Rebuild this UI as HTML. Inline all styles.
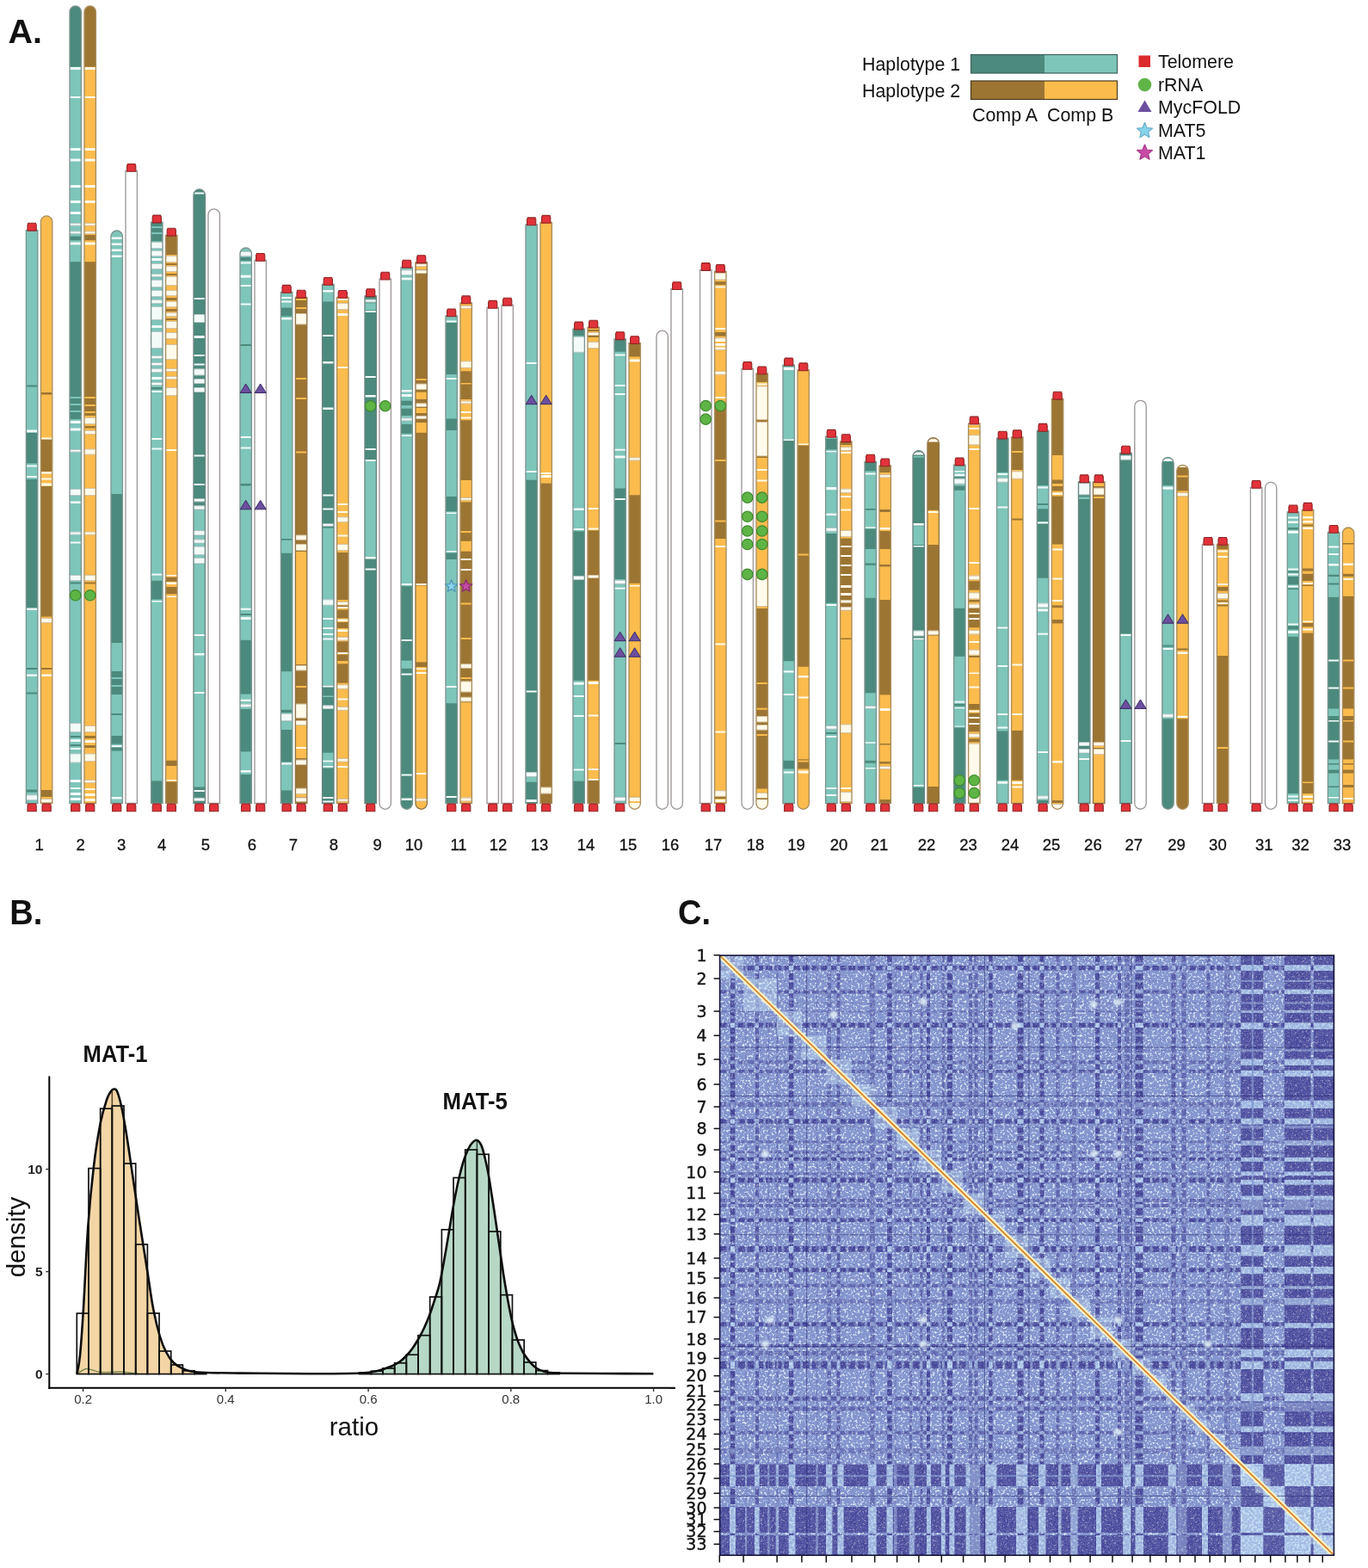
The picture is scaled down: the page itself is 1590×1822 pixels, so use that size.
<!DOCTYPE html>
<html><head><meta charset="utf-8"><title>Figure</title>
<style>html,body{margin:0;padding:0;background:#fff;} svg{display:block;}</style>
</head><body>
<svg width="1590" height="1822" viewBox="0 0 1590 1822" font-family="'Liberation Sans', Arial, sans-serif" fill="#111">
<defs><clipPath id="c1"><path d="M30.4,267.3 L43.8,267.3 L43.8,933.5 L30.4,933.5 Z"/></clipPath><clipPath id="c2"><path d="M47.4,257.6 A6.7,6.7 0 0 1 60.8,257.6 L60.8,933.5 L47.4,933.5 Z"/></clipPath><clipPath id="c3"><path d="M81,13.7 A6.7,6.7 0 0 1 94.4,13.7 L94.4,933.5 L81,933.5 Z"/></clipPath><clipPath id="c4"><path d="M98,13.7 A6.7,6.7 0 0 1 111.4,13.7 L111.4,933.5 L98,933.5 Z"/></clipPath><clipPath id="c5"><path d="M129,274.7 A6.7,6.7 0 0 1 142.4,274.7 L142.4,933.5 L129,933.5 Z"/></clipPath><clipPath id="c6"><path d="M146,198.5 L159.4,198.5 L159.4,933.5 L146,933.5 Z"/></clipPath><clipPath id="c7"><path d="M175.6,258.1 L189,258.1 L189,933.5 L175.6,933.5 Z"/></clipPath><clipPath id="c8"><path d="M192.6,273.3 L206,273.3 L206,933.5 L192.6,933.5 Z"/></clipPath><clipPath id="c9"><path d="M225,226.7 A6.7,6.7 0 0 1 238.4,226.7 L238.4,933.5 L225,933.5 Z"/></clipPath><clipPath id="c10"><path d="M242,249.5 A6.7,6.7 0 0 1 255.4,249.5 L255.4,933.5 L242,933.5 Z"/></clipPath><clipPath id="c11"><path d="M279,294.7 A6.7,6.7 0 0 1 292.4,294.7 L292.4,933.5 L279,933.5 Z"/></clipPath><clipPath id="c12"><path d="M296,302.5 L309.4,302.5 L309.4,933.5 L296,933.5 Z"/></clipPath><clipPath id="c13"><path d="M326.4,339.4 L339.8,339.4 L339.8,933.5 L326.4,933.5 Z"/></clipPath><clipPath id="c14"><path d="M343.4,345.3 L356.8,345.3 L356.8,933.5 L343.4,933.5 Z"/></clipPath><clipPath id="c15"><path d="M374.6,330.5 L388,330.5 L388,933.5 L374.6,933.5 Z"/></clipPath><clipPath id="c16"><path d="M391.6,345.5 L405,345.5 L405,933.5 L391.6,933.5 Z"/></clipPath><clipPath id="c17"><path d="M424,343.8 L437.4,343.8 L437.4,933.5 L424,933.5 Z"/></clipPath><clipPath id="c18"><path d="M441,324.2 L454.4,324.2 L454.4,933.6 A6.7,6.7 0 0 1 441,933.6 Z"/></clipPath><clipPath id="c19"><path d="M466,310.3 L479.4,310.3 L479.4,933.6 A6.7,6.7 0 0 1 466,933.6 Z"/></clipPath><clipPath id="c20"><path d="M483,304.8 L496.4,304.8 L496.4,933.6 A6.7,6.7 0 0 1 483,933.6 Z"/></clipPath><clipPath id="c21"><path d="M518,367 L531.4,367 L531.4,933.5 L518,933.5 Z"/></clipPath><clipPath id="c22"><path d="M535,351.9 L548.4,351.9 L548.4,933.5 L535,933.5 Z"/></clipPath><clipPath id="c23"><path d="M566,357.4 L579.4,357.4 L579.4,933.5 L566,933.5 Z"/></clipPath><clipPath id="c24"><path d="M583,354.3 L596.4,354.3 L596.4,933.5 L583,933.5 Z"/></clipPath><clipPath id="c25"><path d="M611,260.9 L624.4,260.9 L624.4,933.5 L611,933.5 Z"/></clipPath><clipPath id="c26"><path d="M628,258.4 L641.4,258.4 L641.4,933.5 L628,933.5 Z"/></clipPath><clipPath id="c27"><path d="M666,382.1 L679.4,382.1 L679.4,933.5 L666,933.5 Z"/></clipPath><clipPath id="c28"><path d="M683,380.2 L696.4,380.2 L696.4,933.5 L683,933.5 Z"/></clipPath><clipPath id="c29"><path d="M714,393.8 L727.4,393.8 L727.4,933.5 L714,933.5 Z"/></clipPath><clipPath id="c30"><path d="M731,398.7 L744.4,398.7 L744.4,933.6 A6.7,6.7 0 0 1 731,933.6 Z"/></clipPath><clipPath id="c31"><path d="M763,390.9 A6.7,6.7 0 0 1 776.4,390.9 L776.4,933.6 A6.7,6.7 0 0 1 763,933.6 Z"/></clipPath><clipPath id="c32"><path d="M780,335.7 L793.4,335.7 L793.4,933.6 A6.7,6.7 0 0 1 780,933.6 Z"/></clipPath><clipPath id="c33"><path d="M813.6,313.6 L827,313.6 L827,933.5 L813.6,933.5 Z"/></clipPath><clipPath id="c34"><path d="M830.6,315.5 L844,315.5 L844,933.5 L830.6,933.5 Z"/></clipPath><clipPath id="c35"><path d="M862,428.5 L875.4,428.5 L875.4,933.6 A6.7,6.7 0 0 1 862,933.6 Z"/></clipPath><clipPath id="c36"><path d="M879,434 L892.4,434 L892.4,933.6 A6.7,6.7 0 0 1 879,933.6 Z"/></clipPath><clipPath id="c37"><path d="M910,424.1 L923.4,424.1 L923.4,933.5 L910,933.5 Z"/></clipPath><clipPath id="c38"><path d="M927,429.9 L940.4,429.9 L940.4,933.6 A6.7,6.7 0 0 1 927,933.6 Z"/></clipPath><clipPath id="c39"><path d="M959.6,507.4 L973,507.4 L973,933.5 L959.6,933.5 Z"/></clipPath><clipPath id="c40"><path d="M976.6,512.8 L990,512.8 L990,933.5 L976.6,933.5 Z"/></clipPath><clipPath id="c41"><path d="M1005,536.3 L1018.4,536.3 L1018.4,933.5 L1005,933.5 Z"/></clipPath><clipPath id="c42"><path d="M1022,541 L1035.4,541 L1035.4,933.5 L1022,933.5 Z"/></clipPath><clipPath id="c43"><path d="M1061,530.4 A6.7,6.7 0 0 1 1074.4,530.4 L1074.4,933.5 L1061,933.5 Z"/></clipPath><clipPath id="c44"><path d="M1078,515.3 A6.7,6.7 0 0 1 1091.4,515.3 L1091.4,933.5 L1078,933.5 Z"/></clipPath><clipPath id="c45"><path d="M1108.6,540.1 L1122,540.1 L1122,933.5 L1108.6,933.5 Z"/></clipPath><clipPath id="c46"><path d="M1125.6,492.1 L1139,492.1 L1139,933.5 L1125.6,933.5 Z"/></clipPath><clipPath id="c47"><path d="M1158.6,509.2 L1172,509.2 L1172,933.5 L1158.6,933.5 Z"/></clipPath><clipPath id="c48"><path d="M1175.6,507.9 L1189,507.9 L1189,933.5 L1175.6,933.5 Z"/></clipPath><clipPath id="c49"><path d="M1205.4,500.4 L1218.8,500.4 L1218.8,933.5 L1205.4,933.5 Z"/></clipPath><clipPath id="c50"><path d="M1222.4,463.3 L1235.8,463.3 L1235.8,933.6 A6.7,6.7 0 0 1 1222.4,933.6 Z"/></clipPath><clipPath id="c51"><path d="M1253.5,559.9 L1266.9,559.9 L1266.9,933.5 L1253.5,933.5 Z"/></clipPath><clipPath id="c52"><path d="M1270.5,559.9 L1283.9,559.9 L1283.9,933.5 L1270.5,933.5 Z"/></clipPath><clipPath id="c53"><path d="M1301.8,526.3 L1315.2,526.3 L1315.2,933.5 L1301.8,933.5 Z"/></clipPath><clipPath id="c54"><path d="M1318.8,472 A6.7,6.7 0 0 1 1332.2,472 L1332.2,933.6 A6.7,6.7 0 0 1 1318.8,933.6 Z"/></clipPath><clipPath id="c55"><path d="M1350.8,538.2 A6.7,6.7 0 0 1 1364.2,538.2 L1364.2,933.6 A6.7,6.7 0 0 1 1350.8,933.6 Z"/></clipPath><clipPath id="c56"><path d="M1367.8,547 A6.7,6.7 0 0 1 1381.2,547 L1381.2,933.6 A6.7,6.7 0 0 1 1367.8,933.6 Z"/></clipPath><clipPath id="c57"><path d="M1397.4,632.5 L1410.8,632.5 L1410.8,933.5 L1397.4,933.5 Z"/></clipPath><clipPath id="c58"><path d="M1414.4,632.5 L1427.8,632.5 L1427.8,933.5 L1414.4,933.5 Z"/></clipPath><clipPath id="c59"><path d="M1453.4,566.5 L1466.8,566.5 L1466.8,933.5 L1453.4,933.5 Z"/></clipPath><clipPath id="c60"><path d="M1470.4,567.1 A6.7,6.7 0 0 1 1483.8,567.1 L1483.8,933.6 A6.7,6.7 0 0 1 1470.4,933.6 Z"/></clipPath><clipPath id="c61"><path d="M1496.3,595 L1509.7,595 L1509.7,933.5 L1496.3,933.5 Z"/></clipPath><clipPath id="c62"><path d="M1513.3,592.4 L1526.7,592.4 L1526.7,933.5 L1513.3,933.5 Z"/></clipPath><clipPath id="c63"><path d="M1543.4,618.5 L1556.8,618.5 L1556.8,933.5 L1543.4,933.5 Z"/></clipPath><clipPath id="c64"><path d="M1560.4,619.7 A6.7,6.7 0 0 1 1573.8,619.7 L1573.8,933.5 L1560.4,933.5 Z"/></clipPath><clipPath id="hm"><rect x="836.6" y="1110.2" width="713.8" height="697.0"/></clipPath><mask id="vm" maskUnits="userSpaceOnUse" x="836.6" y="1110.2" width="713.8" height="697.0"><rect x="848.8" y="1110.2" width="5.5" height="697.0" fill="#fff" fill-opacity="1.00"/><rect x="878.0" y="1110.2" width="4.0" height="697.0" fill="#fff" fill-opacity="0.80"/><rect x="916.8" y="1110.2" width="5.5" height="697.0" fill="#fff" fill-opacity="1.00"/><rect x="972.5" y="1110.2" width="4.0" height="697.0" fill="#fff" fill-opacity="0.80"/><rect x="1031.2" y="1110.2" width="5.5" height="697.0" fill="#fff" fill-opacity="1.00"/><rect x="1057.0" y="1110.2" width="3.0" height="697.0" fill="#fff" fill-opacity="0.60"/><rect x="1069.5" y="1110.2" width="3.0" height="697.0" fill="#fff" fill-opacity="0.70"/><rect x="1077.0" y="1110.2" width="4.0" height="697.0" fill="#fff" fill-opacity="1.00"/><rect x="1101.0" y="1110.2" width="6.0" height="697.0" fill="#fff" fill-opacity="1.00"/><rect x="1126.0" y="1110.2" width="4.0" height="697.0" fill="#fff" fill-opacity="0.70"/><rect x="1132.5" y="1110.2" width="4.0" height="697.0" fill="#fff" fill-opacity="0.70"/><rect x="1149.2" y="1110.2" width="4.5" height="697.0" fill="#fff" fill-opacity="1.00"/><rect x="1182.5" y="1110.2" width="7.0" height="697.0" fill="#fff" fill-opacity="1.00"/><rect x="1208.5" y="1110.2" width="5.0" height="697.0" fill="#fff" fill-opacity="1.00"/><rect x="1227.5" y="1110.2" width="4.0" height="697.0" fill="#fff" fill-opacity="0.70"/><rect x="1273.1" y="1110.2" width="5.0" height="697.0" fill="#fff" fill-opacity="1.00"/><rect x="1299.0" y="1110.2" width="4.0" height="697.0" fill="#fff" fill-opacity="0.90"/><rect x="1319.5" y="1110.2" width="9.0" height="697.0" fill="#fff" fill-opacity="1.00"/><rect x="1361.5" y="1110.2" width="5.0" height="697.0" fill="#fff" fill-opacity="0.80"/><rect x="1373.5" y="1110.2" width="5.0" height="697.0" fill="#fff" fill-opacity="0.70"/><rect x="1402.5" y="1110.2" width="4.0" height="697.0" fill="#fff" fill-opacity="0.70"/><rect x="866.4" y="1110.2" width="1.2" height="697.0" fill="#fff" fill-opacity="0.36"/><rect x="892.5" y="1110.2" width="1.5" height="697.0" fill="#fff" fill-opacity="0.30"/><rect x="902.4" y="1110.2" width="2.0" height="697.0" fill="#fff" fill-opacity="0.48"/><rect x="948.8" y="1110.2" width="1.4" height="697.0" fill="#fff" fill-opacity="0.36"/><rect x="961.5" y="1110.2" width="4.4" height="697.0" fill="#fff" fill-opacity="0.60"/><rect x="1011.1" y="1110.2" width="5.6" height="697.0" fill="#fff" fill-opacity="0.60"/><rect x="1039.7" y="1110.2" width="2.1" height="697.0" fill="#fff" fill-opacity="0.30"/><rect x="1094.9" y="1110.2" width="2.9" height="697.0" fill="#fff" fill-opacity="0.60"/><rect x="1245.9" y="1110.2" width="5.0" height="697.0" fill="#fff" fill-opacity="0.48"/><rect x="1307.1" y="1110.2" width="5.7" height="697.0" fill="#fff" fill-opacity="0.60"/><rect x="1423.0" y="1110.2" width="6.4" height="697.0" fill="#fff" fill-opacity="0.42"/></mask><pattern id="pv" patternUnits="userSpaceOnUse" x="836.6" y="0" width="10.7" height="20"><rect width="10.7" height="20" fill="#fff"/><rect x="7.6" width="3.1" height="20" fill="#333"/></pattern><pattern id="ph" patternUnits="userSpaceOnUse" x="0" y="1110.2" width="20" height="10.5"><rect width="20" height="10.5" fill="#fff"/><rect y="7.5" width="20" height="3" fill="#333"/></pattern><mask id="mdv" maskUnits="userSpaceOnUse" x="836.6" y="1110.2" width="713.8" height="697.0"><rect x="836.6" y="1110.2" width="713.8" height="697.0" fill="url(#pv)"/></mask><mask id="mdh" maskUnits="userSpaceOnUse" x="836.6" y="1110.2" width="713.8" height="697.0"><rect x="836.6" y="1110.2" width="713.8" height="697.0" fill="url(#ph)"/></mask><filter id="bl" x="-50%" y="-50%" width="200%" height="200%"><feGaussianBlur stdDeviation="1.5"/></filter><filter id="nz" x="0" y="0" width="100%" height="100%" filterUnits="objectBoundingBox"><feTurbulence type="fractalNoise" baseFrequency="0.38" numOctaves="2" seed="7" result="t"/><feColorMatrix in="t" type="matrix" values="0 0 0 0 0.85  0 0 0 0 0.91  0 0 0 0 0.97  5.5 0 0 0 -2.9" result="w"/><feColorMatrix in="t" type="matrix" values="0 0 0 0 0.27  0 0 0 0 0.31  0 0 0 0 0.64  -5.5 0 0 0 3.15" result="d"/><feMerge><feMergeNode in="w"/><feMergeNode in="d"/></feMerge></filter></defs>
<rect width="1590" height="1822" fill="#ffffff"/>

<text x="9.5" y="49.8" font-size="39.5" font-weight="bold">A.</text>
<g font-size="18.5" stroke="#111" stroke-width="0.3"><text x="45.6" y="988" text-anchor="middle">1</text><text x="93.6" y="988" text-anchor="middle">2</text><text x="141.2" y="988" text-anchor="middle">3</text><text x="188.2" y="988" text-anchor="middle">4</text><text x="239" y="988" text-anchor="middle">5</text><text x="293" y="988" text-anchor="middle">6</text><text x="341" y="988" text-anchor="middle">7</text><text x="388" y="988" text-anchor="middle">8</text><text x="438.6" y="988" text-anchor="middle">9</text><text x="481" y="988" text-anchor="middle">10</text><text x="533" y="988" text-anchor="middle">11</text><text x="579" y="988" text-anchor="middle">12</text><text x="627" y="988" text-anchor="middle">13</text><text x="681" y="988" text-anchor="middle">14</text><text x="730" y="988" text-anchor="middle">15</text><text x="779" y="988" text-anchor="middle">16</text><text x="829" y="988" text-anchor="middle">17</text><text x="878" y="988" text-anchor="middle">18</text><text x="925.6" y="988" text-anchor="middle">19</text><text x="975" y="988" text-anchor="middle">20</text><text x="1022" y="988" text-anchor="middle">21</text><text x="1077" y="988" text-anchor="middle">22</text><text x="1125.6" y="988" text-anchor="middle">23</text><text x="1174" y="988" text-anchor="middle">24</text><text x="1222" y="988" text-anchor="middle">25</text><text x="1270.4" y="988" text-anchor="middle">26</text><text x="1317.7" y="988" text-anchor="middle">27</text><text x="1367.5" y="988" text-anchor="middle">29</text><text x="1415.4" y="988" text-anchor="middle">30</text><text x="1469.3" y="988" text-anchor="middle">31</text><text x="1511.5" y="988" text-anchor="middle">32</text><text x="1560" y="988" text-anchor="middle">33</text></g>


<g font-size="21.4">
<text x="1002" y="82">Haplotype 1</text>
<text x="1002" y="112.5">Haplotype 2</text>
<rect x="1128.5" y="63.5" width="85.5" height="21.5" fill="#4b8a7c"/>
<rect x="1214" y="63.5" width="84.5" height="21.5" fill="#7ec5ba"/>
<rect x="1128.5" y="63.5" width="170" height="21.5" fill="none" stroke="#3f5f5a" stroke-width="1.2"/>
<rect x="1128.5" y="94" width="85.5" height="21.5" fill="#9c7533"/>
<rect x="1214" y="94" width="84.5" height="21.5" fill="#fbbc4d"/>
<rect x="1128.5" y="94" width="170" height="21.5" fill="none" stroke="#4a3a20" stroke-width="1.2"/>
<text x="1130" y="141">Comp A</text>
<text x="1217" y="141">Comp B</text>
<rect x="1323.5" y="64.5" width="13.5" height="13.5" fill="#dd2a2c"/>
<text x="1346" y="79">Telomere</text>
<circle cx="1330.5" cy="98.5" r="7.8" fill="#5fb446"/>
<text x="1346" y="106">rRNA</text>
<path d="M1330.5,116.5 L1338.5,130 L1322.5,130 Z" fill="#6c4f9f"/>
<text x="1346" y="131.5">MycFOLD</text>
<polygon points="1330.5,142.5 1333.03,148.52 1339.54,149.06 1334.59,153.33 1336.08,159.69 1330.5,156.3 1324.92,159.69 1326.41,153.33 1321.46,149.06 1327.97,148.52" fill="#86d3ea" stroke="#6aaecb" stroke-width="1.2" stroke-linejoin="round"/>
<text x="1346" y="159">MAT5</text>
<polygon points="1330.5,168 1333.03,174.02 1339.54,174.56 1334.59,178.83 1336.08,185.19 1330.5,181.8 1324.92,185.19 1326.41,178.83 1321.46,174.56 1327.97,174.02" fill="#c84ba6" stroke="#a83a88" stroke-width="1.2" stroke-linejoin="round"/>
<text x="1346" y="184.5">MAT1</text>
</g>

<path d="M30.4,267.3 L43.8,267.3 L43.8,933.5 L30.4,933.5 Z" fill="#7ec5ba"/><g clip-path="url(#c1)"><rect x="30.4" y="447.5" width="13.4" height="2" fill="#4b8a7c"/><rect x="30.4" y="499.5" width="13.4" height="3" fill="#f3fbf9"/><rect x="30.4" y="502.8" width="13.4" height="35.6" fill="#4b8a7c"/><rect x="30.4" y="540.5" width="13.4" height="2" fill="#f3fbf9"/><rect x="30.4" y="553" width="13.4" height="2" fill="#f3fbf9"/><rect x="30.4" y="557" width="13.4" height="149.6" fill="#4b8a7c"/><rect x="30.4" y="706.6" width="13.4" height="2.4" fill="#f3fbf9"/><rect x="30.4" y="776" width="13.4" height="2" fill="#4b8a7c"/><rect x="30.4" y="783.5" width="13.4" height="2.5" fill="#f3fbf9"/><rect x="30.4" y="804.5" width="13.4" height="2" fill="#4b8a7c"/><rect x="30.4" y="917.5" width="13.4" height="3" fill="#4b8a7c"/><rect x="30.4" y="923.5" width="13.4" height="6.5" fill="#f3fbf9"/><path d="M30.4,923.9h13.4M30.4,929.6h13.4" stroke="#7f9a95" stroke-width="0.8" stroke-opacity="0.7"/></g><path d="M30.4,267.3 L43.8,267.3 L43.8,933.5 L30.4,933.5 Z" fill="none" stroke="#7c948f" stroke-width="1.35"/><path d="M32.8,259.3 L41.4,259.3 L42.2,261.3 L42.2,268.1 L32,268.1 L32,261.3 Z" fill="#e2323a" stroke="#8e2424" stroke-width="1.1"/><path d="M32.8,934 L41.4,934 L42.2,936 L42.2,942.8 L32,942.8 L32,936 Z" fill="#e2323a" stroke="#8e2424" stroke-width="1.1"/><path d="M47.4,257.6 A6.7,6.7 0 0 1 60.8,257.6 L60.8,933.5 L47.4,933.5 Z" fill="#fbbc4d"/><g clip-path="url(#c2)"><rect x="47.4" y="456" width="13.4" height="2.5" fill="#9c7533"/><rect x="47.4" y="508.5" width="13.4" height="2.2" fill="#fffaea"/><rect x="47.4" y="510.7" width="13.4" height="37.5" fill="#9c7533"/><rect x="47.4" y="548.2" width="13.4" height="2.3" fill="#fffaea"/><rect x="47.4" y="555.5" width="13.4" height="2" fill="#fffaea"/><rect x="47.4" y="561.5" width="13.4" height="3" fill="#fffaea"/><rect x="47.4" y="565" width="13.4" height="151.5" fill="#9c7533"/><rect x="47.4" y="718" width="13.4" height="6" fill="#fffaea"/><path d="M47.4,718.4h13.4M47.4,723.6h13.4" stroke="#b09060" stroke-width="0.8" stroke-opacity="0.7"/><rect x="47.4" y="776" width="13.4" height="2" fill="#9c7533"/><rect x="47.4" y="783.5" width="13.4" height="2.5" fill="#fffaea"/><rect x="47.4" y="918" width="13.4" height="8" fill="#9c7533"/><rect x="47.4" y="928" width="13.4" height="5" fill="#fffaea"/><path d="M47.4,928.4h13.4M47.4,932.6h13.4" stroke="#b09060" stroke-width="0.8" stroke-opacity="0.7"/></g><path d="M47.4,257.6 A6.7,6.7 0 0 1 60.8,257.6 L60.8,933.5 L47.4,933.5 Z" fill="none" stroke="#a98d5c" stroke-width="1.35"/><path d="M49.8,934 L58.4,934 L59.2,936 L59.2,942.8 L49,942.8 L49,936 Z" fill="#e2323a" stroke="#8e2424" stroke-width="1.1"/><path d="M81,13.7 A6.7,6.7 0 0 1 94.4,13.7 L94.4,933.5 L81,933.5 Z" fill="#7ec5ba"/><g clip-path="url(#c3)"><rect x="81" y="7" width="13.4" height="70.7" fill="#4b8a7c"/><rect x="81" y="78" width="13.4" height="3" fill="#f3fbf9"/><rect x="81" y="112" width="13.4" height="2" fill="#f3fbf9"/><rect x="81" y="172" width="13.4" height="3" fill="#f3fbf9"/><rect x="81" y="184.5" width="13.4" height="3" fill="#f3fbf9"/><rect x="81" y="215" width="13.4" height="3" fill="#f3fbf9"/><rect x="81" y="233" width="13.4" height="3" fill="#f3fbf9"/><rect x="81" y="246" width="13.4" height="3" fill="#f3fbf9"/><rect x="81" y="259" width="13.4" height="3.5" fill="#f3fbf9"/><path d="M81,259.4h13.4M81,262.1h13.4" stroke="#7f9a95" stroke-width="0.8" stroke-opacity="0.7"/><rect x="81" y="268.5" width="13.4" height="3.5" fill="#f3fbf9"/><path d="M81,268.9h13.4M81,271.6h13.4" stroke="#7f9a95" stroke-width="0.8" stroke-opacity="0.7"/><rect x="81" y="274.6" width="13.4" height="4.6" fill="#4b8a7c"/><rect x="81" y="281.5" width="13.4" height="3" fill="#f3fbf9"/><rect x="81" y="304.2" width="13.4" height="182.8" fill="#4b8a7c"/><rect x="81" y="461" width="13.4" height="2" fill="#7ec5ba"/><rect x="81" y="469" width="13.4" height="2" fill="#7ec5ba"/><rect x="81" y="477" width="13.4" height="2" fill="#7ec5ba"/><rect x="81" y="489" width="13.4" height="3" fill="#f3fbf9"/><rect x="81" y="497.5" width="13.4" height="3" fill="#f3fbf9"/><rect x="81" y="522" width="13.4" height="3.5" fill="#f3fbf9"/><path d="M81,522.4h13.4M81,525.1h13.4" stroke="#7f9a95" stroke-width="0.8" stroke-opacity="0.7"/><rect x="81" y="568" width="13.4" height="8" fill="#f3fbf9"/><path d="M81,568.4h13.4M81,575.6h13.4" stroke="#7f9a95" stroke-width="0.8" stroke-opacity="0.7"/><rect x="81" y="582.5" width="13.4" height="2.5" fill="#f3fbf9"/><rect x="81" y="617.7" width="13.4" height="3.9" fill="#f3fbf9"/><path d="M81,618.1h13.4M81,621.2h13.4" stroke="#7f9a95" stroke-width="0.8" stroke-opacity="0.7"/><rect x="81" y="629.5" width="13.4" height="2" fill="#f3fbf9"/><rect x="81" y="668" width="13.4" height="7" fill="#f3fbf9"/><path d="M81,668.4h13.4M81,674.6h13.4" stroke="#7f9a95" stroke-width="0.8" stroke-opacity="0.7"/><rect x="81" y="676.5" width="13.4" height="2" fill="#4b8a7c"/><rect x="81" y="840" width="13.4" height="11" fill="#f3fbf9"/><path d="M81,840.4h13.4M81,850.6h13.4" stroke="#7f9a95" stroke-width="0.8" stroke-opacity="0.7"/><rect x="81" y="855" width="13.4" height="2" fill="#4b8a7c"/><rect x="81" y="859" width="13.4" height="3" fill="#f3fbf9"/><rect x="81" y="865" width="13.4" height="2" fill="#4b8a7c"/><rect x="81" y="869" width="13.4" height="2" fill="#f3fbf9"/><rect x="81" y="875.5" width="13.4" height="10.9" fill="#f3fbf9"/><path d="M81,875.9h13.4M81,886h13.4" stroke="#7f9a95" stroke-width="0.8" stroke-opacity="0.7"/><rect x="81" y="906" width="13.4" height="3" fill="#f3fbf9"/><rect x="81" y="915" width="13.4" height="2" fill="#f3fbf9"/><rect x="81" y="921" width="13.4" height="3" fill="#f3fbf9"/><rect x="81" y="927" width="13.4" height="3" fill="#f3fbf9"/></g><path d="M81,13.7 A6.7,6.7 0 0 1 94.4,13.7 L94.4,933.5 L81,933.5 Z" fill="none" stroke="#7c948f" stroke-width="1.35"/><path d="M83.4,934 L92,934 L92.8,936 L92.8,942.8 L82.6,942.8 L82.6,936 Z" fill="#e2323a" stroke="#8e2424" stroke-width="1.1"/><circle cx="87.7" cy="691.8" r="6.2" fill="#5fb446" stroke="#3d8a2e" stroke-width="1.2"/><path d="M98,13.7 A6.7,6.7 0 0 1 111.4,13.7 L111.4,933.5 L98,933.5 Z" fill="#fbbc4d"/><g clip-path="url(#c4)"><rect x="98" y="7" width="13.4" height="70.7" fill="#9c7533"/><rect x="98" y="78" width="13.4" height="3" fill="#fffaea"/><rect x="98" y="112" width="13.4" height="2" fill="#fffaea"/><rect x="98" y="172" width="13.4" height="3" fill="#fffaea"/><rect x="98" y="184.5" width="13.4" height="3" fill="#fffaea"/><rect x="98" y="215" width="13.4" height="3" fill="#fffaea"/><rect x="98" y="233" width="13.4" height="3" fill="#fffaea"/><rect x="98" y="259" width="13.4" height="3.5" fill="#fffaea"/><path d="M98,259.4h13.4M98,262.1h13.4" stroke="#b09060" stroke-width="0.8" stroke-opacity="0.7"/><rect x="98" y="268.5" width="13.4" height="3.5" fill="#fffaea"/><path d="M98,268.9h13.4M98,271.6h13.4" stroke="#b09060" stroke-width="0.8" stroke-opacity="0.7"/><rect x="98" y="273" width="13.4" height="6.2" fill="#9c7533"/><rect x="98" y="281.5" width="13.4" height="3" fill="#fffaea"/><rect x="98" y="304.2" width="13.4" height="178.8" fill="#9c7533"/><rect x="98" y="461" width="13.4" height="2" fill="#fbbc4d"/><rect x="98" y="470" width="13.4" height="2" fill="#fbbc4d"/><rect x="98" y="478" width="13.4" height="2" fill="#fbbc4d"/><rect x="98" y="485" width="13.4" height="8" fill="#fffaea"/><path d="M98,485.4h13.4M98,492.6h13.4" stroke="#b09060" stroke-width="0.8" stroke-opacity="0.7"/><rect x="98" y="495" width="13.4" height="2.5" fill="#9c7533"/><rect x="98" y="500" width="13.4" height="5" fill="#fffaea"/><path d="M98,500.4h13.4M98,504.6h13.4" stroke="#b09060" stroke-width="0.8" stroke-opacity="0.7"/><rect x="98" y="521.6" width="13.4" height="6.9" fill="#fffaea"/><path d="M98,522h13.4M98,528.1h13.4" stroke="#b09060" stroke-width="0.8" stroke-opacity="0.7"/><rect x="98" y="567" width="13.4" height="9" fill="#fffaea"/><path d="M98,567.4h13.4M98,575.6h13.4" stroke="#b09060" stroke-width="0.8" stroke-opacity="0.7"/><rect x="98" y="617.7" width="13.4" height="3.9" fill="#fffaea"/><path d="M98,618.1h13.4M98,621.2h13.4" stroke="#b09060" stroke-width="0.8" stroke-opacity="0.7"/><rect x="98" y="668" width="13.4" height="7" fill="#fffaea"/><path d="M98,668.4h13.4M98,674.6h13.4" stroke="#b09060" stroke-width="0.8" stroke-opacity="0.7"/><rect x="98" y="676.5" width="13.4" height="2" fill="#9c7533"/><rect x="98" y="843" width="13.4" height="8" fill="#fffaea"/><path d="M98,843.4h13.4M98,850.6h13.4" stroke="#b09060" stroke-width="0.8" stroke-opacity="0.7"/><rect x="98" y="855" width="13.4" height="3" fill="#9c7533"/><rect x="98" y="860" width="13.4" height="3" fill="#fffaea"/><rect x="98" y="866" width="13.4" height="3" fill="#9c7533"/><rect x="98" y="875.5" width="13.4" height="9.5" fill="#fffaea"/><path d="M98,875.9h13.4M98,884.6h13.4" stroke="#b09060" stroke-width="0.8" stroke-opacity="0.7"/><rect x="98" y="906" width="13.4" height="4" fill="#fffaea"/><path d="M98,906.4h13.4M98,909.6h13.4" stroke="#b09060" stroke-width="0.8" stroke-opacity="0.7"/><rect x="98" y="916" width="13.4" height="2" fill="#fffaea"/><rect x="98" y="922" width="13.4" height="3" fill="#fffaea"/><rect x="98" y="928" width="13.4" height="3" fill="#fffaea"/></g><path d="M98,13.7 A6.7,6.7 0 0 1 111.4,13.7 L111.4,933.5 L98,933.5 Z" fill="none" stroke="#a98d5c" stroke-width="1.35"/><path d="M100.4,934 L109,934 L109.8,936 L109.8,942.8 L99.6,942.8 L99.6,936 Z" fill="#e2323a" stroke="#8e2424" stroke-width="1.1"/><circle cx="104.7" cy="691.8" r="6.2" fill="#5fb446" stroke="#3d8a2e" stroke-width="1.2"/><path d="M129,274.7 A6.7,6.7 0 0 1 142.4,274.7 L142.4,933.5 L129,933.5 Z" fill="#7ec5ba"/><g clip-path="url(#c5)"><rect x="129" y="275.5" width="13.4" height="2.5" fill="#f3fbf9"/><rect x="129" y="282.5" width="13.4" height="2.5" fill="#f3fbf9"/><rect x="129" y="289.5" width="13.4" height="2.5" fill="#f3fbf9"/><rect x="129" y="296.5" width="13.4" height="2.5" fill="#f3fbf9"/><rect x="129" y="574" width="13.4" height="173" fill="#4b8a7c"/><rect x="129" y="780" width="13.4" height="27" fill="#4b8a7c"/><rect x="129" y="787" width="13.4" height="2" fill="#7ec5ba"/><rect x="129" y="796" width="13.4" height="2" fill="#7ec5ba"/><rect x="129" y="829" width="13.4" height="2" fill="#4b8a7c"/><rect x="129" y="855" width="13.4" height="9.6" fill="#4b8a7c"/><rect x="129" y="866" width="13.4" height="2" fill="#f3fbf9"/><rect x="129" y="868.6" width="13.4" height="3.9" fill="#4b8a7c"/><rect x="129" y="926" width="13.4" height="2.5" fill="#f3fbf9"/></g><path d="M129,274.7 A6.7,6.7 0 0 1 142.4,274.7 L142.4,933.5 L129,933.5 Z" fill="none" stroke="#7c948f" stroke-width="1.35"/><path d="M131.4,934 L140,934 L140.8,936 L140.8,942.8 L130.6,942.8 L130.6,936 Z" fill="#e2323a" stroke="#8e2424" stroke-width="1.1"/><path d="M146,198.5 L159.4,198.5 L159.4,933.5 L146,933.5 Z" fill="#ffffff"/><path d="M146,198.5 L159.4,198.5 L159.4,933.5 L146,933.5 Z" fill="none" stroke="#9d9797" stroke-width="1.35"/><path d="M148.4,190.5 L157,190.5 L157.8,192.5 L157.8,199.3 L147.6,199.3 L147.6,192.5 Z" fill="#e2323a" stroke="#8e2424" stroke-width="1.1"/><path d="M148.4,934 L157,934 L157.8,936 L157.8,942.8 L147.6,942.8 L147.6,936 Z" fill="#e2323a" stroke="#8e2424" stroke-width="1.1"/><path d="M175.6,258.1 L189,258.1 L189,933.5 L175.6,933.5 Z" fill="#7ec5ba"/><g clip-path="url(#c7)"><rect x="175.6" y="257.5" width="13.4" height="22.7" fill="#4b8a7c"/><rect x="175.6" y="263" width="13.4" height="2" fill="#7ec5ba"/><rect x="175.6" y="270" width="13.4" height="2" fill="#7ec5ba"/><rect x="175.6" y="281" width="13.4" height="8" fill="#f3fbf9"/><path d="M175.6,281.4h13.4M175.6,288.6h13.4" stroke="#7f9a95" stroke-width="0.8" stroke-opacity="0.7"/><rect x="175.6" y="291" width="13.4" height="7" fill="#f3fbf9"/><path d="M175.6,291.4h13.4M175.6,297.6h13.4" stroke="#7f9a95" stroke-width="0.8" stroke-opacity="0.7"/><rect x="175.6" y="300" width="13.4" height="3" fill="#f3fbf9"/><rect x="175.6" y="306" width="13.4" height="7" fill="#f3fbf9"/><path d="M175.6,306.4h13.4M175.6,312.6h13.4" stroke="#7f9a95" stroke-width="0.8" stroke-opacity="0.7"/><rect x="175.6" y="318" width="13.4" height="4" fill="#f3fbf9"/><path d="M175.6,318.4h13.4M175.6,321.6h13.4" stroke="#7f9a95" stroke-width="0.8" stroke-opacity="0.7"/><rect x="175.6" y="325" width="13.4" height="9" fill="#f3fbf9"/><path d="M175.6,325.4h13.4M175.6,333.6h13.4" stroke="#7f9a95" stroke-width="0.8" stroke-opacity="0.7"/><rect x="175.6" y="337" width="13.4" height="8" fill="#f3fbf9"/><path d="M175.6,337.4h13.4M175.6,344.6h13.4" stroke="#7f9a95" stroke-width="0.8" stroke-opacity="0.7"/><rect x="175.6" y="348" width="13.4" height="5" fill="#f3fbf9"/><path d="M175.6,348.4h13.4M175.6,352.6h13.4" stroke="#7f9a95" stroke-width="0.8" stroke-opacity="0.7"/><rect x="175.6" y="356" width="13.4" height="16" fill="#f3fbf9"/><path d="M175.6,356.4h13.4M175.6,371.6h13.4" stroke="#7f9a95" stroke-width="0.8" stroke-opacity="0.7"/><rect x="175.6" y="378" width="13.4" height="3" fill="#f3fbf9"/><rect x="175.6" y="385" width="13.4" height="20" fill="#f3fbf9"/><path d="M175.6,385.4h13.4M175.6,404.6h13.4" stroke="#7f9a95" stroke-width="0.8" stroke-opacity="0.7"/><rect x="175.6" y="413" width="13.4" height="4" fill="#f3fbf9"/><path d="M175.6,413.4h13.4M175.6,416.6h13.4" stroke="#7f9a95" stroke-width="0.8" stroke-opacity="0.7"/><rect x="175.6" y="421" width="13.4" height="4" fill="#f3fbf9"/><path d="M175.6,421.4h13.4M175.6,424.6h13.4" stroke="#7f9a95" stroke-width="0.8" stroke-opacity="0.7"/><rect x="175.6" y="428" width="13.4" height="5" fill="#f3fbf9"/><path d="M175.6,428.4h13.4M175.6,432.6h13.4" stroke="#7f9a95" stroke-width="0.8" stroke-opacity="0.7"/><rect x="175.6" y="438" width="13.4" height="3" fill="#f3fbf9"/><rect x="175.6" y="444" width="13.4" height="4" fill="#f3fbf9"/><path d="M175.6,444.4h13.4M175.6,447.6h13.4" stroke="#7f9a95" stroke-width="0.8" stroke-opacity="0.7"/><rect x="175.6" y="450" width="13.4" height="2.5" fill="#4b8a7c"/><rect x="175.6" y="454" width="13.4" height="2" fill="#f3fbf9"/><rect x="175.6" y="509" width="13.4" height="2" fill="#f3fbf9"/><rect x="175.6" y="520.5" width="13.4" height="2" fill="#f3fbf9"/><rect x="175.6" y="666.6" width="13.4" height="2" fill="#f3fbf9"/><rect x="175.6" y="674.8" width="13.4" height="21.6" fill="#4b8a7c"/><rect x="175.6" y="698" width="13.4" height="1.5" fill="#f3fbf9"/><rect x="175.6" y="907.4" width="13.4" height="25.6" fill="#4b8a7c"/></g><path d="M175.6,258.1 L189,258.1 L189,933.5 L175.6,933.5 Z" fill="none" stroke="#7c948f" stroke-width="1.35"/><path d="M178,250.1 L186.6,250.1 L187.4,252.1 L187.4,258.9 L177.2,258.9 L177.2,252.1 Z" fill="#e2323a" stroke="#8e2424" stroke-width="1.1"/><path d="M178,934 L186.6,934 L187.4,936 L187.4,942.8 L177.2,942.8 L177.2,936 Z" fill="#e2323a" stroke="#8e2424" stroke-width="1.1"/><path d="M192.6,273.3 L206,273.3 L206,933.5 L192.6,933.5 Z" fill="#fbbc4d"/><g clip-path="url(#c8)"><rect x="192.6" y="274.3" width="13.4" height="21.7" fill="#9c7533"/><rect x="192.6" y="297" width="13.4" height="8" fill="#fffaea"/><path d="M192.6,297.4h13.4M192.6,304.6h13.4" stroke="#b09060" stroke-width="0.8" stroke-opacity="0.7"/><rect x="192.6" y="306" width="13.4" height="2" fill="#9c7533"/><rect x="192.6" y="309" width="13.4" height="7" fill="#fffaea"/><path d="M192.6,309.4h13.4M192.6,315.6h13.4" stroke="#b09060" stroke-width="0.8" stroke-opacity="0.7"/><rect x="192.6" y="318" width="13.4" height="2" fill="#9c7533"/><rect x="192.6" y="321" width="13.4" height="11" fill="#fffaea"/><path d="M192.6,321.4h13.4M192.6,331.6h13.4" stroke="#b09060" stroke-width="0.8" stroke-opacity="0.7"/><rect x="192.6" y="333" width="13.4" height="3" fill="#fbbc4d"/><rect x="192.6" y="337" width="13.4" height="7" fill="#fffaea"/><path d="M192.6,337.4h13.4M192.6,343.6h13.4" stroke="#b09060" stroke-width="0.8" stroke-opacity="0.7"/><rect x="192.6" y="346" width="13.4" height="3" fill="#9c7533"/><rect x="192.6" y="350" width="13.4" height="7" fill="#fffaea"/><path d="M192.6,350.4h13.4M192.6,356.6h13.4" stroke="#b09060" stroke-width="0.8" stroke-opacity="0.7"/><rect x="192.6" y="359" width="13.4" height="3" fill="#9c7533"/><rect x="192.6" y="363" width="13.4" height="5" fill="#fffaea"/><path d="M192.6,363.4h13.4M192.6,367.6h13.4" stroke="#b09060" stroke-width="0.8" stroke-opacity="0.7"/><rect x="192.6" y="370" width="13.4" height="2" fill="#9c7533"/><rect x="192.6" y="373" width="13.4" height="9" fill="#fffaea"/><path d="M192.6,373.4h13.4M192.6,381.6h13.4" stroke="#b09060" stroke-width="0.8" stroke-opacity="0.7"/><rect x="192.6" y="383" width="13.4" height="2" fill="#fbbc4d"/><rect x="192.6" y="386" width="13.4" height="8" fill="#fffaea"/><path d="M192.6,386.4h13.4M192.6,393.6h13.4" stroke="#b09060" stroke-width="0.8" stroke-opacity="0.7"/><rect x="192.6" y="395" width="13.4" height="3" fill="#fbbc4d"/><rect x="192.6" y="400" width="13.4" height="18" fill="#fffaea"/><path d="M192.6,400.4h13.4M192.6,417.6h13.4" stroke="#b09060" stroke-width="0.8" stroke-opacity="0.7"/><rect x="192.6" y="428" width="13.4" height="4" fill="#fffaea"/><path d="M192.6,428.4h13.4M192.6,431.6h13.4" stroke="#b09060" stroke-width="0.8" stroke-opacity="0.7"/><rect x="192.6" y="437" width="13.4" height="4" fill="#fffaea"/><path d="M192.6,437.4h13.4M192.6,440.6h13.4" stroke="#b09060" stroke-width="0.8" stroke-opacity="0.7"/><rect x="192.6" y="450" width="13.4" height="10" fill="#fffaea"/><path d="M192.6,450.4h13.4M192.6,459.6h13.4" stroke="#b09060" stroke-width="0.8" stroke-opacity="0.7"/><rect x="192.6" y="522" width="13.4" height="2" fill="#fffaea"/><rect x="192.6" y="668" width="13.4" height="1.5" fill="#fffaea"/><rect x="192.6" y="670.7" width="13.4" height="5.1" fill="#9c7533"/><rect x="192.6" y="676.5" width="13.4" height="2.5" fill="#fffaea"/><rect x="192.6" y="682" width="13.4" height="8.2" fill="#9c7533"/><rect x="192.6" y="692.5" width="13.4" height="1.5" fill="#fffaea"/><rect x="192.6" y="883.7" width="13.4" height="6.3" fill="#9c7533"/><rect x="192.6" y="906" width="13.4" height="1.5" fill="#fffaea"/><rect x="192.6" y="908.4" width="13.4" height="24.6" fill="#9c7533"/></g><path d="M192.6,273.3 L206,273.3 L206,933.5 L192.6,933.5 Z" fill="none" stroke="#a98d5c" stroke-width="1.35"/><path d="M195,265.3 L203.6,265.3 L204.4,267.3 L204.4,274.1 L194.2,274.1 L194.2,267.3 Z" fill="#e2323a" stroke="#8e2424" stroke-width="1.1"/><path d="M195,934 L203.6,934 L204.4,936 L204.4,942.8 L194.2,942.8 L194.2,936 Z" fill="#e2323a" stroke="#8e2424" stroke-width="1.1"/><path d="M225,226.7 A6.7,6.7 0 0 1 238.4,226.7 L238.4,933.5 L225,933.5 Z" fill="#4b8a7c"/><g clip-path="url(#c9)"><rect x="225" y="223.5" width="13.4" height="2" fill="#f3fbf9"/><rect x="225" y="346" width="13.4" height="2" fill="#f3fbf9"/><rect x="225" y="365" width="13.4" height="10" fill="#f3fbf9"/><path d="M225,365.4h13.4M225,374.6h13.4" stroke="#7f9a95" stroke-width="0.8" stroke-opacity="0.7"/><rect x="225" y="390" width="13.4" height="3" fill="#f3fbf9"/><rect x="225" y="412" width="13.4" height="2" fill="#f3fbf9"/><rect x="225" y="422.5" width="13.4" height="2" fill="#f3fbf9"/><rect x="225" y="428.4" width="13.4" height="7.9" fill="#f3fbf9"/><path d="M225,428.8h13.4M225,435.9h13.4" stroke="#7f9a95" stroke-width="0.8" stroke-opacity="0.7"/><rect x="225" y="440" width="13.4" height="6" fill="#f3fbf9"/><path d="M225,440.4h13.4M225,445.6h13.4" stroke="#7f9a95" stroke-width="0.8" stroke-opacity="0.7"/><rect x="225" y="450" width="13.4" height="6" fill="#f3fbf9"/><path d="M225,450.4h13.4M225,455.6h13.4" stroke="#7f9a95" stroke-width="0.8" stroke-opacity="0.7"/><rect x="225" y="528.5" width="13.4" height="2" fill="#f3fbf9"/><rect x="225" y="562" width="13.4" height="2" fill="#f3fbf9"/><rect x="225" y="579.1" width="13.4" height="4.1" fill="#f3fbf9"/><path d="M225,579.5h13.4M225,582.8h13.4" stroke="#7f9a95" stroke-width="0.8" stroke-opacity="0.7"/><rect x="225" y="587.3" width="13.4" height="5.2" fill="#f3fbf9"/><path d="M225,587.7h13.4M225,592.1h13.4" stroke="#7f9a95" stroke-width="0.8" stroke-opacity="0.7"/><rect x="225" y="593" width="13.4" height="23" fill="#7ec5ba"/><rect x="225" y="616.2" width="13.4" height="6.1" fill="#f3fbf9"/><path d="M225,616.6h13.4M225,621.9h13.4" stroke="#7f9a95" stroke-width="0.8" stroke-opacity="0.7"/><rect x="225" y="622.3" width="13.4" height="4.2" fill="#7ec5ba"/><rect x="225" y="626.5" width="13.4" height="5.1" fill="#f3fbf9"/><path d="M225,626.9h13.4M225,631.2h13.4" stroke="#7f9a95" stroke-width="0.8" stroke-opacity="0.7"/><rect x="225" y="631.6" width="13.4" height="3.1" fill="#7ec5ba"/><rect x="225" y="634.7" width="13.4" height="10.3" fill="#f3fbf9"/><path d="M225,635.1h13.4M225,644.6h13.4" stroke="#7f9a95" stroke-width="0.8" stroke-opacity="0.7"/><rect x="225" y="645" width="13.4" height="3" fill="#7ec5ba"/><rect x="225" y="648" width="13.4" height="7.3" fill="#f3fbf9"/><path d="M225,648.4h13.4M225,654.9h13.4" stroke="#7f9a95" stroke-width="0.8" stroke-opacity="0.7"/><rect x="225" y="655.3" width="13.4" height="259.2" fill="#7ec5ba"/><rect x="225" y="737" width="13.4" height="2" fill="#f3fbf9"/><rect x="225" y="759" width="13.4" height="2.5" fill="#f3fbf9"/><rect x="225" y="804" width="13.4" height="2" fill="#f3fbf9"/><rect x="225" y="918" width="13.4" height="2" fill="#f3fbf9"/><rect x="225" y="926.9" width="13.4" height="4.1" fill="#f3fbf9"/><path d="M225,927.3h13.4M225,930.6h13.4" stroke="#7f9a95" stroke-width="0.8" stroke-opacity="0.7"/></g><path d="M225,226.7 A6.7,6.7 0 0 1 238.4,226.7 L238.4,933.5 L225,933.5 Z" fill="none" stroke="#6a8580" stroke-width="1.35"/><path d="M227.4,934 L236,934 L236.8,936 L236.8,942.8 L226.6,942.8 L226.6,936 Z" fill="#e2323a" stroke="#8e2424" stroke-width="1.1"/><path d="M242,249.5 A6.7,6.7 0 0 1 255.4,249.5 L255.4,933.5 L242,933.5 Z" fill="#ffffff"/><path d="M242,249.5 A6.7,6.7 0 0 1 255.4,249.5 L255.4,933.5 L242,933.5 Z" fill="none" stroke="#9d9797" stroke-width="1.35"/><path d="M244.4,934 L253,934 L253.8,936 L253.8,942.8 L243.6,942.8 L243.6,936 Z" fill="#e2323a" stroke="#8e2424" stroke-width="1.1"/><path d="M279,294.7 A6.7,6.7 0 0 1 292.4,294.7 L292.4,933.5 L279,933.5 Z" fill="#7ec5ba"/><g clip-path="url(#c11)"><rect x="279" y="292" width="13.4" height="6" fill="#f3fbf9"/><path d="M279,292.4h13.4M279,297.6h13.4" stroke="#7f9a95" stroke-width="0.8" stroke-opacity="0.7"/><rect x="279" y="299" width="13.4" height="4" fill="#4b8a7c"/><rect x="279" y="304.5" width="13.4" height="2" fill="#f3fbf9"/><rect x="279" y="319.7" width="13.4" height="3" fill="#f3fbf9"/><rect x="279" y="331" width="13.4" height="2" fill="#f3fbf9"/><rect x="279" y="352.5" width="13.4" height="2" fill="#f3fbf9"/><rect x="279" y="400" width="13.4" height="2" fill="#4b8a7c"/><rect x="279" y="507" width="13.4" height="2" fill="#f3fbf9"/><rect x="279" y="519.5" width="13.4" height="2" fill="#f3fbf9"/><rect x="279" y="562" width="13.4" height="2.5" fill="#4b8a7c"/><rect x="279" y="706.7" width="13.4" height="2.1" fill="#f3fbf9"/><rect x="279" y="713" width="13.4" height="2" fill="#4b8a7c"/><rect x="279" y="717" width="13.4" height="3" fill="#f3fbf9"/><rect x="279" y="743.8" width="13.4" height="62.7" fill="#4b8a7c"/><rect x="279" y="812.7" width="13.4" height="2.3" fill="#f3fbf9"/><rect x="279" y="817.8" width="13.4" height="4.2" fill="#f3fbf9"/><path d="M279,818.2h13.4M279,821.6h13.4" stroke="#7f9a95" stroke-width="0.8" stroke-opacity="0.7"/><rect x="279" y="824" width="13.4" height="49.4" fill="#4b8a7c"/><rect x="279" y="895" width="13.4" height="2.5" fill="#f3fbf9"/><rect x="279" y="900" width="13.4" height="33" fill="#4b8a7c"/></g><path d="M279,294.7 A6.7,6.7 0 0 1 292.4,294.7 L292.4,933.5 L279,933.5 Z" fill="none" stroke="#7c948f" stroke-width="1.35"/><path d="M281.4,934 L290,934 L290.8,936 L290.8,942.8 L280.6,942.8 L280.6,936 Z" fill="#e2323a" stroke="#8e2424" stroke-width="1.1"/><path d="M285.7,446 L292.2,456.5 L279.2,456.5 Z" fill="#6c4f9f" stroke="#3b2b63" stroke-width="1"/><path d="M285.7,581.3 L292.2,591.8 L279.2,591.8 Z" fill="#6c4f9f" stroke="#3b2b63" stroke-width="1"/><path d="M296,302.5 L309.4,302.5 L309.4,933.5 L296,933.5 Z" fill="#ffffff"/><path d="M296,302.5 L309.4,302.5 L309.4,933.5 L296,933.5 Z" fill="none" stroke="#9d9797" stroke-width="1.35"/><path d="M298.4,294.5 L307,294.5 L307.8,296.5 L307.8,303.3 L297.6,303.3 L297.6,296.5 Z" fill="#e2323a" stroke="#8e2424" stroke-width="1.1"/><path d="M298.4,934 L307,934 L307.8,936 L307.8,942.8 L297.6,942.8 L297.6,936 Z" fill="#e2323a" stroke="#8e2424" stroke-width="1.1"/><path d="M302.7,446 L309.2,456.5 L296.2,456.5 Z" fill="#6c4f9f" stroke="#3b2b63" stroke-width="1"/><path d="M302.7,581.3 L309.2,591.8 L296.2,591.8 Z" fill="#6c4f9f" stroke="#3b2b63" stroke-width="1"/><path d="M326.4,339.4 L339.8,339.4 L339.8,933.5 L326.4,933.5 Z" fill="#7ec5ba"/><g clip-path="url(#c13)"><rect x="326.4" y="345" width="13.4" height="2" fill="#f3fbf9"/><rect x="326.4" y="349.5" width="13.4" height="2" fill="#f3fbf9"/><rect x="326.4" y="357.6" width="13.4" height="9.8" fill="#4b8a7c"/><rect x="326.4" y="369" width="13.4" height="2.5" fill="#f3fbf9"/><rect x="326.4" y="626" width="13.4" height="1.7" fill="#4b8a7c"/><rect x="326.4" y="642.8" width="13.4" height="137.4" fill="#4b8a7c"/><rect x="326.4" y="824.8" width="13.4" height="3.2" fill="#4b8a7c"/><rect x="326.4" y="829" width="13.4" height="9" fill="#f3fbf9"/><path d="M326.4,829.4h13.4M326.4,837.6h13.4" stroke="#7f9a95" stroke-width="0.8" stroke-opacity="0.7"/><rect x="326.4" y="848" width="13.4" height="37.4" fill="#4b8a7c"/><rect x="326.4" y="886.3" width="13.4" height="2.2" fill="#f3fbf9"/><rect x="326.4" y="918.4" width="13.4" height="14.6" fill="#4b8a7c"/></g><path d="M326.4,339.4 L339.8,339.4 L339.8,933.5 L326.4,933.5 Z" fill="none" stroke="#7c948f" stroke-width="1.35"/><path d="M328.8,331.4 L337.4,331.4 L338.2,333.4 L338.2,340.2 L328,340.2 L328,333.4 Z" fill="#e2323a" stroke="#8e2424" stroke-width="1.1"/><path d="M328.8,934 L337.4,934 L338.2,936 L338.2,942.8 L328,942.8 L328,936 Z" fill="#e2323a" stroke="#8e2424" stroke-width="1.1"/><path d="M343.4,345.3 L356.8,345.3 L356.8,933.5 L343.4,933.5 Z" fill="#9c7533"/><g clip-path="url(#c14)"><rect x="343.4" y="347" width="13.4" height="2" fill="#fbbc4d"/><rect x="343.4" y="357" width="13.4" height="2" fill="#fbbc4d"/><rect x="343.4" y="364" width="13.4" height="13.2" fill="#fffaea"/><path d="M343.4,364.4h13.4M343.4,376.8h13.4" stroke="#b09060" stroke-width="0.8" stroke-opacity="0.7"/><rect x="343.4" y="439" width="13.4" height="2" fill="#fbbc4d"/><rect x="343.4" y="462" width="13.4" height="2" fill="#fbbc4d"/><rect x="343.4" y="524.5" width="13.4" height="2" fill="#fbbc4d"/><rect x="343.4" y="621.6" width="13.4" height="6.1" fill="#fffaea"/><path d="M343.4,622h13.4M343.4,627.3h13.4" stroke="#b09060" stroke-width="0.8" stroke-opacity="0.7"/><rect x="343.4" y="632" width="13.4" height="8" fill="#fffaea"/><path d="M343.4,632.4h13.4M343.4,639.6h13.4" stroke="#b09060" stroke-width="0.8" stroke-opacity="0.7"/><rect x="343.4" y="641" width="13.4" height="131" fill="#fbbc4d"/><rect x="343.4" y="773" width="13.4" height="6.3" fill="#fffaea"/><path d="M343.4,773.4h13.4M343.4,778.9h13.4" stroke="#b09060" stroke-width="0.8" stroke-opacity="0.7"/><rect x="343.4" y="797" width="13.4" height="2" fill="#fbbc4d"/><rect x="343.4" y="817.7" width="13.4" height="16.9" fill="#fffaea"/><path d="M343.4,818.1h13.4M343.4,834.2h13.4" stroke="#b09060" stroke-width="0.8" stroke-opacity="0.7"/><rect x="343.4" y="837" width="13.4" height="6" fill="#fffaea"/><path d="M343.4,837.4h13.4M343.4,842.6h13.4" stroke="#b09060" stroke-width="0.8" stroke-opacity="0.7"/><rect x="343.4" y="843" width="13.4" height="38" fill="#fbbc4d"/><rect x="343.4" y="868" width="13.4" height="2" fill="#fffaea"/><rect x="343.4" y="882.7" width="13.4" height="6.3" fill="#fffaea"/><path d="M343.4,883.1h13.4M343.4,888.6h13.4" stroke="#b09060" stroke-width="0.8" stroke-opacity="0.7"/><rect x="343.4" y="915.8" width="13.4" height="7.2" fill="#fffaea"/><path d="M343.4,916.2h13.4M343.4,922.6h13.4" stroke="#b09060" stroke-width="0.8" stroke-opacity="0.7"/><rect x="343.4" y="923" width="13.4" height="3" fill="#fbbc4d"/><rect x="343.4" y="926.5" width="13.4" height="5.3" fill="#fffaea"/><path d="M343.4,926.9h13.4M343.4,931.4h13.4" stroke="#b09060" stroke-width="0.8" stroke-opacity="0.7"/></g><path d="M343.4,345.3 L356.8,345.3 L356.8,933.5 L343.4,933.5 Z" fill="none" stroke="#8f7448" stroke-width="1.35"/><path d="M345.8,337.3 L354.4,337.3 L355.2,339.3 L355.2,346.1 L345,346.1 L345,339.3 Z" fill="#e2323a" stroke="#8e2424" stroke-width="1.1"/><path d="M345.8,934 L354.4,934 L355.2,936 L355.2,942.8 L345,942.8 L345,936 Z" fill="#e2323a" stroke="#8e2424" stroke-width="1.1"/><path d="M374.6,330.5 L388,330.5 L388,933.5 L374.6,933.5 Z" fill="#4b8a7c"/><g clip-path="url(#c15)"><rect x="374.6" y="330" width="13.4" height="20.5" fill="#7ec5ba"/><rect x="374.6" y="337" width="13.4" height="2.5" fill="#f3fbf9"/><rect x="374.6" y="389" width="13.4" height="2" fill="#f3fbf9"/><rect x="374.6" y="420" width="13.4" height="2.5" fill="#f3fbf9"/><rect x="374.6" y="473.5" width="13.4" height="2.5" fill="#f3fbf9"/><rect x="374.6" y="574.5" width="13.4" height="2" fill="#f3fbf9"/><rect x="374.6" y="590.5" width="13.4" height="2" fill="#f3fbf9"/><rect x="374.6" y="608.2" width="13.4" height="3.6" fill="#f3fbf9"/><path d="M374.6,608.6h13.4M374.6,611.4h13.4" stroke="#7f9a95" stroke-width="0.8" stroke-opacity="0.7"/><rect x="374.6" y="613.6" width="13.4" height="182.4" fill="#7ec5ba"/><rect x="374.6" y="696.4" width="13.4" height="7.1" fill="#f3fbf9"/><path d="M374.6,696.8h13.4M374.6,703.1h13.4" stroke="#7f9a95" stroke-width="0.8" stroke-opacity="0.7"/><rect x="374.6" y="718" width="13.4" height="2" fill="#f3fbf9"/><rect x="374.6" y="729" width="13.4" height="2" fill="#f3fbf9"/><rect x="374.6" y="736" width="13.4" height="2" fill="#f3fbf9"/><rect x="374.6" y="741.5" width="13.4" height="2" fill="#f3fbf9"/><rect x="374.6" y="796.5" width="13.4" height="2" fill="#f3fbf9"/><rect x="374.6" y="808.5" width="13.4" height="1.5" fill="#7ec5ba"/><rect x="374.6" y="819.4" width="13.4" height="4.6" fill="#f3fbf9"/><path d="M374.6,819.8h13.4M374.6,823.6h13.4" stroke="#7f9a95" stroke-width="0.8" stroke-opacity="0.7"/><rect x="374.6" y="874.7" width="13.4" height="17.9" fill="#7ec5ba"/><rect x="374.6" y="883.6" width="13.4" height="1.8" fill="#f3fbf9"/><rect x="374.6" y="890" width="13.4" height="1.6" fill="#f3fbf9"/><rect x="374.6" y="926" width="13.4" height="2" fill="#f3fbf9"/><rect x="374.6" y="930.5" width="13.4" height="2" fill="#f3fbf9"/></g><path d="M374.6,330.5 L388,330.5 L388,933.5 L374.6,933.5 Z" fill="none" stroke="#6a8580" stroke-width="1.35"/><path d="M377,322.5 L385.6,322.5 L386.4,324.5 L386.4,331.3 L376.2,331.3 L376.2,324.5 Z" fill="#e2323a" stroke="#8e2424" stroke-width="1.1"/><path d="M377,934 L385.6,934 L386.4,936 L386.4,942.8 L376.2,942.8 L376.2,936 Z" fill="#e2323a" stroke="#8e2424" stroke-width="1.1"/><path d="M391.6,345.5 L405,345.5 L405,933.5 L391.6,933.5 Z" fill="#fbbc4d"/><g clip-path="url(#c16)"><rect x="391.6" y="346.5" width="13.4" height="2.5" fill="#fffaea"/><rect x="391.6" y="352" width="13.4" height="8" fill="#fffaea"/><path d="M391.6,352.4h13.4M391.6,359.6h13.4" stroke="#b09060" stroke-width="0.8" stroke-opacity="0.7"/><rect x="391.6" y="364" width="13.4" height="3" fill="#fffaea"/><rect x="391.6" y="426" width="13.4" height="2" fill="#fffaea"/><rect x="391.6" y="585" width="13.4" height="2" fill="#fffaea"/><rect x="391.6" y="594" width="13.4" height="2" fill="#fffaea"/><rect x="391.6" y="600.5" width="13.4" height="6.5" fill="#fffaea"/><path d="M391.6,600.9h13.4M391.6,606.6h13.4" stroke="#b09060" stroke-width="0.8" stroke-opacity="0.7"/><rect x="391.6" y="621.5" width="13.4" height="2" fill="#fffaea"/><rect x="391.6" y="632" width="13.4" height="8" fill="#fffaea"/><path d="M391.6,632.4h13.4M391.6,639.6h13.4" stroke="#b09060" stroke-width="0.8" stroke-opacity="0.7"/><rect x="391.6" y="642" width="13.4" height="55" fill="#9c7533"/><rect x="391.6" y="699" width="13.4" height="4.5" fill="#fffaea"/><path d="M391.6,699.4h13.4M391.6,703.1h13.4" stroke="#b09060" stroke-width="0.8" stroke-opacity="0.7"/><rect x="391.6" y="703.5" width="13.4" height="1.5" fill="#9c7533"/><rect x="391.6" y="705" width="13.4" height="2" fill="#fffaea"/><rect x="391.6" y="708.5" width="13.4" height="10" fill="#9c7533"/><rect x="391.6" y="719.5" width="13.4" height="2.5" fill="#fffaea"/><rect x="391.6" y="723" width="13.4" height="7" fill="#9c7533"/><rect x="391.6" y="731.5" width="13.4" height="2.5" fill="#fffaea"/><rect x="391.6" y="740" width="13.4" height="4.5" fill="#fffaea"/><path d="M391.6,740.4h13.4M391.6,744.1h13.4" stroke="#b09060" stroke-width="0.8" stroke-opacity="0.7"/><rect x="391.6" y="745.4" width="13.4" height="12.5" fill="#9c7533"/><rect x="391.6" y="758" width="13.4" height="2" fill="#fffaea"/><rect x="391.6" y="760.5" width="13.4" height="7.5" fill="#9c7533"/><rect x="391.6" y="771.3" width="13.4" height="22.3" fill="#9c7533"/><rect x="391.6" y="795.4" width="13.4" height="5.3" fill="#fffaea"/><path d="M391.6,795.8h13.4M391.6,800.3h13.4" stroke="#b09060" stroke-width="0.8" stroke-opacity="0.7"/><rect x="391.6" y="811.5" width="13.4" height="2" fill="#fffaea"/><rect x="391.6" y="821" width="13.4" height="4.7" fill="#fffaea"/><path d="M391.6,821.4h13.4M391.6,825.3h13.4" stroke="#b09060" stroke-width="0.8" stroke-opacity="0.7"/><rect x="391.6" y="881" width="13.4" height="4.4" fill="#fffaea"/><path d="M391.6,881.4h13.4M391.6,885h13.4" stroke="#b09060" stroke-width="0.8" stroke-opacity="0.7"/><rect x="391.6" y="890" width="13.4" height="2" fill="#fffaea"/><rect x="391.6" y="928" width="13.4" height="3.5" fill="#fffaea"/><path d="M391.6,928.4h13.4M391.6,931.1h13.4" stroke="#b09060" stroke-width="0.8" stroke-opacity="0.7"/></g><path d="M391.6,345.5 L405,345.5 L405,933.5 L391.6,933.5 Z" fill="none" stroke="#a98d5c" stroke-width="1.35"/><path d="M394,337.5 L402.6,337.5 L403.4,339.5 L403.4,346.3 L393.2,346.3 L393.2,339.5 Z" fill="#e2323a" stroke="#8e2424" stroke-width="1.1"/><path d="M394,934 L402.6,934 L403.4,936 L403.4,942.8 L393.2,942.8 L393.2,936 Z" fill="#e2323a" stroke="#8e2424" stroke-width="1.1"/><path d="M424,343.8 L437.4,343.8 L437.4,933.5 L424,933.5 Z" fill="#4b8a7c"/><g clip-path="url(#c17)"><rect x="424" y="347.8" width="13.4" height="3.6" fill="#f3fbf9"/><path d="M424,348.2h13.4M424,351h13.4" stroke="#7f9a95" stroke-width="0.8" stroke-opacity="0.7"/><rect x="424" y="352.3" width="13.4" height="8" fill="#7ec5ba"/><rect x="424" y="361" width="13.4" height="2" fill="#f3fbf9"/><rect x="424" y="437" width="13.4" height="2" fill="#f3fbf9"/><rect x="424" y="459" width="13.4" height="2.5" fill="#f3fbf9"/><rect x="424" y="521" width="13.4" height="2" fill="#f3fbf9"/><rect x="424" y="534" width="13.4" height="2" fill="#f3fbf9"/><rect x="424" y="536" width="13.4" height="112.2" fill="#7ec5ba"/><rect x="424" y="647" width="13.4" height="2.5" fill="#f3fbf9"/><rect x="424" y="660.5" width="13.4" height="2" fill="#f3fbf9"/></g><path d="M424,343.8 L437.4,343.8 L437.4,933.5 L424,933.5 Z" fill="none" stroke="#6a8580" stroke-width="1.35"/><path d="M426.4,335.8 L435,335.8 L435.8,337.8 L435.8,344.6 L425.6,344.6 L425.6,337.8 Z" fill="#e2323a" stroke="#8e2424" stroke-width="1.1"/><path d="M426.4,934 L435,934 L435.8,936 L435.8,942.8 L425.6,942.8 L425.6,936 Z" fill="#e2323a" stroke="#8e2424" stroke-width="1.1"/><circle cx="430.7" cy="471.8" r="6.2" fill="#5fb446" stroke="#3d8a2e" stroke-width="1.2"/><path d="M441,324.2 L454.4,324.2 L454.4,933.6 A6.7,6.7 0 0 1 441,933.6 Z" fill="#ffffff"/><path d="M441,324.2 L454.4,324.2 L454.4,933.6 A6.7,6.7 0 0 1 441,933.6 Z" fill="none" stroke="#9d9797" stroke-width="1.35"/><path d="M443.4,316.2 L452,316.2 L452.8,318.2 L452.8,325 L442.6,325 L442.6,318.2 Z" fill="#e2323a" stroke="#8e2424" stroke-width="1.1"/><circle cx="447.7" cy="471.8" r="6.2" fill="#5fb446" stroke="#3d8a2e" stroke-width="1.2"/><path d="M466,310.3 L479.4,310.3 L479.4,933.6 A6.7,6.7 0 0 1 466,933.6 Z" fill="#7ec5ba"/><g clip-path="url(#c19)"><rect x="466" y="313.5" width="13.4" height="6.5" fill="#f3fbf9"/><path d="M466,313.9h13.4M466,319.6h13.4" stroke="#7f9a95" stroke-width="0.8" stroke-opacity="0.7"/><rect x="466" y="322.6" width="13.4" height="2.7" fill="#f3fbf9"/><rect x="466" y="453" width="13.4" height="2.5" fill="#f3fbf9"/><rect x="466" y="458" width="13.4" height="3" fill="#f3fbf9"/><rect x="466" y="465.7" width="13.4" height="5.3" fill="#4b8a7c"/><rect x="466" y="474.7" width="13.4" height="8.3" fill="#4b8a7c"/><rect x="466" y="485.6" width="13.4" height="3.6" fill="#f3fbf9"/><path d="M466,486h13.4M466,488.8h13.4" stroke="#7f9a95" stroke-width="0.8" stroke-opacity="0.7"/><rect x="466" y="492.9" width="13.4" height="10.8" fill="#4b8a7c"/><rect x="466" y="505.5" width="13.4" height="1.5" fill="#f3fbf9"/><rect x="466" y="678" width="13.4" height="2" fill="#f3fbf9"/><rect x="466" y="681.2" width="13.4" height="263.8" fill="#4b8a7c"/><rect x="466" y="743" width="13.4" height="2" fill="#f3fbf9"/><rect x="466" y="767.6" width="13.4" height="9.2" fill="#7ec5ba"/><rect x="466" y="782.5" width="13.4" height="2" fill="#f3fbf9"/><rect x="466" y="899.5" width="13.4" height="2" fill="#f3fbf9"/><rect x="466" y="927.5" width="13.4" height="2.5" fill="#f3fbf9"/></g><path d="M466,310.3 L479.4,310.3 L479.4,933.6 A6.7,6.7 0 0 1 466,933.6 Z" fill="none" stroke="#7c948f" stroke-width="1.35"/><path d="M468.4,302.3 L477,302.3 L477.8,304.3 L477.8,311.1 L467.6,311.1 L467.6,304.3 Z" fill="#e2323a" stroke="#8e2424" stroke-width="1.1"/><path d="M483,304.8 L496.4,304.8 L496.4,933.6 A6.7,6.7 0 0 1 483,933.6 Z" fill="#9c7533"/><g clip-path="url(#c20)"><rect x="483" y="306.3" width="13.4" height="3.7" fill="#fffaea"/><path d="M483,306.7h13.4M483,309.6h13.4" stroke="#b09060" stroke-width="0.8" stroke-opacity="0.7"/><rect x="483" y="310" width="13.4" height="3" fill="#fbbc4d"/><rect x="483" y="313.5" width="13.4" height="4.5" fill="#fffaea"/><path d="M483,313.9h13.4M483,317.6h13.4" stroke="#b09060" stroke-width="0.8" stroke-opacity="0.7"/><rect x="483" y="440" width="13.4" height="2" fill="#fbbc4d"/><rect x="483" y="445.8" width="13.4" height="7.2" fill="#fffaea"/><path d="M483,446.2h13.4M483,452.6h13.4" stroke="#b09060" stroke-width="0.8" stroke-opacity="0.7"/><rect x="483" y="455.7" width="13.4" height="8.2" fill="#fbbc4d"/><rect x="483" y="468.4" width="13.4" height="4.6" fill="#fffaea"/><path d="M483,468.8h13.4M483,472.6h13.4" stroke="#b09060" stroke-width="0.8" stroke-opacity="0.7"/><rect x="483" y="474" width="13.4" height="6" fill="#fbbc4d"/><rect x="483" y="483" width="13.4" height="4" fill="#fffaea"/><path d="M483,483.4h13.4M483,486.6h13.4" stroke="#b09060" stroke-width="0.8" stroke-opacity="0.7"/><rect x="483" y="491" width="13.4" height="11.8" fill="#fbbc4d"/><rect x="483" y="678" width="13.4" height="2" fill="#fffaea"/><rect x="483" y="680.5" width="13.4" height="264.5" fill="#fbbc4d"/><rect x="483" y="769.4" width="13.4" height="5.6" fill="#9c7533"/><rect x="483" y="776.5" width="13.4" height="1.5" fill="#fffaea"/><rect x="483" y="781" width="13.4" height="2" fill="#fffaea"/><rect x="483" y="898" width="13.4" height="2" fill="#fffaea"/><rect x="483" y="927.6" width="13.4" height="3.6" fill="#fffaea"/><path d="M483,928h13.4M483,930.8h13.4" stroke="#b09060" stroke-width="0.8" stroke-opacity="0.7"/></g><path d="M483,304.8 L496.4,304.8 L496.4,933.6 A6.7,6.7 0 0 1 483,933.6 Z" fill="none" stroke="#8f7448" stroke-width="1.35"/><path d="M485.4,296.8 L494,296.8 L494.8,298.8 L494.8,305.6 L484.6,305.6 L484.6,298.8 Z" fill="#e2323a" stroke="#8e2424" stroke-width="1.1"/><path d="M518,367 L531.4,367 L531.4,933.5 L518,933.5 Z" fill="#7ec5ba"/><g clip-path="url(#c21)"><rect x="518" y="372.5" width="13.4" height="2" fill="#f3fbf9"/><rect x="518" y="375" width="13.4" height="60" fill="#4b8a7c"/><rect x="518" y="439" width="13.4" height="2" fill="#f3fbf9"/><rect x="518" y="486.5" width="13.4" height="13.5" fill="#4b8a7c"/><rect x="518" y="577" width="13.4" height="17.3" fill="#4b8a7c"/><rect x="518" y="595.5" width="13.4" height="1.5" fill="#f3fbf9"/><rect x="518" y="640" width="13.4" height="1.5" fill="#f3fbf9"/><rect x="518" y="642.6" width="13.4" height="7.4" fill="#4b8a7c"/><rect x="518" y="797" width="13.4" height="2" fill="#f3fbf9"/><rect x="518" y="817.2" width="13.4" height="115.8" fill="#4b8a7c"/><rect x="518" y="925" width="13.4" height="2" fill="#f3fbf9"/></g><path d="M518,367 L531.4,367 L531.4,933.5 L518,933.5 Z" fill="none" stroke="#7c948f" stroke-width="1.35"/><path d="M520.4,359 L529,359 L529.8,361 L529.8,367.8 L519.6,367.8 L519.6,361 Z" fill="#e2323a" stroke="#8e2424" stroke-width="1.1"/><path d="M520.4,934 L529,934 L529.8,936 L529.8,942.8 L519.6,942.8 L519.6,936 Z" fill="#e2323a" stroke="#8e2424" stroke-width="1.1"/><polygon points="524.7,673.7 526.64,678.53 531.83,678.88 527.84,682.22 529.11,687.27 524.7,684.5 520.29,687.27 521.56,682.22 517.57,678.88 522.76,678.53" fill="#86d3ea" stroke="#4f93b3" stroke-width="1.2" stroke-linejoin="round"/><path d="M535,351.9 L548.4,351.9 L548.4,933.5 L535,933.5 Z" fill="#fbbc4d"/><g clip-path="url(#c22)"><rect x="535" y="355" width="13.4" height="3.8" fill="#fffaea"/><path d="M535,355.4h13.4M535,358.4h13.4" stroke="#b09060" stroke-width="0.8" stroke-opacity="0.7"/><rect x="535" y="419.5" width="13.4" height="8.2" fill="#fffaea"/><path d="M535,419.9h13.4M535,427.3h13.4" stroke="#b09060" stroke-width="0.8" stroke-opacity="0.7"/><rect x="535" y="431.3" width="13.4" height="32.7" fill="#9c7533"/><rect x="535" y="445" width="13.4" height="1.5" fill="#fbbc4d"/><rect x="535" y="465.7" width="13.4" height="3.6" fill="#fffaea"/><path d="M535,466.1h13.4M535,468.9h13.4" stroke="#b09060" stroke-width="0.8" stroke-opacity="0.7"/><rect x="535" y="478" width="13.4" height="2" fill="#fffaea"/><rect x="535" y="484.5" width="13.4" height="2" fill="#fffaea"/><rect x="535" y="488.3" width="13.4" height="69.7" fill="#9c7533"/><rect x="535" y="578" width="13.4" height="3.6" fill="#fffaea"/><path d="M535,578.4h13.4M535,581.2h13.4" stroke="#b09060" stroke-width="0.8" stroke-opacity="0.7"/><rect x="535" y="583.4" width="13.4" height="232.9" fill="#9c7533"/><rect x="535" y="617" width="13.4" height="2" fill="#fbbc4d"/><rect x="535" y="628.8" width="13.4" height="11.9" fill="#fbbc4d"/><rect x="535" y="649" width="13.4" height="2" fill="#fffaea"/><rect x="535" y="661" width="13.4" height="2" fill="#fffaea"/><rect x="535" y="700.5" width="13.4" height="2" fill="#fbbc4d"/><rect x="535" y="741" width="13.4" height="2" fill="#fbbc4d"/><rect x="535" y="771.3" width="13.4" height="5.5" fill="#fffaea"/><path d="M535,771.7h13.4M535,776.4h13.4" stroke="#b09060" stroke-width="0.8" stroke-opacity="0.7"/><rect x="535" y="787" width="13.4" height="2" fill="#fbbc4d"/><rect x="535" y="791.5" width="13.4" height="12.9" fill="#fffaea"/><path d="M535,791.9h13.4M535,804h13.4" stroke="#b09060" stroke-width="0.8" stroke-opacity="0.7"/><rect x="535" y="809.9" width="13.4" height="5.5" fill="#fffaea"/><path d="M535,810.3h13.4M535,815h13.4" stroke="#b09060" stroke-width="0.8" stroke-opacity="0.7"/><rect x="535" y="926.6" width="13.4" height="4.6" fill="#fffaea"/><path d="M535,927h13.4M535,930.8h13.4" stroke="#b09060" stroke-width="0.8" stroke-opacity="0.7"/></g><path d="M535,351.9 L548.4,351.9 L548.4,933.5 L535,933.5 Z" fill="none" stroke="#a98d5c" stroke-width="1.35"/><path d="M537.4,343.9 L546,343.9 L546.8,345.9 L546.8,352.7 L536.6,352.7 L536.6,345.9 Z" fill="#e2323a" stroke="#8e2424" stroke-width="1.1"/><path d="M537.4,934 L546,934 L546.8,936 L546.8,942.8 L536.6,942.8 L536.6,936 Z" fill="#e2323a" stroke="#8e2424" stroke-width="1.1"/><polygon points="541.7,673.7 543.64,678.53 548.83,678.88 544.84,682.22 546.11,687.27 541.7,684.5 537.29,687.27 538.56,682.22 534.57,678.88 539.76,678.53" fill="#c84ba6" stroke="#8c2c74" stroke-width="1.2" stroke-linejoin="round"/><path d="M566,357.4 L579.4,357.4 L579.4,933.5 L566,933.5 Z" fill="#ffffff"/><path d="M566,357.4 L579.4,357.4 L579.4,933.5 L566,933.5 Z" fill="none" stroke="#9d9797" stroke-width="1.35"/><path d="M568.4,349.4 L577,349.4 L577.8,351.4 L577.8,358.2 L567.6,358.2 L567.6,351.4 Z" fill="#e2323a" stroke="#8e2424" stroke-width="1.1"/><path d="M568.4,934 L577,934 L577.8,936 L577.8,942.8 L567.6,942.8 L567.6,936 Z" fill="#e2323a" stroke="#8e2424" stroke-width="1.1"/><path d="M583,354.3 L596.4,354.3 L596.4,933.5 L583,933.5 Z" fill="#ffffff"/><path d="M583,354.3 L596.4,354.3 L596.4,933.5 L583,933.5 Z" fill="none" stroke="#9d9797" stroke-width="1.35"/><path d="M585.4,346.3 L594,346.3 L594.8,348.3 L594.8,355.1 L584.6,355.1 L584.6,348.3 Z" fill="#e2323a" stroke="#8e2424" stroke-width="1.1"/><path d="M585.4,934 L594,934 L594.8,936 L594.8,942.8 L584.6,942.8 L584.6,936 Z" fill="#e2323a" stroke="#8e2424" stroke-width="1.1"/><path d="M611,260.9 L624.4,260.9 L624.4,933.5 L611,933.5 Z" fill="#7ec5ba"/><g clip-path="url(#c25)"><rect x="611" y="421" width="13.4" height="2" fill="#f3fbf9"/><rect x="611" y="547" width="13.4" height="2" fill="#f3fbf9"/><rect x="611" y="557.7" width="13.4" height="375.3" fill="#4b8a7c"/><rect x="611" y="802.5" width="13.4" height="2" fill="#f3fbf9"/><rect x="611" y="897" width="13.4" height="5.9" fill="#f3fbf9"/><path d="M611,897.4h13.4M611,902.5h13.4" stroke="#7f9a95" stroke-width="0.8" stroke-opacity="0.7"/><rect x="611" y="903" width="13.4" height="5.7" fill="#7ec5ba"/><rect x="611" y="929" width="13.4" height="3" fill="#f3fbf9"/></g><path d="M611,260.9 L624.4,260.9 L624.4,933.5 L611,933.5 Z" fill="none" stroke="#7c948f" stroke-width="1.35"/><path d="M613.4,252.9 L622,252.9 L622.8,254.9 L622.8,261.7 L612.6,261.7 L612.6,254.9 Z" fill="#e2323a" stroke="#8e2424" stroke-width="1.1"/><path d="M613.4,934 L622,934 L622.8,936 L622.8,942.8 L612.6,942.8 L612.6,936 Z" fill="#e2323a" stroke="#8e2424" stroke-width="1.1"/><path d="M617.7,459.2 L624.2,469.7 L611.2,469.7 Z" fill="#6c4f9f" stroke="#3b2b63" stroke-width="1"/><path d="M628,258.4 L641.4,258.4 L641.4,933.5 L628,933.5 Z" fill="#fbbc4d"/><g clip-path="url(#c26)"><rect x="628" y="549" width="13.4" height="2" fill="#fffaea"/><rect x="628" y="552" width="13.4" height="3" fill="#fffaea"/><rect x="628" y="561.6" width="13.4" height="371.4" fill="#9c7533"/><rect x="628" y="914.6" width="13.4" height="7.8" fill="#fffaea"/><path d="M628,915h13.4M628,922h13.4" stroke="#b09060" stroke-width="0.8" stroke-opacity="0.7"/></g><path d="M628,258.4 L641.4,258.4 L641.4,933.5 L628,933.5 Z" fill="none" stroke="#a98d5c" stroke-width="1.35"/><path d="M630.4,250.4 L639,250.4 L639.8,252.4 L639.8,259.2 L629.6,259.2 L629.6,252.4 Z" fill="#e2323a" stroke="#8e2424" stroke-width="1.1"/><path d="M630.4,934 L639,934 L639.8,936 L639.8,942.8 L629.6,942.8 L629.6,936 Z" fill="#e2323a" stroke="#8e2424" stroke-width="1.1"/><path d="M634.7,459.2 L641.2,469.7 L628.2,469.7 Z" fill="#6c4f9f" stroke="#3b2b63" stroke-width="1"/><path d="M666,382.1 L679.4,382.1 L679.4,933.5 L666,933.5 Z" fill="#7ec5ba"/><g clip-path="url(#c27)"><rect x="666" y="383.3" width="13.4" height="6.9" fill="#4b8a7c"/><rect x="666" y="391" width="13.4" height="18.7" fill="#f3fbf9"/><path d="M666,391.4h13.4M666,409.3h13.4" stroke="#7f9a95" stroke-width="0.8" stroke-opacity="0.7"/><rect x="666" y="590.5" width="13.4" height="2.5" fill="#f3fbf9"/><rect x="666" y="614" width="13.4" height="2" fill="#f3fbf9"/><rect x="666" y="617.4" width="13.4" height="173.4" fill="#4b8a7c"/><rect x="666" y="669" width="13.4" height="5" fill="#f3fbf9"/><path d="M666,669.4h13.4M666,673.6h13.4" stroke="#7f9a95" stroke-width="0.8" stroke-opacity="0.7"/><rect x="666" y="792.8" width="13.4" height="2.9" fill="#f3fbf9"/><rect x="666" y="808" width="13.4" height="2" fill="#f3fbf9"/><rect x="666" y="831" width="13.4" height="2" fill="#f3fbf9"/><rect x="666" y="893.5" width="13.4" height="2" fill="#f3fbf9"/><rect x="666" y="907.7" width="13.4" height="26.3" fill="#4b8a7c"/></g><path d="M666,382.1 L679.4,382.1 L679.4,933.5 L666,933.5 Z" fill="none" stroke="#7c948f" stroke-width="1.35"/><path d="M668.4,374.1 L677,374.1 L677.8,376.1 L677.8,382.9 L667.6,382.9 L667.6,376.1 Z" fill="#e2323a" stroke="#8e2424" stroke-width="1.1"/><path d="M668.4,934 L677,934 L677.8,936 L677.8,942.8 L667.6,942.8 L667.6,936 Z" fill="#e2323a" stroke="#8e2424" stroke-width="1.1"/><path d="M683,380.2 L696.4,380.2 L696.4,933.5 L683,933.5 Z" fill="#fbbc4d"/><g clip-path="url(#c28)"><rect x="683" y="383" width="13.4" height="2" fill="#9c7533"/><rect x="683" y="386" width="13.4" height="4" fill="#fffaea"/><path d="M683,386.4h13.4M683,389.6h13.4" stroke="#b09060" stroke-width="0.8" stroke-opacity="0.7"/><rect x="683" y="390" width="13.4" height="2" fill="#9c7533"/><rect x="683" y="397" width="13.4" height="8" fill="#fffaea"/><path d="M683,397.4h13.4M683,404.6h13.4" stroke="#b09060" stroke-width="0.8" stroke-opacity="0.7"/><rect x="683" y="590" width="13.4" height="2" fill="#fffaea"/><rect x="683" y="613.5" width="13.4" height="2" fill="#fffaea"/><rect x="683" y="616.4" width="13.4" height="174.4" fill="#9c7533"/><rect x="683" y="668" width="13.4" height="4" fill="#fffaea"/><path d="M683,668.4h13.4M683,671.6h13.4" stroke="#b09060" stroke-width="0.8" stroke-opacity="0.7"/><rect x="683" y="792" width="13.4" height="3" fill="#fffaea"/><rect x="683" y="830.5" width="13.4" height="2" fill="#fffaea"/><rect x="683" y="893" width="13.4" height="2" fill="#fffaea"/><rect x="683" y="905" width="13.4" height="2" fill="#fffaea"/><rect x="683" y="906.8" width="13.4" height="27.2" fill="#9c7533"/></g><path d="M683,380.2 L696.4,380.2 L696.4,933.5 L683,933.5 Z" fill="none" stroke="#a98d5c" stroke-width="1.35"/><path d="M685.4,372.2 L694,372.2 L694.8,374.2 L694.8,381 L684.6,381 L684.6,374.2 Z" fill="#e2323a" stroke="#8e2424" stroke-width="1.1"/><path d="M685.4,934 L694,934 L694.8,936 L694.8,942.8 L684.6,942.8 L684.6,936 Z" fill="#e2323a" stroke="#8e2424" stroke-width="1.1"/><path d="M714,393.8 L727.4,393.8 L727.4,933.5 L714,933.5 Z" fill="#7ec5ba"/><g clip-path="url(#c29)"><rect x="714" y="395" width="13.4" height="13.7" fill="#4b8a7c"/><rect x="714" y="411.5" width="13.4" height="2" fill="#f3fbf9"/><rect x="714" y="447" width="13.4" height="2" fill="#f3fbf9"/><rect x="714" y="457" width="13.4" height="2" fill="#f3fbf9"/><rect x="714" y="521.7" width="13.4" height="2" fill="#f3fbf9"/><rect x="714" y="529.5" width="13.4" height="2.9" fill="#f3fbf9"/><rect x="714" y="567.5" width="13.4" height="105.5" fill="#4b8a7c"/><rect x="714" y="579" width="13.4" height="2" fill="#f3fbf9"/><rect x="714" y="674" width="13.4" height="4.8" fill="#f3fbf9"/><path d="M714,674.4h13.4M714,678.4h13.4" stroke="#7f9a95" stroke-width="0.8" stroke-opacity="0.7"/><rect x="714" y="682.7" width="13.4" height="1.9" fill="#f3fbf9"/><rect x="714" y="863" width="13.4" height="2" fill="#4b8a7c"/><rect x="714" y="926" width="13.4" height="5" fill="#f3fbf9"/><path d="M714,926.4h13.4M714,930.6h13.4" stroke="#7f9a95" stroke-width="0.8" stroke-opacity="0.7"/></g><path d="M714,393.8 L727.4,393.8 L727.4,933.5 L714,933.5 Z" fill="none" stroke="#7c948f" stroke-width="1.35"/><path d="M716.4,385.8 L725,385.8 L725.8,387.8 L725.8,394.6 L715.6,394.6 L715.6,387.8 Z" fill="#e2323a" stroke="#8e2424" stroke-width="1.1"/><path d="M716.4,934 L725,934 L725.8,936 L725.8,942.8 L715.6,942.8 L715.6,936 Z" fill="#e2323a" stroke="#8e2424" stroke-width="1.1"/><path d="M720.7,734.2 L727.2,744.7 L714.2,744.7 Z" fill="#6c4f9f" stroke="#3b2b63" stroke-width="1"/><path d="M720.7,752.7 L727.2,763.2 L714.2,763.2 Z" fill="#6c4f9f" stroke="#3b2b63" stroke-width="1"/><path d="M731,398.7 L744.4,398.7 L744.4,933.6 A6.7,6.7 0 0 1 731,933.6 Z" fill="#fbbc4d"/><g clip-path="url(#c30)"><rect x="731" y="400" width="13.4" height="14.5" fill="#9c7533"/><rect x="731" y="417.5" width="13.4" height="2.9" fill="#fffaea"/><rect x="731" y="531.4" width="13.4" height="3.9" fill="#fffaea"/><path d="M731,531.8h13.4M731,534.9h13.4" stroke="#b09060" stroke-width="0.8" stroke-opacity="0.7"/><rect x="731" y="575.3" width="13.4" height="102.5" fill="#9c7533"/><rect x="731" y="680" width="13.4" height="1.5" fill="#fffaea"/><rect x="731" y="926" width="13.4" height="19" fill="#fffaea"/><path d="M731,926.4h13.4M731,944.6h13.4" stroke="#b09060" stroke-width="0.8" stroke-opacity="0.7"/><rect x="731" y="931" width="13.4" height="2" fill="#fbbc4d"/></g><path d="M731,398.7 L744.4,398.7 L744.4,933.6 A6.7,6.7 0 0 1 731,933.6 Z" fill="none" stroke="#a98d5c" stroke-width="1.35"/><path d="M733.4,390.7 L742,390.7 L742.8,392.7 L742.8,399.5 L732.6,399.5 L732.6,392.7 Z" fill="#e2323a" stroke="#8e2424" stroke-width="1.1"/><path d="M737.7,734.2 L744.2,744.7 L731.2,744.7 Z" fill="#6c4f9f" stroke="#3b2b63" stroke-width="1"/><path d="M737.7,752.7 L744.2,763.2 L731.2,763.2 Z" fill="#6c4f9f" stroke="#3b2b63" stroke-width="1"/><path d="M763,390.9 A6.7,6.7 0 0 1 776.4,390.9 L776.4,933.6 A6.7,6.7 0 0 1 763,933.6 Z" fill="#ffffff"/><path d="M763,390.9 A6.7,6.7 0 0 1 776.4,390.9 L776.4,933.6 A6.7,6.7 0 0 1 763,933.6 Z" fill="none" stroke="#9d9797" stroke-width="1.35"/><path d="M780,335.7 L793.4,335.7 L793.4,933.6 A6.7,6.7 0 0 1 780,933.6 Z" fill="#ffffff"/><path d="M780,335.7 L793.4,335.7 L793.4,933.6 A6.7,6.7 0 0 1 780,933.6 Z" fill="none" stroke="#9d9797" stroke-width="1.35"/><path d="M782.4,327.7 L791,327.7 L791.8,329.7 L791.8,336.5 L781.6,336.5 L781.6,329.7 Z" fill="#e2323a" stroke="#8e2424" stroke-width="1.1"/><path d="M813.6,313.6 L827,313.6 L827,933.5 L813.6,933.5 Z" fill="#ffffff"/><path d="M813.6,313.6 L827,313.6 L827,933.5 L813.6,933.5 Z" fill="none" stroke="#9d9797" stroke-width="1.35"/><path d="M816,305.6 L824.6,305.6 L825.4,307.6 L825.4,314.4 L815.2,314.4 L815.2,307.6 Z" fill="#e2323a" stroke="#8e2424" stroke-width="1.1"/><path d="M816,934 L824.6,934 L825.4,936 L825.4,942.8 L815.2,942.8 L815.2,936 Z" fill="#e2323a" stroke="#8e2424" stroke-width="1.1"/><circle cx="820.3" cy="471.5" r="6.2" fill="#5fb446" stroke="#3d8a2e" stroke-width="1.2"/><circle cx="820.3" cy="487.1" r="6.2" fill="#5fb446" stroke="#3d8a2e" stroke-width="1.2"/><path d="M830.6,315.5 L844,315.5 L844,933.5 L830.6,933.5 Z" fill="#fbbc4d"/><g clip-path="url(#c34)"><rect x="830.6" y="317" width="13.4" height="8.3" fill="#fffaea"/><path d="M830.6,317.4h13.4M830.6,324.9h13.4" stroke="#b09060" stroke-width="0.8" stroke-opacity="0.7"/><rect x="830.6" y="327.2" width="13.4" height="3.7" fill="#9c7533"/><rect x="830.6" y="332.5" width="13.4" height="2" fill="#fffaea"/><rect x="830.6" y="381" width="13.4" height="2" fill="#fffaea"/><rect x="830.6" y="386" width="13.4" height="4.6" fill="#9c7533"/><rect x="830.6" y="392.4" width="13.4" height="14.6" fill="#fffaea"/><path d="M830.6,392.8h13.4M830.6,406.6h13.4" stroke="#b09060" stroke-width="0.8" stroke-opacity="0.7"/><rect x="830.6" y="397" width="13.4" height="2" fill="#fbbc4d"/><rect x="830.6" y="402" width="13.4" height="1.5" fill="#fbbc4d"/><rect x="830.6" y="431" width="13.4" height="4.6" fill="#fffaea"/><path d="M830.6,431.4h13.4M830.6,435.2h13.4" stroke="#b09060" stroke-width="0.8" stroke-opacity="0.7"/><rect x="830.6" y="461" width="13.4" height="2" fill="#fffaea"/><rect x="830.6" y="469.7" width="13.4" height="156.3" fill="#9c7533"/><rect x="830.6" y="534" width="13.4" height="2" fill="#fbbc4d"/><rect x="830.6" y="604.5" width="13.4" height="2" fill="#fbbc4d"/><rect x="830.6" y="634" width="13.4" height="2" fill="#fffaea"/><rect x="830.6" y="747.5" width="13.4" height="2" fill="#fffaea"/><rect x="830.6" y="849.5" width="13.4" height="2" fill="#fffaea"/><rect x="830.6" y="918.4" width="13.4" height="7.3" fill="#fffaea"/><path d="M830.6,918.8h13.4M830.6,925.3h13.4" stroke="#b09060" stroke-width="0.8" stroke-opacity="0.7"/><rect x="830.6" y="926" width="13.4" height="2" fill="#9c7533"/><rect x="830.6" y="929" width="13.4" height="3" fill="#fffaea"/></g><path d="M830.6,315.5 L844,315.5 L844,933.5 L830.6,933.5 Z" fill="none" stroke="#a98d5c" stroke-width="1.35"/><path d="M833,307.5 L841.6,307.5 L842.4,309.5 L842.4,316.3 L832.2,316.3 L832.2,309.5 Z" fill="#e2323a" stroke="#8e2424" stroke-width="1.1"/><path d="M833,934 L841.6,934 L842.4,936 L842.4,942.8 L832.2,942.8 L832.2,936 Z" fill="#e2323a" stroke="#8e2424" stroke-width="1.1"/><circle cx="837.3" cy="471.5" r="6.2" fill="#5fb446" stroke="#3d8a2e" stroke-width="1.2"/><path d="M862,428.5 L875.4,428.5 L875.4,933.6 A6.7,6.7 0 0 1 862,933.6 Z" fill="#ffffff"/><path d="M862,428.5 L875.4,428.5 L875.4,933.6 A6.7,6.7 0 0 1 862,933.6 Z" fill="none" stroke="#9d9797" stroke-width="1.35"/><path d="M864.4,420.5 L873,420.5 L873.8,422.5 L873.8,429.3 L863.6,429.3 L863.6,422.5 Z" fill="#e2323a" stroke="#8e2424" stroke-width="1.1"/><circle cx="868.7" cy="578.1" r="6.2" fill="#5fb446" stroke="#3d8a2e" stroke-width="1.2"/><circle cx="868.7" cy="600.2" r="6.2" fill="#5fb446" stroke="#3d8a2e" stroke-width="1.2"/><circle cx="868.7" cy="617" r="6.2" fill="#5fb446" stroke="#3d8a2e" stroke-width="1.2"/><circle cx="868.7" cy="632.5" r="6.2" fill="#5fb446" stroke="#3d8a2e" stroke-width="1.2"/><circle cx="868.7" cy="667.4" r="6.2" fill="#5fb446" stroke="#3d8a2e" stroke-width="1.2"/><path d="M879,434 L892.4,434 L892.4,933.6 A6.7,6.7 0 0 1 879,933.6 Z" fill="#fbbc4d"/><g clip-path="url(#c36)"><rect x="879" y="434.7" width="13.4" height="9.3" fill="#9c7533"/><rect x="879" y="445.5" width="13.4" height="2" fill="#fffaea"/><rect x="879" y="448.5" width="13.4" height="39.5" fill="#fffaea"/><path d="M879,448.9h13.4M879,487.6h13.4" stroke="#b09060" stroke-width="0.8" stroke-opacity="0.7"/><rect x="879" y="488.2" width="13.4" height="1.8" fill="#9c7533"/><rect x="879" y="490" width="13.4" height="40.3" fill="#fffaea"/><path d="M879,490.4h13.4M879,529.9h13.4" stroke="#b09060" stroke-width="0.8" stroke-opacity="0.7"/><rect x="879" y="530.3" width="13.4" height="1.7" fill="#9c7533"/><rect x="879" y="545" width="13.4" height="2" fill="#fffaea"/><rect x="879" y="557.5" width="13.4" height="2" fill="#fffaea"/><rect x="879" y="672" width="13.4" height="33" fill="#fffaea"/><path d="M879,672.4h13.4M879,704.6h13.4" stroke="#b09060" stroke-width="0.8" stroke-opacity="0.7"/><rect x="879" y="707" width="13.4" height="209.5" fill="#9c7533"/><rect x="879" y="793" width="13.4" height="2" fill="#fbbc4d"/><rect x="879" y="822.7" width="13.4" height="2" fill="#fbbc4d"/><rect x="879" y="832" width="13.4" height="7.3" fill="#fffaea"/><path d="M879,832.4h13.4M879,838.9h13.4" stroke="#b09060" stroke-width="0.8" stroke-opacity="0.7"/><rect x="879" y="842" width="13.4" height="6.5" fill="#fffaea"/><path d="M879,842.4h13.4M879,848.1h13.4" stroke="#b09060" stroke-width="0.8" stroke-opacity="0.7"/><rect x="879" y="853" width="13.4" height="2" fill="#fbbc4d"/><rect x="879" y="921" width="13.4" height="24" fill="#fffaea"/><path d="M879,921.4h13.4M879,944.6h13.4" stroke="#b09060" stroke-width="0.8" stroke-opacity="0.7"/><rect x="879" y="927.3" width="13.4" height="1.7" fill="#9c7533"/></g><path d="M879,434 L892.4,434 L892.4,933.6 A6.7,6.7 0 0 1 879,933.6 Z" fill="none" stroke="#a98d5c" stroke-width="1.35"/><path d="M881.4,426 L890,426 L890.8,428 L890.8,434.8 L880.6,434.8 L880.6,428 Z" fill="#e2323a" stroke="#8e2424" stroke-width="1.1"/><circle cx="885.7" cy="578.1" r="6.2" fill="#5fb446" stroke="#3d8a2e" stroke-width="1.2"/><circle cx="885.7" cy="600.2" r="6.2" fill="#5fb446" stroke="#3d8a2e" stroke-width="1.2"/><circle cx="885.7" cy="617" r="6.2" fill="#5fb446" stroke="#3d8a2e" stroke-width="1.2"/><circle cx="885.7" cy="632.5" r="6.2" fill="#5fb446" stroke="#3d8a2e" stroke-width="1.2"/><circle cx="885.7" cy="667.4" r="6.2" fill="#5fb446" stroke="#3d8a2e" stroke-width="1.2"/><path d="M910,424.1 L923.4,424.1 L923.4,933.5 L910,933.5 Z" fill="#7ec5ba"/><g clip-path="url(#c37)"><rect x="910" y="426.9" width="13.4" height="3.1" fill="#f3fbf9"/><rect x="910" y="510.5" width="13.4" height="1.5" fill="#f3fbf9"/><rect x="910" y="512" width="13.4" height="256.2" fill="#4b8a7c"/><rect x="910" y="779.3" width="13.4" height="2.2" fill="#f3fbf9"/><rect x="910" y="806" width="13.4" height="2" fill="#f3fbf9"/><rect x="910" y="883.8" width="13.4" height="9.6" fill="#4b8a7c"/><rect x="910" y="896.4" width="13.4" height="2.2" fill="#f3fbf9"/></g><path d="M910,424.1 L923.4,424.1 L923.4,933.5 L910,933.5 Z" fill="none" stroke="#7c948f" stroke-width="1.35"/><path d="M912.4,416.1 L921,416.1 L921.8,418.1 L921.8,424.9 L911.6,424.9 L911.6,418.1 Z" fill="#e2323a" stroke="#8e2424" stroke-width="1.1"/><path d="M912.4,934 L921,934 L921.8,936 L921.8,942.8 L911.6,942.8 L911.6,936 Z" fill="#e2323a" stroke="#8e2424" stroke-width="1.1"/><path d="M927,429.9 L940.4,429.9 L940.4,933.6 A6.7,6.7 0 0 1 927,933.6 Z" fill="#fbbc4d"/><g clip-path="url(#c38)"><rect x="927" y="515.5" width="13.4" height="1.5" fill="#fffaea"/><rect x="927" y="517.6" width="13.4" height="257.2" fill="#9c7533"/><rect x="927" y="643.5" width="13.4" height="2" fill="#fbbc4d"/><rect x="927" y="785" width="13.4" height="2.4" fill="#fffaea"/><rect x="927" y="809.5" width="13.4" height="2" fill="#fffaea"/><rect x="927" y="882.3" width="13.4" height="11.1" fill="#9c7533"/><rect x="927" y="883.5" width="13.4" height="2" fill="#fbbc4d"/><rect x="927" y="895.6" width="13.4" height="3" fill="#fffaea"/></g><path d="M927,429.9 L940.4,429.9 L940.4,933.6 A6.7,6.7 0 0 1 927,933.6 Z" fill="none" stroke="#a98d5c" stroke-width="1.35"/><path d="M929.4,421.9 L938,421.9 L938.8,423.9 L938.8,430.7 L928.6,430.7 L928.6,423.9 Z" fill="#e2323a" stroke="#8e2424" stroke-width="1.1"/><path d="M959.6,507.4 L973,507.4 L973,933.5 L959.6,933.5 Z" fill="#7ec5ba"/><g clip-path="url(#c39)"><rect x="959.6" y="507.5" width="13.4" height="1.5" fill="#f3fbf9"/><rect x="959.6" y="509.8" width="13.4" height="12.5" fill="#4b8a7c"/><rect x="959.6" y="523.9" width="13.4" height="1.5" fill="#f3fbf9"/><rect x="959.6" y="566" width="13.4" height="3.2" fill="#f3fbf9"/><rect x="959.6" y="596.6" width="13.4" height="2.4" fill="#f3fbf9"/><rect x="959.6" y="613" width="13.4" height="4.7" fill="#f3fbf9"/><path d="M959.6,613.4h13.4M959.6,617.3h13.4" stroke="#7f9a95" stroke-width="0.8" stroke-opacity="0.7"/><rect x="959.6" y="620" width="13.4" height="80.7" fill="#4b8a7c"/><rect x="959.6" y="702" width="13.4" height="2" fill="#f3fbf9"/><rect x="959.6" y="843" width="13.4" height="4.5" fill="#f3fbf9"/><path d="M959.6,843.4h13.4M959.6,847.1h13.4" stroke="#7f9a95" stroke-width="0.8" stroke-opacity="0.7"/><rect x="959.6" y="851" width="13.4" height="2" fill="#4b8a7c"/><rect x="959.6" y="855" width="13.4" height="2" fill="#f3fbf9"/><rect x="959.6" y="915" width="13.4" height="2" fill="#f3fbf9"/><rect x="959.6" y="923" width="13.4" height="2" fill="#f3fbf9"/></g><path d="M959.6,507.4 L973,507.4 L973,933.5 L959.6,933.5 Z" fill="none" stroke="#7c948f" stroke-width="1.35"/><path d="M962,499.4 L970.6,499.4 L971.4,501.4 L971.4,508.2 L961.2,508.2 L961.2,501.4 Z" fill="#e2323a" stroke="#8e2424" stroke-width="1.1"/><path d="M962,934 L970.6,934 L971.4,936 L971.4,942.8 L961.2,942.8 L961.2,936 Z" fill="#e2323a" stroke="#8e2424" stroke-width="1.1"/><path d="M976.6,512.8 L990,512.8 L990,933.5 L976.6,933.5 Z" fill="#fbbc4d"/><g clip-path="url(#c40)"><rect x="976.6" y="513" width="13.4" height="4" fill="#9c7533"/><rect x="976.6" y="519.2" width="13.4" height="4.7" fill="#fffaea"/><path d="M976.6,519.6h13.4M976.6,523.5h13.4" stroke="#b09060" stroke-width="0.8" stroke-opacity="0.7"/><rect x="976.6" y="525" width="13.4" height="2" fill="#fffaea"/><rect x="976.6" y="567.7" width="13.4" height="5.3" fill="#fffaea"/><path d="M976.6,568.1h13.4M976.6,572.6h13.4" stroke="#b09060" stroke-width="0.8" stroke-opacity="0.7"/><rect x="976.6" y="576" width="13.4" height="2" fill="#fffaea"/><rect x="976.6" y="591.5" width="13.4" height="2" fill="#fffaea"/><rect x="976.6" y="616" width="13.4" height="8" fill="#fffaea"/><path d="M976.6,616.4h13.4M976.6,623.6h13.4" stroke="#b09060" stroke-width="0.8" stroke-opacity="0.7"/><rect x="976.6" y="625.6" width="13.4" height="84" fill="#9c7533"/><rect x="976.6" y="634" width="13.4" height="2" fill="#fffaea"/><rect x="976.6" y="645" width="13.4" height="2" fill="#fffaea"/><rect x="976.6" y="656" width="13.4" height="2" fill="#fffaea"/><rect x="976.6" y="667" width="13.4" height="2" fill="#fffaea"/><rect x="976.6" y="680" width="13.4" height="3" fill="#fffaea"/><rect x="976.6" y="689" width="13.4" height="3" fill="#fffaea"/><rect x="976.6" y="697" width="13.4" height="3.7" fill="#fffaea"/><path d="M976.6,697.4h13.4M976.6,700.3h13.4" stroke="#b09060" stroke-width="0.8" stroke-opacity="0.7"/><rect x="976.6" y="705" width="13.4" height="4.6" fill="#fffaea"/><path d="M976.6,705.4h13.4M976.6,709.2h13.4" stroke="#b09060" stroke-width="0.8" stroke-opacity="0.7"/><rect x="976.6" y="741.5" width="13.4" height="1.5" fill="#9c7533"/><rect x="976.6" y="841.5" width="13.4" height="10.5" fill="#fffaea"/><path d="M976.6,841.9h13.4M976.6,851.6h13.4" stroke="#b09060" stroke-width="0.8" stroke-opacity="0.7"/><rect x="976.6" y="915" width="13.4" height="2" fill="#fffaea"/><rect x="976.6" y="920" width="13.4" height="12" fill="#fffaea"/><path d="M976.6,920.4h13.4M976.6,931.6h13.4" stroke="#b09060" stroke-width="0.8" stroke-opacity="0.7"/></g><path d="M976.6,512.8 L990,512.8 L990,933.5 L976.6,933.5 Z" fill="none" stroke="#a98d5c" stroke-width="1.35"/><path d="M979,504.8 L987.6,504.8 L988.4,506.8 L988.4,513.6 L978.2,513.6 L978.2,506.8 Z" fill="#e2323a" stroke="#8e2424" stroke-width="1.1"/><path d="M979,934 L987.6,934 L988.4,936 L988.4,942.8 L978.2,942.8 L978.2,936 Z" fill="#e2323a" stroke="#8e2424" stroke-width="1.1"/><path d="M1005,536.3 L1018.4,536.3 L1018.4,933.5 L1005,933.5 Z" fill="#7ec5ba"/><g clip-path="url(#c41)"><rect x="1005" y="536.4" width="13.4" height="10.9" fill="#4b8a7c"/><rect x="1005" y="549.5" width="13.4" height="2" fill="#f3fbf9"/><rect x="1005" y="591" width="13.4" height="1.7" fill="#4b8a7c"/><rect x="1005" y="612.3" width="13.4" height="1.5" fill="#f3fbf9"/><rect x="1005" y="614.6" width="13.4" height="23.4" fill="#4b8a7c"/><rect x="1005" y="654.5" width="13.4" height="2.3" fill="#4b8a7c"/><rect x="1005" y="694.8" width="13.4" height="110.4" fill="#4b8a7c"/><rect x="1005" y="820" width="13.4" height="3.7" fill="#f3fbf9"/><path d="M1005,820.4h13.4M1005,823.3h13.4" stroke="#7f9a95" stroke-width="0.8" stroke-opacity="0.7"/><rect x="1005" y="862.3" width="13.4" height="1.5" fill="#f3fbf9"/><rect x="1005" y="883.8" width="13.4" height="2.9" fill="#4b8a7c"/><rect x="1005" y="892" width="13.4" height="1.4" fill="#f3fbf9"/></g><path d="M1005,536.3 L1018.4,536.3 L1018.4,933.5 L1005,933.5 Z" fill="none" stroke="#7c948f" stroke-width="1.35"/><path d="M1007.4,528.3 L1016,528.3 L1016.8,530.3 L1016.8,537.1 L1006.6,537.1 L1006.6,530.3 Z" fill="#e2323a" stroke="#8e2424" stroke-width="1.1"/><path d="M1007.4,934 L1016,934 L1016.8,936 L1016.8,942.8 L1006.6,942.8 L1006.6,936 Z" fill="#e2323a" stroke="#8e2424" stroke-width="1.1"/><path d="M1022,541 L1035.4,541 L1035.4,933.5 L1022,933.5 Z" fill="#fbbc4d"/><g clip-path="url(#c42)"><rect x="1022" y="540.3" width="13.4" height="8.7" fill="#9c7533"/><rect x="1022" y="551.3" width="13.4" height="3.9" fill="#fffaea"/><path d="M1022,551.7h13.4M1022,554.8h13.4" stroke="#b09060" stroke-width="0.8" stroke-opacity="0.7"/><rect x="1022" y="592" width="13.4" height="3" fill="#9c7533"/><rect x="1022" y="613" width="13.4" height="2.4" fill="#fffaea"/><rect x="1022" y="617" width="13.4" height="21" fill="#9c7533"/><rect x="1022" y="656" width="13.4" height="2.4" fill="#9c7533"/><rect x="1022" y="697" width="13.4" height="110.4" fill="#9c7533"/><rect x="1022" y="823" width="13.4" height="3" fill="#fffaea"/><rect x="1022" y="864" width="13.4" height="1.5" fill="#9c7533"/><rect x="1022" y="885" width="13.4" height="2.5" fill="#9c7533"/><rect x="1022" y="890" width="13.4" height="4" fill="#fffaea"/><path d="M1022,890.4h13.4M1022,893.6h13.4" stroke="#b09060" stroke-width="0.8" stroke-opacity="0.7"/><rect x="1022" y="929" width="13.4" height="4" fill="#9c7533"/></g><path d="M1022,541 L1035.4,541 L1035.4,933.5 L1022,933.5 Z" fill="none" stroke="#a98d5c" stroke-width="1.35"/><path d="M1024.4,533 L1033,533 L1033.8,535 L1033.8,541.8 L1023.6,541.8 L1023.6,535 Z" fill="#e2323a" stroke="#8e2424" stroke-width="1.1"/><path d="M1024.4,934 L1033,934 L1033.8,936 L1033.8,942.8 L1023.6,942.8 L1023.6,936 Z" fill="#e2323a" stroke="#8e2424" stroke-width="1.1"/><path d="M1061,530.4 A6.7,6.7 0 0 1 1074.4,530.4 L1074.4,933.5 L1061,933.5 Z" fill="#4b8a7c"/><g clip-path="url(#c43)"><rect x="1061" y="525" width="13.4" height="4" fill="#f3fbf9"/><path d="M1061,525.4h13.4M1061,528.6h13.4" stroke="#7f9a95" stroke-width="0.8" stroke-opacity="0.7"/><rect x="1061" y="530" width="13.4" height="1.6" fill="#7ec5ba"/><rect x="1061" y="608" width="13.4" height="2.7" fill="#f3fbf9"/><rect x="1061" y="611.3" width="13.4" height="21.7" fill="#7ec5ba"/><rect x="1061" y="634" width="13.4" height="1.5" fill="#f3fbf9"/><rect x="1061" y="732.6" width="13.4" height="6.7" fill="#f3fbf9"/><path d="M1061,733h13.4M1061,738.9h13.4" stroke="#7f9a95" stroke-width="0.8" stroke-opacity="0.7"/><rect x="1061" y="741.5" width="13.4" height="2" fill="#f3fbf9"/><rect x="1061" y="744" width="13.4" height="170.8" fill="#7ec5ba"/><rect x="1061" y="912" width="13.4" height="1.5" fill="#f3fbf9"/></g><path d="M1061,530.4 A6.7,6.7 0 0 1 1074.4,530.4 L1074.4,933.5 L1061,933.5 Z" fill="none" stroke="#6a8580" stroke-width="1.35"/><path d="M1063.4,934 L1072,934 L1072.8,936 L1072.8,942.8 L1062.6,942.8 L1062.6,936 Z" fill="#e2323a" stroke="#8e2424" stroke-width="1.1"/><path d="M1078,515.3 A6.7,6.7 0 0 1 1091.4,515.3 L1091.4,933.5 L1078,933.5 Z" fill="#9c7533"/><g clip-path="url(#c44)"><rect x="1078" y="509.5" width="13.4" height="4.4" fill="#fffaea"/><path d="M1078,509.9h13.4M1078,513.5h13.4" stroke="#b09060" stroke-width="0.8" stroke-opacity="0.7"/><rect x="1078" y="592.9" width="13.4" height="40.1" fill="#fbbc4d"/><rect x="1078" y="594" width="13.4" height="2" fill="#fffaea"/><rect x="1078" y="732.6" width="13.4" height="5.4" fill="#fffaea"/><path d="M1078,733h13.4M1078,737.6h13.4" stroke="#b09060" stroke-width="0.8" stroke-opacity="0.7"/><rect x="1078" y="738.6" width="13.4" height="175.4" fill="#fbbc4d"/></g><path d="M1078,515.3 A6.7,6.7 0 0 1 1091.4,515.3 L1091.4,933.5 L1078,933.5 Z" fill="none" stroke="#8f7448" stroke-width="1.35"/><path d="M1080.4,934 L1089,934 L1089.8,936 L1089.8,942.8 L1079.6,942.8 L1079.6,936 Z" fill="#e2323a" stroke="#8e2424" stroke-width="1.1"/><path d="M1108.6,540.1 L1122,540.1 L1122,933.5 L1108.6,933.5 Z" fill="#7ec5ba"/><g clip-path="url(#c45)"><rect x="1108.6" y="547" width="13.4" height="1.5" fill="#f3fbf9"/><rect x="1108.6" y="550.7" width="13.4" height="2.7" fill="#f3fbf9"/><rect x="1108.6" y="553.8" width="13.4" height="1.7" fill="#4b8a7c"/><rect x="1108.6" y="556" width="13.4" height="6.6" fill="#f3fbf9"/><path d="M1108.6,556.4h13.4M1108.6,562.2h13.4" stroke="#7f9a95" stroke-width="0.8" stroke-opacity="0.7"/><rect x="1108.6" y="564.6" width="13.4" height="5.2" fill="#4b8a7c"/><rect x="1108.6" y="706.8" width="13.4" height="56" fill="#4b8a7c"/><rect x="1108.6" y="814.6" width="13.4" height="2" fill="#f3fbf9"/><rect x="1108.6" y="818" width="13.4" height="2.5" fill="#4b8a7c"/><rect x="1108.6" y="822" width="13.4" height="1.3" fill="#f3fbf9"/><rect x="1108.6" y="843.5" width="13.4" height="1" fill="#f3fbf9"/><rect x="1108.6" y="845.5" width="13.4" height="88.1" fill="#4b8a7c"/></g><path d="M1108.6,540.1 L1122,540.1 L1122,933.5 L1108.6,933.5 Z" fill="none" stroke="#7c948f" stroke-width="1.35"/><path d="M1111,532.1 L1119.6,532.1 L1120.4,534.1 L1120.4,540.9 L1110.2,540.9 L1110.2,534.1 Z" fill="#e2323a" stroke="#8e2424" stroke-width="1.1"/><path d="M1111,934 L1119.6,934 L1120.4,936 L1120.4,942.8 L1110.2,942.8 L1110.2,936 Z" fill="#e2323a" stroke="#8e2424" stroke-width="1.1"/><circle cx="1115.3" cy="906.7" r="6.2" fill="#5fb446" stroke="#3d8a2e" stroke-width="1.2"/><circle cx="1115.3" cy="921.5" r="6.2" fill="#5fb446" stroke="#3d8a2e" stroke-width="1.2"/><path d="M1125.6,492.1 L1139,492.1 L1139,933.5 L1125.6,933.5 Z" fill="#fbbc4d"/><g clip-path="url(#c46)"><rect x="1125.6" y="492" width="13.4" height="2" fill="#fffaea"/><rect x="1125.6" y="497" width="13.4" height="2" fill="#fffaea"/><rect x="1125.6" y="505.3" width="13.4" height="11.9" fill="#fffaea"/><path d="M1125.6,505.7h13.4M1125.6,516.8h13.4" stroke="#b09060" stroke-width="0.8" stroke-opacity="0.7"/><rect x="1125.6" y="521" width="13.4" height="2" fill="#fffaea"/><rect x="1125.6" y="590" width="13.4" height="2" fill="#fffaea"/><rect x="1125.6" y="653" width="13.4" height="2" fill="#fffaea"/><rect x="1125.6" y="668.6" width="13.4" height="5.4" fill="#fffaea"/><path d="M1125.6,669h13.4M1125.6,673.6h13.4" stroke="#b09060" stroke-width="0.8" stroke-opacity="0.7"/><rect x="1125.6" y="675.2" width="13.4" height="10.5" fill="#9c7533"/><rect x="1125.6" y="688.4" width="13.4" height="7.9" fill="#fffaea"/><path d="M1125.6,688.8h13.4M1125.6,695.9h13.4" stroke="#b09060" stroke-width="0.8" stroke-opacity="0.7"/><rect x="1125.6" y="697" width="13.4" height="2.5" fill="#9c7533"/><rect x="1125.6" y="701.6" width="13.4" height="5.2" fill="#fffaea"/><path d="M1125.6,702h13.4M1125.6,706.4h13.4" stroke="#b09060" stroke-width="0.8" stroke-opacity="0.7"/><rect x="1125.6" y="707" width="13.4" height="5" fill="#9c7533"/><rect x="1125.6" y="712" width="13.4" height="1.5" fill="#fffaea"/><rect x="1125.6" y="714" width="13.4" height="15.2" fill="#9c7533"/><rect x="1125.6" y="718" width="13.4" height="2" fill="#fffaea"/><rect x="1125.6" y="732" width="13.4" height="5.3" fill="#fffaea"/><path d="M1125.6,732.4h13.4M1125.6,736.9h13.4" stroke="#b09060" stroke-width="0.8" stroke-opacity="0.7"/><rect x="1125.6" y="745" width="13.4" height="2" fill="#fffaea"/><rect x="1125.6" y="754.8" width="13.4" height="6.7" fill="#fffaea"/><path d="M1125.6,755.2h13.4M1125.6,761.1h13.4" stroke="#b09060" stroke-width="0.8" stroke-opacity="0.7"/><rect x="1125.6" y="762" width="13.4" height="2" fill="#9c7533"/><rect x="1125.6" y="781.5" width="13.4" height="1.5" fill="#fffaea"/><rect x="1125.6" y="797.5" width="13.4" height="2" fill="#fffaea"/><rect x="1125.6" y="818" width="13.4" height="6.7" fill="#9c7533"/><rect x="1125.6" y="825.5" width="13.4" height="2" fill="#fffaea"/><rect x="1125.6" y="828.7" width="13.4" height="21.5" fill="#9c7533"/><rect x="1125.6" y="833" width="13.4" height="2" fill="#fffaea"/><rect x="1125.6" y="840" width="13.4" height="2" fill="#fffaea"/><rect x="1125.6" y="852.2" width="13.4" height="4.8" fill="#fffaea"/><path d="M1125.6,852.6h13.4M1125.6,856.6h13.4" stroke="#b09060" stroke-width="0.8" stroke-opacity="0.7"/><rect x="1125.6" y="858.3" width="13.4" height="4" fill="#9c7533"/><rect x="1125.6" y="863.7" width="13.4" height="69.9" fill="#fffaea"/><path d="M1125.6,864.1h13.4M1125.6,933.2h13.4" stroke="#b09060" stroke-width="0.8" stroke-opacity="0.7"/></g><path d="M1125.6,492.1 L1139,492.1 L1139,933.5 L1125.6,933.5 Z" fill="none" stroke="#a98d5c" stroke-width="1.35"/><path d="M1128,484.1 L1136.6,484.1 L1137.4,486.1 L1137.4,492.9 L1127.2,492.9 L1127.2,486.1 Z" fill="#e2323a" stroke="#8e2424" stroke-width="1.1"/><path d="M1128,934 L1136.6,934 L1137.4,936 L1137.4,942.8 L1127.2,942.8 L1127.2,936 Z" fill="#e2323a" stroke="#8e2424" stroke-width="1.1"/><circle cx="1132.3" cy="906.7" r="6.2" fill="#5fb446" stroke="#3d8a2e" stroke-width="1.2"/><circle cx="1132.3" cy="921.5" r="6.2" fill="#5fb446" stroke="#3d8a2e" stroke-width="1.2"/><path d="M1158.6,509.2 L1172,509.2 L1172,933.5 L1158.6,933.5 Z" fill="#7ec5ba"/><g clip-path="url(#c47)"><rect x="1158.6" y="508.6" width="13.4" height="40.2" fill="#4b8a7c"/><rect x="1158.6" y="550" width="13.4" height="2" fill="#f3fbf9"/><rect x="1158.6" y="555.3" width="13.4" height="5.3" fill="#f3fbf9"/><path d="M1158.6,555.7h13.4M1158.6,560.2h13.4" stroke="#7f9a95" stroke-width="0.8" stroke-opacity="0.7"/><rect x="1158.6" y="588.5" width="13.4" height="2" fill="#f3fbf9"/><rect x="1158.6" y="728.5" width="13.4" height="2" fill="#f3fbf9"/><rect x="1158.6" y="773" width="13.4" height="2" fill="#f3fbf9"/><rect x="1158.6" y="829" width="13.4" height="2" fill="#f3fbf9"/><rect x="1158.6" y="844.5" width="13.4" height="2" fill="#f3fbf9"/><rect x="1158.6" y="849.5" width="13.4" height="57.2" fill="#4b8a7c"/><rect x="1158.6" y="908" width="13.4" height="2.7" fill="#f3fbf9"/></g><path d="M1158.6,509.2 L1172,509.2 L1172,933.5 L1158.6,933.5 Z" fill="none" stroke="#7c948f" stroke-width="1.35"/><path d="M1161,501.2 L1169.6,501.2 L1170.4,503.2 L1170.4,510 L1160.2,510 L1160.2,503.2 Z" fill="#e2323a" stroke="#8e2424" stroke-width="1.1"/><path d="M1161,934 L1169.6,934 L1170.4,936 L1170.4,942.8 L1160.2,942.8 L1160.2,936 Z" fill="#e2323a" stroke="#8e2424" stroke-width="1.1"/><path d="M1175.6,507.9 L1189,507.9 L1189,933.5 L1175.6,933.5 Z" fill="#fbbc4d"/><g clip-path="url(#c48)"><rect x="1175.6" y="506.6" width="13.4" height="39.4" fill="#9c7533"/><rect x="1175.6" y="524" width="13.4" height="2" fill="#fbbc4d"/><rect x="1175.6" y="547.4" width="13.4" height="9.3" fill="#fffaea"/><path d="M1175.6,547.8h13.4M1175.6,556.3h13.4" stroke="#b09060" stroke-width="0.8" stroke-opacity="0.7"/><rect x="1175.6" y="602.5" width="13.4" height="2" fill="#9c7533"/><rect x="1175.6" y="771.5" width="13.4" height="2" fill="#fffaea"/><rect x="1175.6" y="829" width="13.4" height="2" fill="#fffaea"/><rect x="1175.6" y="848.9" width="13.4" height="57.8" fill="#9c7533"/><rect x="1175.6" y="908" width="13.4" height="3" fill="#fffaea"/><rect x="1175.6" y="913.5" width="13.4" height="2" fill="#fffaea"/></g><path d="M1175.6,507.9 L1189,507.9 L1189,933.5 L1175.6,933.5 Z" fill="none" stroke="#a98d5c" stroke-width="1.35"/><path d="M1178,499.9 L1186.6,499.9 L1187.4,501.9 L1187.4,508.7 L1177.2,508.7 L1177.2,501.9 Z" fill="#e2323a" stroke="#8e2424" stroke-width="1.1"/><path d="M1178,934 L1186.6,934 L1187.4,936 L1187.4,942.8 L1177.2,942.8 L1177.2,936 Z" fill="#e2323a" stroke="#8e2424" stroke-width="1.1"/><path d="M1205.4,500.4 L1218.8,500.4 L1218.8,933.5 L1205.4,933.5 Z" fill="#7ec5ba"/><g clip-path="url(#c49)"><rect x="1205.4" y="499.6" width="13.4" height="64.4" fill="#4b8a7c"/><rect x="1205.4" y="565.5" width="13.4" height="2" fill="#f3fbf9"/><rect x="1205.4" y="585" width="13.4" height="2" fill="#4b8a7c"/><rect x="1205.4" y="591.3" width="13.4" height="14.7" fill="#4b8a7c"/><rect x="1205.4" y="606.5" width="13.4" height="2" fill="#f3fbf9"/><rect x="1205.4" y="608.7" width="13.4" height="63" fill="#4b8a7c"/><rect x="1205.4" y="700.6" width="13.4" height="5.6" fill="#f3fbf9"/><path d="M1205.4,701h13.4M1205.4,705.8h13.4" stroke="#7f9a95" stroke-width="0.8" stroke-opacity="0.7"/><rect x="1205.4" y="707.6" width="13.4" height="2.8" fill="#f3fbf9"/><rect x="1205.4" y="735.6" width="13.4" height="2.1" fill="#f3fbf9"/><rect x="1205.4" y="873" width="13.4" height="2" fill="#f3fbf9"/><rect x="1205.4" y="924.5" width="13.4" height="4.2" fill="#f3fbf9"/><path d="M1205.4,924.9h13.4M1205.4,928.3h13.4" stroke="#7f9a95" stroke-width="0.8" stroke-opacity="0.7"/><rect x="1205.4" y="930" width="13.4" height="3" fill="#4b8a7c"/></g><path d="M1205.4,500.4 L1218.8,500.4 L1218.8,933.5 L1205.4,933.5 Z" fill="none" stroke="#7c948f" stroke-width="1.35"/><path d="M1207.8,492.4 L1216.4,492.4 L1217.2,494.4 L1217.2,501.2 L1207,501.2 L1207,494.4 Z" fill="#e2323a" stroke="#8e2424" stroke-width="1.1"/><path d="M1207.8,934 L1216.4,934 L1217.2,936 L1217.2,942.8 L1207,942.8 L1207,936 Z" fill="#e2323a" stroke="#8e2424" stroke-width="1.1"/><path d="M1222.4,463.3 L1235.8,463.3 L1235.8,933.6 A6.7,6.7 0 0 1 1222.4,933.6 Z" fill="#fbbc4d"/><g clip-path="url(#c50)"><rect x="1222.4" y="463" width="13.4" height="66" fill="#9c7533"/><rect x="1222.4" y="557.5" width="13.4" height="4.5" fill="#9c7533"/><rect x="1222.4" y="563" width="13.4" height="1.5" fill="#fbbc4d"/><rect x="1222.4" y="565" width="13.4" height="5.5" fill="#9c7533"/><rect x="1222.4" y="572.4" width="13.4" height="2.6" fill="#fffaea"/><rect x="1222.4" y="576.6" width="13.4" height="55.9" fill="#9c7533"/><rect x="1222.4" y="637.5" width="13.4" height="2" fill="#fffaea"/><rect x="1222.4" y="671.5" width="13.4" height="2" fill="#fffaea"/><rect x="1222.4" y="697" width="13.4" height="2" fill="#fffaea"/><rect x="1222.4" y="703.4" width="13.4" height="2.8" fill="#9c7533"/><rect x="1222.4" y="720" width="13.4" height="4.4" fill="#9c7533"/><rect x="1222.4" y="884" width="13.4" height="2.5" fill="#fffaea"/><rect x="1222.4" y="930" width="13.4" height="3" fill="#9c7533"/><rect x="1222.4" y="934" width="13.4" height="11" fill="#fffaea"/><path d="M1222.4,934.4h13.4M1222.4,944.6h13.4" stroke="#b09060" stroke-width="0.8" stroke-opacity="0.7"/></g><path d="M1222.4,463.3 L1235.8,463.3 L1235.8,933.6 A6.7,6.7 0 0 1 1222.4,933.6 Z" fill="none" stroke="#a98d5c" stroke-width="1.35"/><path d="M1224.8,455.3 L1233.4,455.3 L1234.2,457.3 L1234.2,464.1 L1224,464.1 L1224,457.3 Z" fill="#e2323a" stroke="#8e2424" stroke-width="1.1"/><path d="M1253.5,559.9 L1266.9,559.9 L1266.9,933.5 L1253.5,933.5 Z" fill="#4b8a7c"/><g clip-path="url(#c51)"><rect x="1253.5" y="561.2" width="13.4" height="14" fill="#f3fbf9"/><path d="M1253.5,561.6h13.4M1253.5,574.8h13.4" stroke="#7f9a95" stroke-width="0.8" stroke-opacity="0.7"/><rect x="1253.5" y="577.5" width="13.4" height="2.5" fill="#7ec5ba"/><rect x="1253.5" y="862.2" width="13.4" height="4.8" fill="#f3fbf9"/><path d="M1253.5,862.6h13.4M1253.5,866.6h13.4" stroke="#7f9a95" stroke-width="0.8" stroke-opacity="0.7"/><rect x="1253.5" y="870" width="13.4" height="5.5" fill="#f3fbf9"/><path d="M1253.5,870.4h13.4M1253.5,875.1h13.4" stroke="#7f9a95" stroke-width="0.8" stroke-opacity="0.7"/><rect x="1253.5" y="875.5" width="13.4" height="57.5" fill="#7ec5ba"/><rect x="1253.5" y="881" width="13.4" height="2" fill="#f3fbf9"/></g><path d="M1253.5,559.9 L1266.9,559.9 L1266.9,933.5 L1253.5,933.5 Z" fill="none" stroke="#6a8580" stroke-width="1.35"/><path d="M1255.9,551.9 L1264.5,551.9 L1265.3,553.9 L1265.3,560.7 L1255.1,560.7 L1255.1,553.9 Z" fill="#e2323a" stroke="#8e2424" stroke-width="1.1"/><path d="M1255.9,934 L1264.5,934 L1265.3,936 L1265.3,942.8 L1255.1,942.8 L1255.1,936 Z" fill="#e2323a" stroke="#8e2424" stroke-width="1.1"/><path d="M1270.5,559.9 L1283.9,559.9 L1283.9,933.5 L1270.5,933.5 Z" fill="#9c7533"/><g clip-path="url(#c52)"><rect x="1270.5" y="559" width="13.4" height="6" fill="#fbbc4d"/><rect x="1270.5" y="566.8" width="13.4" height="8.4" fill="#fffaea"/><path d="M1270.5,567.2h13.4M1270.5,574.8h13.4" stroke="#b09060" stroke-width="0.8" stroke-opacity="0.7"/><rect x="1270.5" y="577" width="13.4" height="2" fill="#fbbc4d"/><rect x="1270.5" y="862.2" width="13.4" height="4.8" fill="#fffaea"/><path d="M1270.5,862.6h13.4M1270.5,866.6h13.4" stroke="#b09060" stroke-width="0.8" stroke-opacity="0.7"/><rect x="1270.5" y="867" width="13.4" height="2" fill="#fbbc4d"/><rect x="1270.5" y="870" width="13.4" height="7" fill="#fffaea"/><path d="M1270.5,870.4h13.4M1270.5,876.6h13.4" stroke="#b09060" stroke-width="0.8" stroke-opacity="0.7"/><rect x="1270.5" y="877" width="13.4" height="56" fill="#fbbc4d"/></g><path d="M1270.5,559.9 L1283.9,559.9 L1283.9,933.5 L1270.5,933.5 Z" fill="none" stroke="#8f7448" stroke-width="1.35"/><path d="M1272.9,551.9 L1281.5,551.9 L1282.3,553.9 L1282.3,560.7 L1272.1,560.7 L1272.1,553.9 Z" fill="#e2323a" stroke="#8e2424" stroke-width="1.1"/><path d="M1272.9,934 L1281.5,934 L1282.3,936 L1282.3,942.8 L1272.1,942.8 L1272.1,936 Z" fill="#e2323a" stroke="#8e2424" stroke-width="1.1"/><path d="M1301.8,526.3 L1315.2,526.3 L1315.2,933.5 L1301.8,933.5 Z" fill="#4b8a7c"/><g clip-path="url(#c53)"><rect x="1301.8" y="529" width="13.4" height="5.6" fill="#f3fbf9"/><path d="M1301.8,529.4h13.4M1301.8,534.2h13.4" stroke="#7f9a95" stroke-width="0.8" stroke-opacity="0.7"/><rect x="1301.8" y="736.3" width="13.4" height="196.7" fill="#7ec5ba"/><rect x="1301.8" y="737" width="13.4" height="2" fill="#f3fbf9"/><rect x="1301.8" y="860" width="13.4" height="2" fill="#f3fbf9"/></g><path d="M1301.8,526.3 L1315.2,526.3 L1315.2,933.5 L1301.8,933.5 Z" fill="none" stroke="#6a8580" stroke-width="1.35"/><path d="M1304.2,518.3 L1312.8,518.3 L1313.6,520.3 L1313.6,527.1 L1303.4,527.1 L1303.4,520.3 Z" fill="#e2323a" stroke="#8e2424" stroke-width="1.1"/><path d="M1304.2,934 L1312.8,934 L1313.6,936 L1313.6,942.8 L1303.4,942.8 L1303.4,936 Z" fill="#e2323a" stroke="#8e2424" stroke-width="1.1"/><path d="M1308.5,812.9 L1315,823.4 L1302,823.4 Z" fill="#6c4f9f" stroke="#3b2b63" stroke-width="1"/><path d="M1318.8,472 A6.7,6.7 0 0 1 1332.2,472 L1332.2,933.6 A6.7,6.7 0 0 1 1318.8,933.6 Z" fill="#ffffff"/><path d="M1318.8,472 A6.7,6.7 0 0 1 1332.2,472 L1332.2,933.6 A6.7,6.7 0 0 1 1318.8,933.6 Z" fill="none" stroke="#9d9797" stroke-width="1.35"/><path d="M1325.5,812.9 L1332,823.4 L1319,823.4 Z" fill="#6c4f9f" stroke="#3b2b63" stroke-width="1"/><path d="M1350.8,538.2 A6.7,6.7 0 0 1 1364.2,538.2 L1364.2,933.6 A6.7,6.7 0 0 1 1350.8,933.6 Z" fill="#7ec5ba"/><g clip-path="url(#c55)"><rect x="1350.8" y="533" width="13.4" height="3" fill="#f3fbf9"/><rect x="1350.8" y="536.2" width="13.4" height="27.8" fill="#4b8a7c"/><rect x="1350.8" y="565.7" width="13.4" height="3" fill="#f3fbf9"/><rect x="1350.8" y="749.5" width="13.4" height="2" fill="#4b8a7c"/><rect x="1350.8" y="753" width="13.4" height="2" fill="#f3fbf9"/><rect x="1350.8" y="829.4" width="13.4" height="4.6" fill="#f3fbf9"/><path d="M1350.8,829.8h13.4M1350.8,833.6h13.4" stroke="#7f9a95" stroke-width="0.8" stroke-opacity="0.7"/><rect x="1350.8" y="835.3" width="13.4" height="109.7" fill="#4b8a7c"/></g><path d="M1350.8,538.2 A6.7,6.7 0 0 1 1364.2,538.2 L1364.2,933.6 A6.7,6.7 0 0 1 1350.8,933.6 Z" fill="none" stroke="#7c948f" stroke-width="1.35"/><path d="M1357.5,713.7 L1364,724.2 L1351,724.2 Z" fill="#6c4f9f" stroke="#3b2b63" stroke-width="1"/><path d="M1367.8,547 A6.7,6.7 0 0 1 1381.2,547 L1381.2,933.6 A6.7,6.7 0 0 1 1367.8,933.6 Z" fill="#fbbc4d"/><g clip-path="url(#c56)"><rect x="1367.8" y="541.5" width="13.4" height="1.5" fill="#fffaea"/><rect x="1367.8" y="543" width="13.4" height="27.4" fill="#9c7533"/><rect x="1367.8" y="552.5" width="13.4" height="2" fill="#fbbc4d"/><rect x="1367.8" y="572.2" width="13.4" height="4.8" fill="#fffaea"/><path d="M1367.8,572.6h13.4M1367.8,576.6h13.4" stroke="#b09060" stroke-width="0.8" stroke-opacity="0.7"/><rect x="1367.8" y="753.5" width="13.4" height="2" fill="#9c7533"/><rect x="1367.8" y="757.5" width="13.4" height="2.5" fill="#fffaea"/><rect x="1367.8" y="831.8" width="13.4" height="2.2" fill="#fffaea"/><rect x="1367.8" y="835.3" width="13.4" height="109.7" fill="#9c7533"/></g><path d="M1367.8,547 A6.7,6.7 0 0 1 1381.2,547 L1381.2,933.6 A6.7,6.7 0 0 1 1367.8,933.6 Z" fill="none" stroke="#a98d5c" stroke-width="1.35"/><path d="M1374.5,713.7 L1381,724.2 L1368,724.2 Z" fill="#6c4f9f" stroke="#3b2b63" stroke-width="1"/><path d="M1397.4,632.5 L1410.8,632.5 L1410.8,933.5 L1397.4,933.5 Z" fill="#ffffff"/><path d="M1397.4,632.5 L1410.8,632.5 L1410.8,933.5 L1397.4,933.5 Z" fill="none" stroke="#9d9797" stroke-width="1.35"/><path d="M1399.8,624.5 L1408.4,624.5 L1409.2,626.5 L1409.2,633.3 L1399,633.3 L1399,626.5 Z" fill="#e2323a" stroke="#8e2424" stroke-width="1.1"/><path d="M1399.8,934 L1408.4,934 L1409.2,936 L1409.2,942.8 L1399,942.8 L1399,936 Z" fill="#e2323a" stroke="#8e2424" stroke-width="1.1"/><path d="M1414.4,632.5 L1427.8,632.5 L1427.8,933.5 L1414.4,933.5 Z" fill="#fbbc4d"/><g clip-path="url(#c58)"><rect x="1414.4" y="631.2" width="13.4" height="7.1" fill="#9c7533"/><rect x="1414.4" y="639.5" width="13.4" height="2" fill="#fffaea"/><rect x="1414.4" y="646" width="13.4" height="2" fill="#fffaea"/><rect x="1414.4" y="678" width="13.4" height="2" fill="#fffaea"/><rect x="1414.4" y="682" width="13.4" height="4.7" fill="#9c7533"/><rect x="1414.4" y="689" width="13.4" height="7" fill="#fffaea"/><path d="M1414.4,689.4h13.4M1414.4,695.6h13.4" stroke="#b09060" stroke-width="0.8" stroke-opacity="0.7"/><rect x="1414.4" y="697.5" width="13.4" height="2" fill="#9c7533"/><rect x="1414.4" y="700" width="13.4" height="2" fill="#fffaea"/><rect x="1414.4" y="702.5" width="13.4" height="2" fill="#9c7533"/><rect x="1414.4" y="762" width="13.4" height="173.6" fill="#9c7533"/><rect x="1414.4" y="868" width="13.4" height="2" fill="#fbbc4d"/></g><path d="M1414.4,632.5 L1427.8,632.5 L1427.8,933.5 L1414.4,933.5 Z" fill="none" stroke="#a98d5c" stroke-width="1.35"/><path d="M1416.8,624.5 L1425.4,624.5 L1426.2,626.5 L1426.2,633.3 L1416,633.3 L1416,626.5 Z" fill="#e2323a" stroke="#8e2424" stroke-width="1.1"/><path d="M1416.8,934 L1425.4,934 L1426.2,936 L1426.2,942.8 L1416,942.8 L1416,936 Z" fill="#e2323a" stroke="#8e2424" stroke-width="1.1"/><path d="M1453.4,566.5 L1466.8,566.5 L1466.8,933.5 L1453.4,933.5 Z" fill="#ffffff"/><path d="M1453.4,566.5 L1466.8,566.5 L1466.8,933.5 L1453.4,933.5 Z" fill="none" stroke="#9d9797" stroke-width="1.35"/><path d="M1455.8,558.5 L1464.4,558.5 L1465.2,560.5 L1465.2,567.3 L1455,567.3 L1455,560.5 Z" fill="#e2323a" stroke="#8e2424" stroke-width="1.1"/><path d="M1455.8,934 L1464.4,934 L1465.2,936 L1465.2,942.8 L1455,942.8 L1455,936 Z" fill="#e2323a" stroke="#8e2424" stroke-width="1.1"/><path d="M1470.4,567.1 A6.7,6.7 0 0 1 1483.8,567.1 L1483.8,933.6 A6.7,6.7 0 0 1 1470.4,933.6 Z" fill="#ffffff"/><path d="M1470.4,567.1 A6.7,6.7 0 0 1 1483.8,567.1 L1483.8,933.6 A6.7,6.7 0 0 1 1470.4,933.6 Z" fill="none" stroke="#9d9797" stroke-width="1.35"/><path d="M1496.3,595 L1509.7,595 L1509.7,933.5 L1496.3,933.5 Z" fill="#7ec5ba"/><g clip-path="url(#c61)"><rect x="1496.3" y="600.5" width="13.4" height="2" fill="#f3fbf9"/><rect x="1496.3" y="605.5" width="13.4" height="2.5" fill="#f3fbf9"/><rect x="1496.3" y="613" width="13.4" height="2.5" fill="#4b8a7c"/><rect x="1496.3" y="616.7" width="13.4" height="3.1" fill="#f3fbf9"/><rect x="1496.3" y="660.5" width="13.4" height="2" fill="#f3fbf9"/><rect x="1496.3" y="663.5" width="13.4" height="2" fill="#4b8a7c"/><rect x="1496.3" y="666.5" width="13.4" height="2" fill="#f3fbf9"/><rect x="1496.3" y="670" width="13.4" height="9.3" fill="#4b8a7c"/><rect x="1496.3" y="680.5" width="13.4" height="2" fill="#f3fbf9"/><rect x="1496.3" y="683.5" width="13.4" height="1.5" fill="#4b8a7c"/><rect x="1496.3" y="724.5" width="13.4" height="2" fill="#f3fbf9"/><rect x="1496.3" y="727.3" width="13.4" height="4.1" fill="#4b8a7c"/><rect x="1496.3" y="733" width="13.4" height="3" fill="#f3fbf9"/><rect x="1496.3" y="739.8" width="13.4" height="182.2" fill="#4b8a7c"/><rect x="1496.3" y="924.5" width="13.4" height="2" fill="#f3fbf9"/><rect x="1496.3" y="929" width="13.4" height="2" fill="#f3fbf9"/></g><path d="M1496.3,595 L1509.7,595 L1509.7,933.5 L1496.3,933.5 Z" fill="none" stroke="#7c948f" stroke-width="1.35"/><path d="M1498.7,587 L1507.3,587 L1508.1,589 L1508.1,595.8 L1497.9,595.8 L1497.9,589 Z" fill="#e2323a" stroke="#8e2424" stroke-width="1.1"/><path d="M1498.7,934 L1507.3,934 L1508.1,936 L1508.1,942.8 L1497.9,942.8 L1497.9,936 Z" fill="#e2323a" stroke="#8e2424" stroke-width="1.1"/><path d="M1513.3,592.4 L1526.7,592.4 L1526.7,933.5 L1513.3,933.5 Z" fill="#fbbc4d"/><g clip-path="url(#c62)"><rect x="1513.3" y="600" width="13.4" height="2.5" fill="#fffaea"/><rect x="1513.3" y="605" width="13.4" height="2.5" fill="#fffaea"/><rect x="1513.3" y="609.5" width="13.4" height="2" fill="#9c7533"/><rect x="1513.3" y="612.5" width="13.4" height="2.5" fill="#fffaea"/><rect x="1513.3" y="660.5" width="13.4" height="3.1" fill="#9c7533"/><rect x="1513.3" y="666.8" width="13.4" height="8.2" fill="#9c7533"/><rect x="1513.3" y="677" width="13.4" height="2" fill="#fffaea"/><rect x="1513.3" y="679.5" width="13.4" height="1.5" fill="#9c7533"/><rect x="1513.3" y="721.5" width="13.4" height="1.5" fill="#fffaea"/><rect x="1513.3" y="724" width="13.4" height="4.3" fill="#9c7533"/><rect x="1513.3" y="730.4" width="13.4" height="2.1" fill="#fffaea"/><rect x="1513.3" y="735.6" width="13.4" height="186.4" fill="#9c7533"/><rect x="1513.3" y="908.5" width="13.4" height="1.5" fill="#fbbc4d"/><rect x="1513.3" y="924.5" width="13.4" height="2.5" fill="#fffaea"/><rect x="1513.3" y="929.5" width="13.4" height="2" fill="#fffaea"/></g><path d="M1513.3,592.4 L1526.7,592.4 L1526.7,933.5 L1513.3,933.5 Z" fill="none" stroke="#a98d5c" stroke-width="1.35"/><path d="M1515.7,584.4 L1524.3,584.4 L1525.1,586.4 L1525.1,593.2 L1514.9,593.2 L1514.9,586.4 Z" fill="#e2323a" stroke="#8e2424" stroke-width="1.1"/><path d="M1515.7,934 L1524.3,934 L1525.1,936 L1525.1,942.8 L1514.9,942.8 L1514.9,936 Z" fill="#e2323a" stroke="#8e2424" stroke-width="1.1"/><path d="M1543.4,618.5 L1556.8,618.5 L1556.8,933.5 L1543.4,933.5 Z" fill="#7ec5ba"/><g clip-path="url(#c63)"><rect x="1543.4" y="634.5" width="13.4" height="2" fill="#f3fbf9"/><rect x="1543.4" y="643" width="13.4" height="2" fill="#f3fbf9"/><rect x="1543.4" y="655" width="13.4" height="2.5" fill="#f3fbf9"/><rect x="1543.4" y="667.8" width="13.4" height="2.2" fill="#4b8a7c"/><rect x="1543.4" y="677.5" width="13.4" height="2" fill="#4b8a7c"/><rect x="1543.4" y="693.9" width="13.4" height="188.5" fill="#4b8a7c"/><rect x="1543.4" y="766.5" width="13.4" height="2" fill="#f3fbf9"/><rect x="1543.4" y="798.5" width="13.4" height="2" fill="#f3fbf9"/><rect x="1543.4" y="823.5" width="13.4" height="8.5" fill="#7ec5ba"/><rect x="1543.4" y="837" width="13.4" height="1.5" fill="#f3fbf9"/><rect x="1543.4" y="860.5" width="13.4" height="2" fill="#f3fbf9"/><rect x="1543.4" y="887" width="13.4" height="1.5" fill="#4b8a7c"/><rect x="1543.4" y="894.5" width="13.4" height="4" fill="#4b8a7c"/><rect x="1543.4" y="913.5" width="13.4" height="1.5" fill="#4b8a7c"/><rect x="1543.4" y="926" width="13.4" height="1.5" fill="#f3fbf9"/></g><path d="M1543.4,618.5 L1556.8,618.5 L1556.8,933.5 L1543.4,933.5 Z" fill="none" stroke="#7c948f" stroke-width="1.35"/><path d="M1545.8,610.5 L1554.4,610.5 L1555.2,612.5 L1555.2,619.3 L1545,619.3 L1545,612.5 Z" fill="#e2323a" stroke="#8e2424" stroke-width="1.1"/><path d="M1545.8,934 L1554.4,934 L1555.2,936 L1555.2,942.8 L1545,942.8 L1545,936 Z" fill="#e2323a" stroke="#8e2424" stroke-width="1.1"/><path d="M1560.4,619.7 A6.7,6.7 0 0 1 1573.8,619.7 L1573.8,933.5 L1560.4,933.5 Z" fill="#fbbc4d"/><g clip-path="url(#c64)"><rect x="1560.4" y="631" width="13.4" height="1.5" fill="#9c7533"/><rect x="1560.4" y="654.5" width="13.4" height="2.5" fill="#fffaea"/><rect x="1560.4" y="666.8" width="13.4" height="3.2" fill="#9c7533"/><rect x="1560.4" y="672" width="13.4" height="2" fill="#fffaea"/><rect x="1560.4" y="692.8" width="13.4" height="189.6" fill="#9c7533"/><rect x="1560.4" y="766.5" width="13.4" height="2" fill="#fbbc4d"/><rect x="1560.4" y="798.5" width="13.4" height="2" fill="#fbbc4d"/><rect x="1560.4" y="823.5" width="13.4" height="8.5" fill="#fbbc4d"/><rect x="1560.4" y="837" width="13.4" height="1.5" fill="#fbbc4d"/><rect x="1560.4" y="860.5" width="13.4" height="2" fill="#fbbc4d"/><rect x="1560.4" y="887" width="13.4" height="1.5" fill="#9c7533"/><rect x="1560.4" y="894.5" width="13.4" height="4" fill="#9c7533"/><rect x="1560.4" y="912" width="13.4" height="3" fill="#9c7533"/><rect x="1560.4" y="927" width="13.4" height="2" fill="#fffaea"/></g><path d="M1560.4,619.7 A6.7,6.7 0 0 1 1573.8,619.7 L1573.8,933.5 L1560.4,933.5 Z" fill="none" stroke="#a98d5c" stroke-width="1.35"/><path d="M1562.8,934 L1571.4,934 L1572.2,936 L1572.2,942.8 L1562,942.8 L1562,936 Z" fill="#e2323a" stroke="#8e2424" stroke-width="1.1"/>
<defs><clipPath id="f1"><path d="M89.50,1596.40 C90.08,1592.83 91.75,1587.73 93.00,1575.00 C94.25,1562.27 95.45,1545.00 97.00,1520.00 C98.55,1495.00 100.30,1452.50 102.30,1425.00 C104.30,1397.50 106.63,1374.83 109.00,1355.00 C111.37,1335.17 114.00,1318.83 116.50,1306.00 C119.00,1293.17 121.92,1284.33 124.00,1278.00 C126.08,1271.67 127.60,1270.08 129.00,1268.00 C130.40,1265.92 131.23,1265.50 132.40,1265.50 C133.57,1265.50 134.57,1264.75 136.00,1268.00 C137.43,1271.25 139.17,1276.67 141.00,1285.00 C142.83,1293.33 144.83,1304.67 147.00,1318.00 C149.17,1331.33 151.67,1349.33 154.00,1365.00 C156.33,1380.67 158.10,1393.17 161.00,1412.00 C163.90,1430.83 168.57,1460.00 171.40,1478.00 C174.23,1496.00 175.63,1507.67 178.00,1520.00 C180.37,1532.33 183.10,1543.50 185.60,1552.00 C188.10,1560.50 190.30,1565.75 193.00,1571.00 C195.70,1576.25 198.63,1580.33 201.80,1583.50 C204.97,1586.67 208.63,1588.33 212.00,1590.00 C215.37,1591.67 217.33,1592.67 222.00,1593.50 C226.67,1594.33 237.00,1594.75 240.00,1595.00 L240.0,1596.6 L89.5,1596.6 Z"/></clipPath></defs><path d="M89.50,1596.40 C90.08,1592.83 91.75,1587.73 93.00,1575.00 C94.25,1562.27 95.45,1545.00 97.00,1520.00 C98.55,1495.00 100.30,1452.50 102.30,1425.00 C104.30,1397.50 106.63,1374.83 109.00,1355.00 C111.37,1335.17 114.00,1318.83 116.50,1306.00 C119.00,1293.17 121.92,1284.33 124.00,1278.00 C126.08,1271.67 127.60,1270.08 129.00,1268.00 C130.40,1265.92 131.23,1265.50 132.40,1265.50 C133.57,1265.50 134.57,1264.75 136.00,1268.00 C137.43,1271.25 139.17,1276.67 141.00,1285.00 C142.83,1293.33 144.83,1304.67 147.00,1318.00 C149.17,1331.33 151.67,1349.33 154.00,1365.00 C156.33,1380.67 158.10,1393.17 161.00,1412.00 C163.90,1430.83 168.57,1460.00 171.40,1478.00 C174.23,1496.00 175.63,1507.67 178.00,1520.00 C180.37,1532.33 183.10,1543.50 185.60,1552.00 C188.10,1560.50 190.30,1565.75 193.00,1571.00 C195.70,1576.25 198.63,1580.33 201.80,1583.50 C204.97,1586.67 208.63,1588.33 212.00,1590.00 C215.37,1591.67 217.33,1592.67 222.00,1593.50 C226.67,1594.33 237.00,1594.75 240.00,1595.00 L240.0,1596.6 L89.5,1596.6 Z" fill="#f4d6a6"/><g clip-path="url(#f1)" stroke="#5e4a2c" stroke-width="1.6"><line x1="102.98" y1="1260" x2="102.98" y2="1596.6" /><line x1="116.66" y1="1260" x2="116.66" y2="1596.6" /><line x1="130.34" y1="1260" x2="130.34" y2="1596.6" /><line x1="144.02" y1="1260" x2="144.02" y2="1596.6" /><line x1="157.70" y1="1260" x2="157.70" y2="1596.6" /><line x1="171.38" y1="1260" x2="171.38" y2="1596.6" /><line x1="185.06" y1="1260" x2="185.06" y2="1596.6" /><line x1="198.74" y1="1260" x2="198.74" y2="1596.6" /><line x1="212.42" y1="1260" x2="212.42" y2="1596.6" /></g><defs><clipPath id="f2"><path d="M420.00,1595.50 C422.93,1595.12 431.75,1594.53 437.60,1593.20 C443.45,1591.87 450.53,1589.37 455.10,1587.50 C459.67,1585.63 462.07,1584.08 465.00,1582.00 C467.93,1579.92 470.20,1577.67 472.70,1575.00 C475.20,1572.33 477.65,1569.33 480.00,1566.00 C482.35,1562.67 484.63,1558.83 486.80,1555.00 C488.97,1551.17 490.95,1547.42 493.00,1543.00 C495.05,1538.58 497.10,1533.83 499.10,1528.50 C501.10,1523.17 502.95,1517.45 505.00,1511.00 C507.05,1504.55 509.17,1499.63 511.40,1489.80 C513.63,1479.97 516.07,1465.30 518.40,1452.00 C520.73,1438.70 523.47,1421.17 525.40,1410.00 C527.33,1398.83 528.53,1392.33 530.00,1385.00 C531.47,1377.67 532.78,1371.83 534.20,1366.00 C535.62,1360.17 537.03,1354.67 538.50,1350.00 C539.97,1345.33 541.42,1341.50 543.00,1338.00 C544.58,1334.50 546.23,1331.20 548.00,1329.00 C549.77,1326.80 552.02,1325.05 553.60,1324.80 C555.18,1324.55 556.33,1325.97 557.50,1327.50 C558.67,1329.03 559.52,1330.75 560.60,1334.00 C561.68,1337.25 562.83,1342.00 564.00,1347.00 C565.17,1352.00 566.43,1357.67 567.60,1364.00 C568.77,1370.33 569.82,1377.50 571.00,1385.00 C572.18,1392.50 573.50,1401.00 574.70,1409.00 C575.90,1417.00 577.03,1425.00 578.20,1433.00 C579.37,1441.00 580.53,1449.00 581.70,1457.00 C582.87,1465.00 584.03,1473.50 585.20,1481.00 C586.37,1488.50 587.53,1495.33 588.70,1502.00 C589.87,1508.67 591.03,1515.08 592.20,1521.00 C593.37,1526.92 594.53,1532.67 595.70,1537.50 C596.87,1542.33 598.02,1546.17 599.20,1550.00 C600.38,1553.83 601.33,1556.92 602.80,1560.50 C604.27,1564.08 606.25,1568.35 608.00,1571.50 C609.75,1574.65 611.55,1577.07 613.30,1579.40 C615.05,1581.73 616.73,1583.73 618.50,1585.50 C620.27,1587.27 621.82,1588.72 623.90,1590.00 C625.98,1591.28 628.37,1592.37 631.00,1593.20 C633.63,1594.03 638.25,1594.70 639.70,1595.00 L639.7,1596.6 L420.0,1596.6 Z"/></clipPath></defs><path d="M420.00,1595.50 C422.93,1595.12 431.75,1594.53 437.60,1593.20 C443.45,1591.87 450.53,1589.37 455.10,1587.50 C459.67,1585.63 462.07,1584.08 465.00,1582.00 C467.93,1579.92 470.20,1577.67 472.70,1575.00 C475.20,1572.33 477.65,1569.33 480.00,1566.00 C482.35,1562.67 484.63,1558.83 486.80,1555.00 C488.97,1551.17 490.95,1547.42 493.00,1543.00 C495.05,1538.58 497.10,1533.83 499.10,1528.50 C501.10,1523.17 502.95,1517.45 505.00,1511.00 C507.05,1504.55 509.17,1499.63 511.40,1489.80 C513.63,1479.97 516.07,1465.30 518.40,1452.00 C520.73,1438.70 523.47,1421.17 525.40,1410.00 C527.33,1398.83 528.53,1392.33 530.00,1385.00 C531.47,1377.67 532.78,1371.83 534.20,1366.00 C535.62,1360.17 537.03,1354.67 538.50,1350.00 C539.97,1345.33 541.42,1341.50 543.00,1338.00 C544.58,1334.50 546.23,1331.20 548.00,1329.00 C549.77,1326.80 552.02,1325.05 553.60,1324.80 C555.18,1324.55 556.33,1325.97 557.50,1327.50 C558.67,1329.03 559.52,1330.75 560.60,1334.00 C561.68,1337.25 562.83,1342.00 564.00,1347.00 C565.17,1352.00 566.43,1357.67 567.60,1364.00 C568.77,1370.33 569.82,1377.50 571.00,1385.00 C572.18,1392.50 573.50,1401.00 574.70,1409.00 C575.90,1417.00 577.03,1425.00 578.20,1433.00 C579.37,1441.00 580.53,1449.00 581.70,1457.00 C582.87,1465.00 584.03,1473.50 585.20,1481.00 C586.37,1488.50 587.53,1495.33 588.70,1502.00 C589.87,1508.67 591.03,1515.08 592.20,1521.00 C593.37,1526.92 594.53,1532.67 595.70,1537.50 C596.87,1542.33 598.02,1546.17 599.20,1550.00 C600.38,1553.83 601.33,1556.92 602.80,1560.50 C604.27,1564.08 606.25,1568.35 608.00,1571.50 C609.75,1574.65 611.55,1577.07 613.30,1579.40 C615.05,1581.73 616.73,1583.73 618.50,1585.50 C620.27,1587.27 621.82,1588.72 623.90,1590.00 C625.98,1591.28 628.37,1592.37 631.00,1593.20 C633.63,1594.03 638.25,1594.70 639.70,1595.00 L639.7,1596.6 L420.0,1596.6 Z" fill="#b7d8c6"/><g clip-path="url(#f2)" stroke="#344f43" stroke-width="1.6"><line x1="417.62" y1="1300" x2="417.62" y2="1596.6" /><line x1="431.30" y1="1300" x2="431.30" y2="1596.6" /><line x1="444.98" y1="1300" x2="444.98" y2="1596.6" /><line x1="458.66" y1="1300" x2="458.66" y2="1596.6" /><line x1="472.34" y1="1300" x2="472.34" y2="1596.6" /><line x1="486.02" y1="1300" x2="486.02" y2="1596.6" /><line x1="499.70" y1="1300" x2="499.70" y2="1596.6" /><line x1="513.38" y1="1300" x2="513.38" y2="1596.6" /><line x1="527.06" y1="1300" x2="527.06" y2="1596.6" /><line x1="540.74" y1="1300" x2="540.74" y2="1596.6" /><line x1="554.42" y1="1300" x2="554.42" y2="1596.6" /><line x1="568.10" y1="1300" x2="568.10" y2="1596.6" /><line x1="581.78" y1="1300" x2="581.78" y2="1596.6" /><line x1="595.46" y1="1300" x2="595.46" y2="1596.6" /><line x1="609.14" y1="1300" x2="609.14" y2="1596.6" /><line x1="622.82" y1="1300" x2="622.82" y2="1596.6" /><line x1="636.50" y1="1300" x2="636.50" y2="1596.6" /></g><path d="M90,1596 C94,1594 97,1590.5 101,1590.5 C106,1590.5 110,1594 118,1594.5 C125,1595 135,1594 140,1594 C146,1594 150,1595.5 160,1596" fill="none" stroke="#7b8a55" stroke-width="1.4"/><g fill="none" stroke="#111" stroke-width="1.7"><rect x="89.30" y="1526.10" width="13.68" height="70.50"/><rect x="102.98" y="1357.60" width="13.68" height="239.00"/><rect x="116.66" y="1288.20" width="13.68" height="308.40"/><rect x="130.34" y="1285.00" width="13.68" height="311.60"/><rect x="144.02" y="1352.00" width="13.68" height="244.60"/><rect x="157.70" y="1446.00" width="13.68" height="150.60"/><rect x="171.38" y="1526.00" width="13.68" height="70.60"/><rect x="185.06" y="1570.00" width="13.68" height="26.60"/><rect x="198.74" y="1586.00" width="13.68" height="10.60"/><rect x="212.42" y="1592.80" width="13.68" height="3.80"/><rect x="226.10" y="1595.00" width="13.68" height="1.60"/><rect x="417.62" y="1595.00" width="13.68" height="1.60"/><rect x="431.30" y="1593.20" width="13.68" height="3.40"/><rect x="444.98" y="1590.00" width="13.68" height="6.60"/><rect x="458.66" y="1583.80" width="13.68" height="12.80"/><rect x="472.34" y="1574.20" width="13.68" height="22.40"/><rect x="486.02" y="1551.70" width="13.68" height="44.90"/><rect x="499.70" y="1507.00" width="13.68" height="89.60"/><rect x="513.38" y="1428.80" width="13.68" height="167.80"/><rect x="527.06" y="1368.50" width="13.68" height="228.10"/><rect x="540.74" y="1336.00" width="13.68" height="260.60"/><rect x="554.42" y="1341.30" width="13.68" height="255.30"/><rect x="568.10" y="1431.00" width="13.68" height="165.60"/><rect x="581.78" y="1504.70" width="13.68" height="91.90"/><rect x="595.46" y="1557.00" width="13.68" height="39.60"/><rect x="609.14" y="1583.00" width="13.68" height="13.60"/><rect x="622.82" y="1592.60" width="13.68" height="4.00"/><rect x="636.50" y="1595.00" width="13.68" height="1.60"/></g><path d="M89.50,1596.40 C90.08,1592.83 91.75,1587.73 93.00,1575.00 C94.25,1562.27 95.45,1545.00 97.00,1520.00 C98.55,1495.00 100.30,1452.50 102.30,1425.00 C104.30,1397.50 106.63,1374.83 109.00,1355.00 C111.37,1335.17 114.00,1318.83 116.50,1306.00 C119.00,1293.17 121.92,1284.33 124.00,1278.00 C126.08,1271.67 127.60,1270.08 129.00,1268.00 C130.40,1265.92 131.23,1265.50 132.40,1265.50 C133.57,1265.50 134.57,1264.75 136.00,1268.00 C137.43,1271.25 139.17,1276.67 141.00,1285.00 C142.83,1293.33 144.83,1304.67 147.00,1318.00 C149.17,1331.33 151.67,1349.33 154.00,1365.00 C156.33,1380.67 158.10,1393.17 161.00,1412.00 C163.90,1430.83 168.57,1460.00 171.40,1478.00 C174.23,1496.00 175.63,1507.67 178.00,1520.00 C180.37,1532.33 183.10,1543.50 185.60,1552.00 C188.10,1560.50 190.30,1565.75 193.00,1571.00 C195.70,1576.25 198.63,1580.33 201.80,1583.50 C204.97,1586.67 208.63,1588.33 212.00,1590.00 C215.37,1591.67 217.33,1592.67 222.00,1593.50 C226.67,1594.33 230.33,1594.65 240.00,1595.00 C249.67,1595.35 265.00,1595.43 280.00,1595.60 C295.00,1595.77 321.67,1595.93 330.00,1596.00" fill="none" stroke="#0d0d0d" stroke-width="2.6" stroke-linejoin="round"/><path d="M330.00,1596.00 C338.33,1596.03 365.00,1596.28 380.00,1596.20 C395.00,1596.12 410.40,1596.00 420.00,1595.50 C429.60,1595.00 431.75,1594.53 437.60,1593.20 C443.45,1591.87 450.53,1589.37 455.10,1587.50 C459.67,1585.63 462.07,1584.08 465.00,1582.00 C467.93,1579.92 470.20,1577.67 472.70,1575.00 C475.20,1572.33 477.65,1569.33 480.00,1566.00 C482.35,1562.67 484.63,1558.83 486.80,1555.00 C488.97,1551.17 490.95,1547.42 493.00,1543.00 C495.05,1538.58 497.10,1533.83 499.10,1528.50 C501.10,1523.17 502.95,1517.45 505.00,1511.00 C507.05,1504.55 509.17,1499.63 511.40,1489.80 C513.63,1479.97 516.07,1465.30 518.40,1452.00 C520.73,1438.70 523.47,1421.17 525.40,1410.00 C527.33,1398.83 528.53,1392.33 530.00,1385.00 C531.47,1377.67 532.78,1371.83 534.20,1366.00 C535.62,1360.17 537.03,1354.67 538.50,1350.00 C539.97,1345.33 541.42,1341.50 543.00,1338.00 C544.58,1334.50 546.23,1331.20 548.00,1329.00 C549.77,1326.80 552.02,1325.05 553.60,1324.80 C555.18,1324.55 556.33,1325.97 557.50,1327.50 C558.67,1329.03 559.52,1330.75 560.60,1334.00 C561.68,1337.25 562.83,1342.00 564.00,1347.00 C565.17,1352.00 566.43,1357.67 567.60,1364.00 C568.77,1370.33 569.82,1377.50 571.00,1385.00 C572.18,1392.50 573.50,1401.00 574.70,1409.00 C575.90,1417.00 577.03,1425.00 578.20,1433.00 C579.37,1441.00 580.53,1449.00 581.70,1457.00 C582.87,1465.00 584.03,1473.50 585.20,1481.00 C586.37,1488.50 587.53,1495.33 588.70,1502.00 C589.87,1508.67 591.03,1515.08 592.20,1521.00 C593.37,1526.92 594.53,1532.67 595.70,1537.50 C596.87,1542.33 598.02,1546.17 599.20,1550.00 C600.38,1553.83 601.33,1556.92 602.80,1560.50 C604.27,1564.08 606.25,1568.35 608.00,1571.50 C609.75,1574.65 611.55,1577.07 613.30,1579.40 C615.05,1581.73 616.73,1583.73 618.50,1585.50 C620.27,1587.27 621.82,1588.72 623.90,1590.00 C625.98,1591.28 628.37,1592.37 631.00,1593.20 C633.63,1594.03 634.87,1594.57 639.70,1595.00 C644.53,1595.43 649.95,1595.63 660.00,1595.80 C670.05,1595.97 683.43,1595.93 700.00,1596.00 C716.57,1596.07 749.50,1596.17 759.40,1596.20" fill="none" stroke="#0d0d0d" stroke-width="2.6" stroke-linejoin="round"/><line x1="57.3" y1="1250.5" x2="57.3" y2="1614" stroke="#000" stroke-width="2"/><line x1="56.3" y1="1612.8" x2="784.5" y2="1612.8" stroke="#000" stroke-width="2"/><line x1="96.6" y1="1613" x2="96.6" y2="1617" stroke="#333" stroke-width="1.4"/><text x="96.6" y="1631" text-anchor="middle" font-size="15" fill="#333">0.2</text><line x1="262.3" y1="1613" x2="262.3" y2="1617" stroke="#333" stroke-width="1.4"/><text x="262.3" y="1631" text-anchor="middle" font-size="15" fill="#333">0.4</text><line x1="428.1" y1="1613" x2="428.1" y2="1617" stroke="#333" stroke-width="1.4"/><text x="428.1" y="1631" text-anchor="middle" font-size="15" fill="#333">0.6</text><line x1="593.8" y1="1613" x2="593.8" y2="1617" stroke="#333" stroke-width="1.4"/><text x="593.8" y="1631" text-anchor="middle" font-size="15" fill="#333">0.8</text><line x1="759.6" y1="1613" x2="759.6" y2="1617" stroke="#333" stroke-width="1.4"/><text x="759.6" y="1631" text-anchor="middle" font-size="15" fill="#333">1.0</text><line x1="53.3" y1="1596.6" x2="57.3" y2="1596.6" stroke="#333" stroke-width="1.4"/><text x="49.5" y="1602.0" text-anchor="end" font-size="15.5" font-weight="bold" fill="#222">0</text><line x1="53.3" y1="1477.6" x2="57.3" y2="1477.6" stroke="#333" stroke-width="1.4"/><text x="49.5" y="1483.0" text-anchor="end" font-size="15.5" font-weight="bold" fill="#222">5</text><line x1="53.3" y1="1358.6" x2="57.3" y2="1358.6" stroke="#333" stroke-width="1.4"/><text x="49.5" y="1364.0" text-anchor="end" font-size="15.5" font-weight="bold" fill="#222">10</text><text x="411.5" y="1668" text-anchor="middle" font-size="29.5" fill="#111">ratio</text><text transform="translate(29.3,1437.6) rotate(-90)" text-anchor="middle" font-size="29.5" fill="#111">density</text><text transform="translate(96.6,1233.9) scale(0.94,1)" font-size="27.2" font-weight="bold" fill="#111">MAT-1</text><text transform="translate(514.4,1289.0) scale(0.95,1)" font-size="27.2" font-weight="bold" fill="#111">MAT-5</text><text transform="translate(11.2,1074.2) scale(0.94,1)" font-size="40.5" font-weight="bold" fill="#111">B.</text>
<text transform="translate(788,1074.2) scale(0.94,1)" font-size="40.5" font-weight="bold" fill="#111">C.</text><g clip-path="url(#hm)"><rect x="836.6" y="1110.2" width="713.8" height="697.0" fill="#7890ca"/><rect x="836.6" y="1110.2" width="713.8" height="697.0" filter="url(#nz)" opacity="0.7"/><g mask="url(#mdh)"><rect x="848.8" y="1110.2" width="5.5" height="697.0" fill="#322f88" fill-opacity="0.95"/><rect x="878.0" y="1110.2" width="4.0" height="697.0" fill="#322f88" fill-opacity="0.76"/><rect x="916.8" y="1110.2" width="5.5" height="697.0" fill="#322f88" fill-opacity="0.95"/><rect x="972.5" y="1110.2" width="4.0" height="697.0" fill="#322f88" fill-opacity="0.76"/><rect x="1031.2" y="1110.2" width="5.5" height="697.0" fill="#322f88" fill-opacity="0.95"/><rect x="1057.0" y="1110.2" width="3.0" height="697.0" fill="#322f88" fill-opacity="0.57"/><rect x="1069.5" y="1110.2" width="3.0" height="697.0" fill="#322f88" fill-opacity="0.66"/><rect x="1077.0" y="1110.2" width="4.0" height="697.0" fill="#322f88" fill-opacity="0.95"/><rect x="1101.0" y="1110.2" width="6.0" height="697.0" fill="#322f88" fill-opacity="0.95"/><rect x="1126.0" y="1110.2" width="4.0" height="697.0" fill="#322f88" fill-opacity="0.66"/><rect x="1132.5" y="1110.2" width="4.0" height="697.0" fill="#322f88" fill-opacity="0.66"/><rect x="1149.2" y="1110.2" width="4.5" height="697.0" fill="#322f88" fill-opacity="0.95"/><rect x="1182.5" y="1110.2" width="7.0" height="697.0" fill="#322f88" fill-opacity="0.95"/><rect x="1208.5" y="1110.2" width="5.0" height="697.0" fill="#322f88" fill-opacity="0.95"/><rect x="1227.5" y="1110.2" width="4.0" height="697.0" fill="#322f88" fill-opacity="0.66"/><rect x="1273.1" y="1110.2" width="5.0" height="697.0" fill="#322f88" fill-opacity="0.95"/><rect x="1299.0" y="1110.2" width="4.0" height="697.0" fill="#322f88" fill-opacity="0.85"/><rect x="1319.5" y="1110.2" width="9.0" height="697.0" fill="#322f88" fill-opacity="0.95"/><rect x="1361.5" y="1110.2" width="5.0" height="697.0" fill="#322f88" fill-opacity="0.76"/><rect x="1373.5" y="1110.2" width="5.0" height="697.0" fill="#322f88" fill-opacity="0.66"/><rect x="1402.5" y="1110.2" width="4.0" height="697.0" fill="#322f88" fill-opacity="0.66"/><rect x="866.4" y="1110.2" width="1.2" height="697.0" fill="#322f88" fill-opacity="0.34"/><rect x="892.5" y="1110.2" width="1.5" height="697.0" fill="#322f88" fill-opacity="0.28"/><rect x="902.4" y="1110.2" width="2.0" height="697.0" fill="#322f88" fill-opacity="0.46"/><rect x="948.8" y="1110.2" width="1.4" height="697.0" fill="#322f88" fill-opacity="0.34"/><rect x="961.5" y="1110.2" width="4.4" height="697.0" fill="#322f88" fill-opacity="0.57"/><rect x="1011.1" y="1110.2" width="5.6" height="697.0" fill="#322f88" fill-opacity="0.57"/><rect x="1039.7" y="1110.2" width="2.1" height="697.0" fill="#322f88" fill-opacity="0.28"/><rect x="1094.9" y="1110.2" width="2.9" height="697.0" fill="#322f88" fill-opacity="0.57"/><rect x="1245.9" y="1110.2" width="5.0" height="697.0" fill="#322f88" fill-opacity="0.46"/><rect x="1307.1" y="1110.2" width="5.7" height="697.0" fill="#322f88" fill-opacity="0.57"/><rect x="1423.0" y="1110.2" width="6.4" height="697.0" fill="#322f88" fill-opacity="0.40"/></g><g mask="url(#mdv)"><rect x="836.6" y="1122.1" width="713.8" height="5.4" fill="#322f88" fill-opacity="0.95"/><rect x="836.6" y="1150.6" width="713.8" height="3.9" fill="#322f88" fill-opacity="0.76"/><rect x="836.6" y="1188.5" width="713.8" height="5.4" fill="#322f88" fill-opacity="0.95"/><rect x="836.6" y="1242.9" width="713.8" height="3.9" fill="#322f88" fill-opacity="0.76"/><rect x="836.6" y="1300.3" width="713.8" height="5.4" fill="#322f88" fill-opacity="0.95"/><rect x="836.6" y="1325.4" width="713.8" height="2.9" fill="#322f88" fill-opacity="0.57"/><rect x="836.6" y="1337.6" width="713.8" height="2.9" fill="#322f88" fill-opacity="0.66"/><rect x="836.6" y="1344.9" width="713.8" height="3.9" fill="#322f88" fill-opacity="0.95"/><rect x="836.6" y="1368.4" width="713.8" height="5.9" fill="#322f88" fill-opacity="0.95"/><rect x="836.6" y="1392.8" width="713.8" height="3.9" fill="#322f88" fill-opacity="0.66"/><rect x="836.6" y="1399.1" width="713.8" height="3.9" fill="#322f88" fill-opacity="0.66"/><rect x="836.6" y="1415.5" width="713.8" height="4.4" fill="#322f88" fill-opacity="0.95"/><rect x="836.6" y="1448.0" width="713.8" height="6.8" fill="#322f88" fill-opacity="0.95"/><rect x="836.6" y="1473.3" width="713.8" height="4.9" fill="#322f88" fill-opacity="0.95"/><rect x="836.6" y="1491.9" width="713.8" height="3.9" fill="#322f88" fill-opacity="0.66"/><rect x="836.6" y="1536.4" width="713.8" height="4.9" fill="#322f88" fill-opacity="0.95"/><rect x="836.6" y="1561.7" width="713.8" height="3.9" fill="#322f88" fill-opacity="0.85"/><rect x="836.6" y="1581.7" width="713.8" height="8.8" fill="#322f88" fill-opacity="0.95"/><rect x="836.6" y="1622.7" width="713.8" height="4.9" fill="#322f88" fill-opacity="0.76"/><rect x="836.6" y="1634.5" width="713.8" height="4.9" fill="#322f88" fill-opacity="0.66"/><rect x="836.6" y="1662.8" width="713.8" height="3.9" fill="#322f88" fill-opacity="0.66"/><rect x="836.6" y="1139.3" width="713.8" height="1.2" fill="#322f88" fill-opacity="0.34"/><rect x="836.6" y="1164.8" width="713.8" height="1.5" fill="#322f88" fill-opacity="0.28"/><rect x="836.6" y="1174.4" width="713.8" height="1.9" fill="#322f88" fill-opacity="0.46"/><rect x="836.6" y="1219.7" width="713.8" height="1.4" fill="#322f88" fill-opacity="0.34"/><rect x="836.6" y="1232.1" width="713.8" height="4.3" fill="#322f88" fill-opacity="0.57"/><rect x="836.6" y="1280.6" width="713.8" height="5.5" fill="#322f88" fill-opacity="0.57"/><rect x="836.6" y="1308.5" width="713.8" height="2.1" fill="#322f88" fill-opacity="0.28"/><rect x="836.6" y="1362.4" width="713.8" height="2.8" fill="#322f88" fill-opacity="0.57"/><rect x="836.6" y="1509.8" width="713.8" height="4.9" fill="#322f88" fill-opacity="0.46"/><rect x="836.6" y="1569.6" width="713.8" height="5.6" fill="#322f88" fill-opacity="0.57"/><rect x="836.6" y="1682.8" width="713.8" height="6.3" fill="#322f88" fill-opacity="0.40"/></g><g mask="url(#vm)"><rect x="836.6" y="1122.1" width="713.8" height="5.4" fill="#b3d0ee" fill-opacity="1.00"/><rect x="836.6" y="1150.6" width="713.8" height="3.9" fill="#b3d0ee" fill-opacity="0.80"/><rect x="836.6" y="1188.5" width="713.8" height="5.4" fill="#b3d0ee" fill-opacity="1.00"/><rect x="836.6" y="1242.9" width="713.8" height="3.9" fill="#b3d0ee" fill-opacity="0.80"/><rect x="836.6" y="1300.3" width="713.8" height="5.4" fill="#b3d0ee" fill-opacity="1.00"/><rect x="836.6" y="1325.4" width="713.8" height="2.9" fill="#b3d0ee" fill-opacity="0.60"/><rect x="836.6" y="1337.6" width="713.8" height="2.9" fill="#b3d0ee" fill-opacity="0.70"/><rect x="836.6" y="1344.9" width="713.8" height="3.9" fill="#b3d0ee" fill-opacity="1.00"/><rect x="836.6" y="1368.4" width="713.8" height="5.9" fill="#b3d0ee" fill-opacity="1.00"/><rect x="836.6" y="1392.8" width="713.8" height="3.9" fill="#b3d0ee" fill-opacity="0.70"/><rect x="836.6" y="1399.1" width="713.8" height="3.9" fill="#b3d0ee" fill-opacity="0.70"/><rect x="836.6" y="1415.5" width="713.8" height="4.4" fill="#b3d0ee" fill-opacity="1.00"/><rect x="836.6" y="1448.0" width="713.8" height="6.8" fill="#b3d0ee" fill-opacity="1.00"/><rect x="836.6" y="1473.3" width="713.8" height="4.9" fill="#b3d0ee" fill-opacity="1.00"/><rect x="836.6" y="1491.9" width="713.8" height="3.9" fill="#b3d0ee" fill-opacity="0.70"/><rect x="836.6" y="1536.4" width="713.8" height="4.9" fill="#b3d0ee" fill-opacity="1.00"/><rect x="836.6" y="1561.7" width="713.8" height="3.9" fill="#b3d0ee" fill-opacity="0.90"/><rect x="836.6" y="1581.7" width="713.8" height="8.8" fill="#b3d0ee" fill-opacity="1.00"/><rect x="836.6" y="1622.7" width="713.8" height="4.9" fill="#b3d0ee" fill-opacity="0.80"/><rect x="836.6" y="1634.5" width="713.8" height="4.9" fill="#b3d0ee" fill-opacity="0.70"/><rect x="836.6" y="1662.8" width="713.8" height="3.9" fill="#b3d0ee" fill-opacity="0.70"/><rect x="836.6" y="1139.3" width="713.8" height="1.2" fill="#b3d0ee" fill-opacity="0.36"/><rect x="836.6" y="1164.8" width="713.8" height="1.5" fill="#b3d0ee" fill-opacity="0.30"/><rect x="836.6" y="1174.4" width="713.8" height="1.9" fill="#b3d0ee" fill-opacity="0.48"/><rect x="836.6" y="1219.7" width="713.8" height="1.4" fill="#b3d0ee" fill-opacity="0.36"/><rect x="836.6" y="1232.1" width="713.8" height="4.3" fill="#b3d0ee" fill-opacity="0.60"/><rect x="836.6" y="1280.6" width="713.8" height="5.5" fill="#b3d0ee" fill-opacity="0.60"/><rect x="836.6" y="1308.5" width="713.8" height="2.1" fill="#b3d0ee" fill-opacity="0.30"/><rect x="836.6" y="1362.4" width="713.8" height="2.8" fill="#b3d0ee" fill-opacity="0.60"/><rect x="836.6" y="1509.8" width="713.8" height="4.9" fill="#b3d0ee" fill-opacity="0.48"/><rect x="836.6" y="1569.6" width="713.8" height="5.6" fill="#b3d0ee" fill-opacity="0.60"/><rect x="836.6" y="1682.8" width="713.8" height="6.3" fill="#b3d0ee" fill-opacity="0.42"/></g><rect x="836.6" y="1701.5" width="605.2" height="25.5" fill="#322f88" fill-opacity="0.86"/><rect x="848" y="1701.5" width="7.0" height="25.5" fill="#b3d0ee" fill-opacity="0.92"/><rect x="866" y="1701.5" width="2.0" height="25.5" fill="#b3d0ee" fill-opacity="0.55"/><rect x="877" y="1701.5" width="5.6" height="25.5" fill="#b3d0ee" fill-opacity="0.92"/><rect x="892" y="1701.5" width="2.5" height="25.5" fill="#b3d0ee" fill-opacity="0.46"/><rect x="901.7" y="1701.5" width="3.3" height="25.5" fill="#b3d0ee" fill-opacity="0.74"/><rect x="916.6" y="1701.5" width="7.8" height="25.5" fill="#b3d0ee" fill-opacity="0.92"/><rect x="948.3" y="1701.5" width="2.4" height="25.5" fill="#b3d0ee" fill-opacity="0.55"/><rect x="960" y="1701.5" width="7.4" height="25.5" fill="#b3d0ee" fill-opacity="0.92"/><rect x="973.4" y="1701.5" width="7.2" height="25.5" fill="#b3d0ee" fill-opacity="0.92"/><rect x="1009.2" y="1701.5" width="9.4" height="25.5" fill="#b3d0ee" fill-opacity="0.92"/><rect x="1030.5" y="1701.5" width="7.2" height="25.5" fill="#b3d0ee" fill-opacity="0.92"/><rect x="1039" y="1701.5" width="3.5" height="25.5" fill="#b3d0ee" fill-opacity="0.46"/><rect x="1056.8" y="1701.5" width="6.0" height="25.5" fill="#b3d0ee" fill-opacity="0.74"/><rect x="1077" y="1701.5" width="5.0" height="25.5" fill="#b3d0ee" fill-opacity="0.92"/><rect x="1093.9" y="1701.5" width="4.8" height="25.5" fill="#b3d0ee" fill-opacity="0.92"/><rect x="1103.4" y="1701.5" width="6.0" height="25.5" fill="#b3d0ee" fill-opacity="0.92"/><rect x="1122.6" y="1701.5" width="4.7" height="25.5" fill="#b3d0ee" fill-opacity="0.92"/><rect x="1127.3" y="1701.5" width="12.0" height="25.5" fill="#b3d0ee" fill-opacity="0.55"/><rect x="1145.3" y="1701.5" width="13.1" height="25.5" fill="#b3d0ee" fill-opacity="0.92"/><rect x="1181" y="1701.5" width="13.3" height="25.5" fill="#b3d0ee" fill-opacity="0.92"/><rect x="1207" y="1701.5" width="8.5" height="25.5" fill="#b3d0ee" fill-opacity="0.92"/><rect x="1230" y="1701.5" width="3.5" height="25.5" fill="#b3d0ee" fill-opacity="0.74"/><rect x="1244.2" y="1701.5" width="8.4" height="25.5" fill="#b3d0ee" fill-opacity="0.74"/><rect x="1274" y="1701.5" width="6.0" height="25.5" fill="#b3d0ee" fill-opacity="0.92"/><rect x="1305.2" y="1701.5" width="9.5" height="25.5" fill="#b3d0ee" fill-opacity="0.92"/><rect x="1319.5" y="1701.5" width="9.5" height="25.5" fill="#b3d0ee" fill-opacity="0.92"/><rect x="1357.7" y="1701.5" width="9.6" height="25.5" fill="#b3d0ee" fill-opacity="0.92"/><rect x="1368.5" y="1701.5" width="10.8" height="25.5" fill="#b3d0ee" fill-opacity="0.46"/><rect x="1397" y="1701.5" width="7.0" height="25.5" fill="#b3d0ee" fill-opacity="0.92"/><rect x="1420.9" y="1701.5" width="10.7" height="25.5" fill="#b3d0ee" fill-opacity="0.64"/><rect x="836.6" y="1751" width="605.2" height="30.0" fill="#322f88" fill-opacity="0.86"/><rect x="848" y="1751" width="7.0" height="30.0" fill="#b3d0ee" fill-opacity="0.92"/><rect x="866" y="1751" width="2.0" height="30.0" fill="#b3d0ee" fill-opacity="0.55"/><rect x="877" y="1751" width="5.6" height="30.0" fill="#b3d0ee" fill-opacity="0.92"/><rect x="892" y="1751" width="2.5" height="30.0" fill="#b3d0ee" fill-opacity="0.46"/><rect x="901.7" y="1751" width="3.3" height="30.0" fill="#b3d0ee" fill-opacity="0.74"/><rect x="916.6" y="1751" width="7.8" height="30.0" fill="#b3d0ee" fill-opacity="0.92"/><rect x="948.3" y="1751" width="2.4" height="30.0" fill="#b3d0ee" fill-opacity="0.55"/><rect x="960" y="1751" width="7.4" height="30.0" fill="#b3d0ee" fill-opacity="0.92"/><rect x="973.4" y="1751" width="7.2" height="30.0" fill="#b3d0ee" fill-opacity="0.92"/><rect x="1009.2" y="1751" width="9.4" height="30.0" fill="#b3d0ee" fill-opacity="0.92"/><rect x="1030.5" y="1751" width="7.2" height="30.0" fill="#b3d0ee" fill-opacity="0.92"/><rect x="1039" y="1751" width="3.5" height="30.0" fill="#b3d0ee" fill-opacity="0.46"/><rect x="1056.8" y="1751" width="6.0" height="30.0" fill="#b3d0ee" fill-opacity="0.74"/><rect x="1077" y="1751" width="5.0" height="30.0" fill="#b3d0ee" fill-opacity="0.92"/><rect x="1093.9" y="1751" width="4.8" height="30.0" fill="#b3d0ee" fill-opacity="0.92"/><rect x="1103.4" y="1751" width="6.0" height="30.0" fill="#b3d0ee" fill-opacity="0.92"/><rect x="1122.6" y="1751" width="4.7" height="30.0" fill="#b3d0ee" fill-opacity="0.92"/><rect x="1127.3" y="1751" width="12.0" height="30.0" fill="#b3d0ee" fill-opacity="0.55"/><rect x="1145.3" y="1751" width="13.1" height="30.0" fill="#b3d0ee" fill-opacity="0.92"/><rect x="1181" y="1751" width="13.3" height="30.0" fill="#b3d0ee" fill-opacity="0.92"/><rect x="1207" y="1751" width="8.5" height="30.0" fill="#b3d0ee" fill-opacity="0.92"/><rect x="1230" y="1751" width="3.5" height="30.0" fill="#b3d0ee" fill-opacity="0.74"/><rect x="1244.2" y="1751" width="8.4" height="30.0" fill="#b3d0ee" fill-opacity="0.74"/><rect x="1274" y="1751" width="6.0" height="30.0" fill="#b3d0ee" fill-opacity="0.92"/><rect x="1305.2" y="1751" width="9.5" height="30.0" fill="#b3d0ee" fill-opacity="0.92"/><rect x="1319.5" y="1751" width="9.5" height="30.0" fill="#b3d0ee" fill-opacity="0.92"/><rect x="1357.7" y="1751" width="9.6" height="30.0" fill="#b3d0ee" fill-opacity="0.92"/><rect x="1368.5" y="1751" width="10.8" height="30.0" fill="#b3d0ee" fill-opacity="0.46"/><rect x="1397" y="1751" width="7.0" height="30.0" fill="#b3d0ee" fill-opacity="0.92"/><rect x="1420.9" y="1751" width="10.7" height="30.0" fill="#b3d0ee" fill-opacity="0.64"/><rect x="836.6" y="1784" width="605.2" height="23.2" fill="#322f88" fill-opacity="0.86"/><rect x="848" y="1784" width="7.0" height="23.2" fill="#b3d0ee" fill-opacity="0.92"/><rect x="866" y="1784" width="2.0" height="23.2" fill="#b3d0ee" fill-opacity="0.55"/><rect x="877" y="1784" width="5.6" height="23.2" fill="#b3d0ee" fill-opacity="0.92"/><rect x="892" y="1784" width="2.5" height="23.2" fill="#b3d0ee" fill-opacity="0.46"/><rect x="901.7" y="1784" width="3.3" height="23.2" fill="#b3d0ee" fill-opacity="0.74"/><rect x="916.6" y="1784" width="7.8" height="23.2" fill="#b3d0ee" fill-opacity="0.92"/><rect x="948.3" y="1784" width="2.4" height="23.2" fill="#b3d0ee" fill-opacity="0.55"/><rect x="960" y="1784" width="7.4" height="23.2" fill="#b3d0ee" fill-opacity="0.92"/><rect x="973.4" y="1784" width="7.2" height="23.2" fill="#b3d0ee" fill-opacity="0.92"/><rect x="1009.2" y="1784" width="9.4" height="23.2" fill="#b3d0ee" fill-opacity="0.92"/><rect x="1030.5" y="1784" width="7.2" height="23.2" fill="#b3d0ee" fill-opacity="0.92"/><rect x="1039" y="1784" width="3.5" height="23.2" fill="#b3d0ee" fill-opacity="0.46"/><rect x="1056.8" y="1784" width="6.0" height="23.2" fill="#b3d0ee" fill-opacity="0.74"/><rect x="1077" y="1784" width="5.0" height="23.2" fill="#b3d0ee" fill-opacity="0.92"/><rect x="1093.9" y="1784" width="4.8" height="23.2" fill="#b3d0ee" fill-opacity="0.92"/><rect x="1103.4" y="1784" width="6.0" height="23.2" fill="#b3d0ee" fill-opacity="0.92"/><rect x="1122.6" y="1784" width="4.7" height="23.2" fill="#b3d0ee" fill-opacity="0.92"/><rect x="1127.3" y="1784" width="12.0" height="23.2" fill="#b3d0ee" fill-opacity="0.55"/><rect x="1145.3" y="1784" width="13.1" height="23.2" fill="#b3d0ee" fill-opacity="0.92"/><rect x="1181" y="1784" width="13.3" height="23.2" fill="#b3d0ee" fill-opacity="0.92"/><rect x="1207" y="1784" width="8.5" height="23.2" fill="#b3d0ee" fill-opacity="0.92"/><rect x="1230" y="1784" width="3.5" height="23.2" fill="#b3d0ee" fill-opacity="0.74"/><rect x="1244.2" y="1784" width="8.4" height="23.2" fill="#b3d0ee" fill-opacity="0.74"/><rect x="1274" y="1784" width="6.0" height="23.2" fill="#b3d0ee" fill-opacity="0.92"/><rect x="1305.2" y="1784" width="9.5" height="23.2" fill="#b3d0ee" fill-opacity="0.92"/><rect x="1319.5" y="1784" width="9.5" height="23.2" fill="#b3d0ee" fill-opacity="0.92"/><rect x="1357.7" y="1784" width="9.6" height="23.2" fill="#b3d0ee" fill-opacity="0.92"/><rect x="1368.5" y="1784" width="10.8" height="23.2" fill="#b3d0ee" fill-opacity="0.46"/><rect x="1397" y="1784" width="7.0" height="23.2" fill="#b3d0ee" fill-opacity="0.92"/><rect x="1420.9" y="1784" width="10.7" height="23.2" fill="#b3d0ee" fill-opacity="0.64"/><rect x="1442.2" y="1110.2" width="26.1" height="591.0" fill="#322f88" fill-opacity="0.86"/><rect x="1442.2" y="1121.3" width="26.1" height="6.8" fill="#b3d0ee" fill-opacity="0.92"/><rect x="1442.2" y="1138.9" width="26.1" height="2.0" fill="#b3d0ee" fill-opacity="0.55"/><rect x="1442.2" y="1149.6" width="26.1" height="5.5" fill="#b3d0ee" fill-opacity="0.92"/><rect x="1442.2" y="1164.3" width="26.1" height="2.4" fill="#b3d0ee" fill-opacity="0.46"/><rect x="1442.2" y="1173.8" width="26.1" height="3.2" fill="#b3d0ee" fill-opacity="0.74"/><rect x="1442.2" y="1188.3" width="26.1" height="7.6" fill="#b3d0ee" fill-opacity="0.92"/><rect x="1442.2" y="1219.3" width="26.1" height="2.3" fill="#b3d0ee" fill-opacity="0.55"/><rect x="1442.2" y="1230.7" width="26.1" height="7.2" fill="#b3d0ee" fill-opacity="0.92"/><rect x="1442.2" y="1243.8" width="26.1" height="7.0" fill="#b3d0ee" fill-opacity="0.92"/><rect x="1442.2" y="1278.7" width="26.1" height="9.2" fill="#b3d0ee" fill-opacity="0.92"/><rect x="1442.2" y="1299.5" width="26.1" height="7.0" fill="#b3d0ee" fill-opacity="0.92"/><rect x="1442.2" y="1307.8" width="26.1" height="3.4" fill="#b3d0ee" fill-opacity="0.46"/><rect x="1442.2" y="1325.2" width="26.1" height="5.9" fill="#b3d0ee" fill-opacity="0.74"/><rect x="1442.2" y="1344.9" width="26.1" height="4.9" fill="#b3d0ee" fill-opacity="0.92"/><rect x="1442.2" y="1361.4" width="26.1" height="4.7" fill="#b3d0ee" fill-opacity="0.92"/><rect x="1442.2" y="1370.7" width="26.1" height="5.9" fill="#b3d0ee" fill-opacity="0.92"/><rect x="1442.2" y="1389.5" width="26.1" height="4.6" fill="#b3d0ee" fill-opacity="0.92"/><rect x="1442.2" y="1394.1" width="26.1" height="11.7" fill="#b3d0ee" fill-opacity="0.55"/><rect x="1442.2" y="1411.6" width="26.1" height="12.8" fill="#b3d0ee" fill-opacity="0.92"/><rect x="1442.2" y="1446.5" width="26.1" height="13.0" fill="#b3d0ee" fill-opacity="0.92"/><rect x="1442.2" y="1471.9" width="26.1" height="8.3" fill="#b3d0ee" fill-opacity="0.92"/><rect x="1442.2" y="1494.3" width="26.1" height="3.4" fill="#b3d0ee" fill-opacity="0.74"/><rect x="1442.2" y="1508.2" width="26.1" height="8.2" fill="#b3d0ee" fill-opacity="0.74"/><rect x="1442.2" y="1537.3" width="26.1" height="5.9" fill="#b3d0ee" fill-opacity="0.92"/><rect x="1442.2" y="1567.8" width="26.1" height="9.3" fill="#b3d0ee" fill-opacity="0.92"/><rect x="1442.2" y="1581.7" width="26.1" height="9.3" fill="#b3d0ee" fill-opacity="0.92"/><rect x="1442.2" y="1619.0" width="26.1" height="9.4" fill="#b3d0ee" fill-opacity="0.92"/><rect x="1442.2" y="1629.6" width="26.1" height="10.5" fill="#b3d0ee" fill-opacity="0.46"/><rect x="1442.2" y="1657.4" width="26.1" height="6.8" fill="#b3d0ee" fill-opacity="0.92"/><rect x="1442.2" y="1680.7" width="26.1" height="10.4" fill="#b3d0ee" fill-opacity="0.64"/><rect x="1492.8" y="1110.2" width="30.7" height="591.0" fill="#322f88" fill-opacity="0.86"/><rect x="1492.8" y="1121.3" width="30.7" height="6.8" fill="#b3d0ee" fill-opacity="0.92"/><rect x="1492.8" y="1138.9" width="30.7" height="2.0" fill="#b3d0ee" fill-opacity="0.55"/><rect x="1492.8" y="1149.6" width="30.7" height="5.5" fill="#b3d0ee" fill-opacity="0.92"/><rect x="1492.8" y="1164.3" width="30.7" height="2.4" fill="#b3d0ee" fill-opacity="0.46"/><rect x="1492.8" y="1173.8" width="30.7" height="3.2" fill="#b3d0ee" fill-opacity="0.74"/><rect x="1492.8" y="1188.3" width="30.7" height="7.6" fill="#b3d0ee" fill-opacity="0.92"/><rect x="1492.8" y="1219.3" width="30.7" height="2.3" fill="#b3d0ee" fill-opacity="0.55"/><rect x="1492.8" y="1230.7" width="30.7" height="7.2" fill="#b3d0ee" fill-opacity="0.92"/><rect x="1492.8" y="1243.8" width="30.7" height="7.0" fill="#b3d0ee" fill-opacity="0.92"/><rect x="1492.8" y="1278.7" width="30.7" height="9.2" fill="#b3d0ee" fill-opacity="0.92"/><rect x="1492.8" y="1299.5" width="30.7" height="7.0" fill="#b3d0ee" fill-opacity="0.92"/><rect x="1492.8" y="1307.8" width="30.7" height="3.4" fill="#b3d0ee" fill-opacity="0.46"/><rect x="1492.8" y="1325.2" width="30.7" height="5.9" fill="#b3d0ee" fill-opacity="0.74"/><rect x="1492.8" y="1344.9" width="30.7" height="4.9" fill="#b3d0ee" fill-opacity="0.92"/><rect x="1492.8" y="1361.4" width="30.7" height="4.7" fill="#b3d0ee" fill-opacity="0.92"/><rect x="1492.8" y="1370.7" width="30.7" height="5.9" fill="#b3d0ee" fill-opacity="0.92"/><rect x="1492.8" y="1389.5" width="30.7" height="4.6" fill="#b3d0ee" fill-opacity="0.92"/><rect x="1492.8" y="1394.1" width="30.7" height="11.7" fill="#b3d0ee" fill-opacity="0.55"/><rect x="1492.8" y="1411.6" width="30.7" height="12.8" fill="#b3d0ee" fill-opacity="0.92"/><rect x="1492.8" y="1446.5" width="30.7" height="13.0" fill="#b3d0ee" fill-opacity="0.92"/><rect x="1492.8" y="1471.9" width="30.7" height="8.3" fill="#b3d0ee" fill-opacity="0.92"/><rect x="1492.8" y="1494.3" width="30.7" height="3.4" fill="#b3d0ee" fill-opacity="0.74"/><rect x="1492.8" y="1508.2" width="30.7" height="8.2" fill="#b3d0ee" fill-opacity="0.74"/><rect x="1492.8" y="1537.3" width="30.7" height="5.9" fill="#b3d0ee" fill-opacity="0.92"/><rect x="1492.8" y="1567.8" width="30.7" height="9.3" fill="#b3d0ee" fill-opacity="0.92"/><rect x="1492.8" y="1581.7" width="30.7" height="9.3" fill="#b3d0ee" fill-opacity="0.92"/><rect x="1492.8" y="1619.0" width="30.7" height="9.4" fill="#b3d0ee" fill-opacity="0.92"/><rect x="1492.8" y="1629.6" width="30.7" height="10.5" fill="#b3d0ee" fill-opacity="0.46"/><rect x="1492.8" y="1657.4" width="30.7" height="6.8" fill="#b3d0ee" fill-opacity="0.92"/><rect x="1492.8" y="1680.7" width="30.7" height="10.4" fill="#b3d0ee" fill-opacity="0.64"/><rect x="1526.6" y="1110.2" width="23.8" height="591.0" fill="#322f88" fill-opacity="0.86"/><rect x="1526.6" y="1121.3" width="23.8" height="6.8" fill="#b3d0ee" fill-opacity="0.92"/><rect x="1526.6" y="1138.9" width="23.8" height="2.0" fill="#b3d0ee" fill-opacity="0.55"/><rect x="1526.6" y="1149.6" width="23.8" height="5.5" fill="#b3d0ee" fill-opacity="0.92"/><rect x="1526.6" y="1164.3" width="23.8" height="2.4" fill="#b3d0ee" fill-opacity="0.46"/><rect x="1526.6" y="1173.8" width="23.8" height="3.2" fill="#b3d0ee" fill-opacity="0.74"/><rect x="1526.6" y="1188.3" width="23.8" height="7.6" fill="#b3d0ee" fill-opacity="0.92"/><rect x="1526.6" y="1219.3" width="23.8" height="2.3" fill="#b3d0ee" fill-opacity="0.55"/><rect x="1526.6" y="1230.7" width="23.8" height="7.2" fill="#b3d0ee" fill-opacity="0.92"/><rect x="1526.6" y="1243.8" width="23.8" height="7.0" fill="#b3d0ee" fill-opacity="0.92"/><rect x="1526.6" y="1278.7" width="23.8" height="9.2" fill="#b3d0ee" fill-opacity="0.92"/><rect x="1526.6" y="1299.5" width="23.8" height="7.0" fill="#b3d0ee" fill-opacity="0.92"/><rect x="1526.6" y="1307.8" width="23.8" height="3.4" fill="#b3d0ee" fill-opacity="0.46"/><rect x="1526.6" y="1325.2" width="23.8" height="5.9" fill="#b3d0ee" fill-opacity="0.74"/><rect x="1526.6" y="1344.9" width="23.8" height="4.9" fill="#b3d0ee" fill-opacity="0.92"/><rect x="1526.6" y="1361.4" width="23.8" height="4.7" fill="#b3d0ee" fill-opacity="0.92"/><rect x="1526.6" y="1370.7" width="23.8" height="5.9" fill="#b3d0ee" fill-opacity="0.92"/><rect x="1526.6" y="1389.5" width="23.8" height="4.6" fill="#b3d0ee" fill-opacity="0.92"/><rect x="1526.6" y="1394.1" width="23.8" height="11.7" fill="#b3d0ee" fill-opacity="0.55"/><rect x="1526.6" y="1411.6" width="23.8" height="12.8" fill="#b3d0ee" fill-opacity="0.92"/><rect x="1526.6" y="1446.5" width="23.8" height="13.0" fill="#b3d0ee" fill-opacity="0.92"/><rect x="1526.6" y="1471.9" width="23.8" height="8.3" fill="#b3d0ee" fill-opacity="0.92"/><rect x="1526.6" y="1494.3" width="23.8" height="3.4" fill="#b3d0ee" fill-opacity="0.74"/><rect x="1526.6" y="1508.2" width="23.8" height="8.2" fill="#b3d0ee" fill-opacity="0.74"/><rect x="1526.6" y="1537.3" width="23.8" height="5.9" fill="#b3d0ee" fill-opacity="0.92"/><rect x="1526.6" y="1567.8" width="23.8" height="9.3" fill="#b3d0ee" fill-opacity="0.92"/><rect x="1526.6" y="1581.7" width="23.8" height="9.3" fill="#b3d0ee" fill-opacity="0.92"/><rect x="1526.6" y="1619.0" width="23.8" height="9.4" fill="#b3d0ee" fill-opacity="0.92"/><rect x="1526.6" y="1629.6" width="23.8" height="10.5" fill="#b3d0ee" fill-opacity="0.46"/><rect x="1526.6" y="1657.4" width="23.8" height="6.8" fill="#b3d0ee" fill-opacity="0.92"/><rect x="1526.6" y="1680.7" width="23.8" height="10.4" fill="#b3d0ee" fill-opacity="0.64"/><rect x="836.6" y="1713.8" width="605.2" height="2.4" fill="#7890ca" fill-opacity="0.75"/><rect x="1454.7" y="1110.2" width="2.5" height="591.0" fill="#7890ca" fill-opacity="0.75"/><rect x="1441.8" y="1701.2" width="108.6" height="106.0" fill="#b3d0ee"/><rect x="1468.3" y="1701.5" width="24.6" height="25.5" fill="#322f88" fill-opacity="0.85"/><rect x="1442.2" y="1727.0" width="26.1" height="24.0" fill="#322f88" fill-opacity="0.85"/><rect x="1523.6" y="1701.5" width="3.1" height="25.5" fill="#322f88" fill-opacity="0.85"/><rect x="1442.2" y="1781.0" width="26.1" height="3.0" fill="#322f88" fill-opacity="0.85"/><rect x="1468.3" y="1751" width="24.6" height="30.0" fill="#322f88" fill-opacity="0.85"/><rect x="1492.8" y="1727.0" width="30.7" height="24.0" fill="#322f88" fill-opacity="0.85"/><rect x="1523.6" y="1751" width="3.1" height="30.0" fill="#322f88" fill-opacity="0.85"/><rect x="1492.8" y="1781.0" width="30.7" height="3.0" fill="#322f88" fill-opacity="0.85"/><rect x="1468.3" y="1784" width="24.6" height="23.2" fill="#322f88" fill-opacity="0.85"/><rect x="1526.6" y="1727.0" width="23.8" height="24.0" fill="#322f88" fill-opacity="0.85"/><rect x="1523.6" y="1784" width="3.1" height="23.2" fill="#322f88" fill-opacity="0.85"/><rect x="1526.6" y="1781.0" width="23.8" height="3.0" fill="#322f88" fill-opacity="0.85"/><rect x="836.3" y="1109.9" width="27.9" height="27.2" fill="#c9e5f5" fill-opacity="0.55"/><rect x="864.1" y="1137.1" width="38.9" height="38.0" fill="#c9e5f5" fill-opacity="0.55"/><rect x="903.1" y="1175.1" width="28.9" height="28.2" fill="#c9e5f5" fill-opacity="0.55"/><rect x="931.9" y="1203.3" width="28.4" height="27.7" fill="#c9e5f5" fill-opacity="0.55"/><rect x="960.3" y="1231.0" width="29.7" height="29.0" fill="#c9e5f5" fill-opacity="0.55"/><rect x="990.0" y="1260.0" width="26.7" height="26.1" fill="#c9e5f5" fill-opacity="0.55"/><rect x="1016.7" y="1286.1" width="25.9" height="25.3" fill="#c9e5f5" fill-opacity="0.55"/><rect x="1042.6" y="1311.4" width="25.3" height="24.7" fill="#c9e5f5" fill-opacity="0.55"/><rect x="1067.9" y="1336.1" width="26.3" height="25.7" fill="#c9e5f5" fill-opacity="0.55"/><rect x="1094.3" y="1361.8" width="25.3" height="24.7" fill="#c9e5f5" fill-opacity="0.55"/><rect x="1119.6" y="1386.5" width="25.3" height="24.7" fill="#c9e5f5" fill-opacity="0.55"/><rect x="1144.9" y="1411.2" width="23.2" height="22.7" fill="#c9e5f5" fill-opacity="0.55"/><rect x="1168.1" y="1433.9" width="28.8" height="28.1" fill="#c9e5f5" fill-opacity="0.55"/><rect x="1196.9" y="1462.0" width="23.7" height="23.1" fill="#c9e5f5" fill-opacity="0.55"/><rect x="1220.5" y="1485.1" width="23.6" height="23.0" fill="#c9e5f5" fill-opacity="0.55"/><rect x="1244.1" y="1508.1" width="23.0" height="22.5" fill="#c9e5f5" fill-opacity="0.55"/><rect x="1267.1" y="1530.6" width="25.9" height="25.3" fill="#c9e5f5" fill-opacity="0.55"/><rect x="1293.0" y="1555.9" width="23.0" height="22.5" fill="#c9e5f5" fill-opacity="0.55"/><rect x="1316.1" y="1578.4" width="20.8" height="20.3" fill="#c9e5f5" fill-opacity="0.55"/><rect x="1336.9" y="1598.7" width="18.4" height="18.0" fill="#c9e5f5" fill-opacity="0.55"/><rect x="1355.3" y="1616.7" width="16.2" height="15.8" fill="#c9e5f5" fill-opacity="0.55"/><rect x="1371.5" y="1632.5" width="17.5" height="17.1" fill="#c9e5f5" fill-opacity="0.55"/><rect x="1389.0" y="1649.6" width="17.2" height="16.8" fill="#c9e5f5" fill-opacity="0.55"/><rect x="1406.2" y="1666.4" width="17.8" height="17.4" fill="#c9e5f5" fill-opacity="0.55"/><rect x="1424.0" y="1683.8" width="17.6" height="17.2" fill="#c9e5f5" fill-opacity="0.55"/><rect x="1441.6" y="1701.0" width="17.2" height="16.8" fill="#c9e5f5" fill-opacity="0.55"/><rect x="1458.8" y="1717.8" width="17.8" height="17.4" fill="#c9e5f5" fill-opacity="0.55"/><rect x="1476.7" y="1735.2" width="17.2" height="16.8" fill="#c9e5f5" fill-opacity="0.55"/><rect x="1493.9" y="1752.0" width="13.9" height="13.6" fill="#c9e5f5" fill-opacity="0.55"/><rect x="1507.8" y="1765.6" width="14.3" height="14.0" fill="#c9e5f5" fill-opacity="0.55"/><rect x="1522.1" y="1779.6" width="15.1" height="14.7" fill="#c9e5f5" fill-opacity="0.55"/><rect x="1537.2" y="1794.3" width="13.2" height="12.9" fill="#c9e5f5" fill-opacity="0.55"/><rect x="836.6" y="1110.2" width="713.8" height="697.0" filter="url(#nz)" opacity="0.4"/><line x1="937.7" y1="1110.2" x2="937.7" y2="1807.2" stroke="#23236a" stroke-width="1" stroke-opacity="0.55"/><line x1="1144.4" y1="1110.2" x2="1144.4" y2="1807.2" stroke="#23236a" stroke-width="1" stroke-opacity="0.55"/><line x1="1195.9" y1="1110.2" x2="1195.9" y2="1807.2" stroke="#23236a" stroke-width="1" stroke-opacity="0.55"/><line x1="1315" y1="1110.2" x2="1315" y2="1807.2" stroke="#23236a" stroke-width="1" stroke-opacity="0.55"/><line x1="836.6" y1="1217" x2="1550.4" y2="1217" stroke="#23236a" stroke-width="1" stroke-opacity="0.55"/><line x1="836.6" y1="1273.6" x2="1550.4" y2="1273.6" stroke="#23236a" stroke-width="1" stroke-opacity="0.55"/><line x1="836.6" y1="1434.8" x2="1550.4" y2="1434.8" stroke="#23236a" stroke-width="1" stroke-opacity="0.55"/><line x1="836.6" y1="1564.7" x2="1550.4" y2="1564.7" stroke="#23236a" stroke-width="1" stroke-opacity="0.55"/><line x1="836.6" y1="1738.4" x2="1550.4" y2="1738.4" stroke="#23236a" stroke-width="1" stroke-opacity="0.55"/><ellipse cx="1073" cy="1164" rx="5" ry="4" fill="#e4f2f8" fill-opacity="0.85" filter="url(#bl)"/><ellipse cx="1271.6" cy="1167" rx="5" ry="4" fill="#e4f2f8" fill-opacity="0.85" filter="url(#bl)"/><ellipse cx="1299.6" cy="1164.8" rx="5" ry="4" fill="#e4f2f8" fill-opacity="0.85" filter="url(#bl)"/><ellipse cx="889.5" cy="1340.6" rx="5" ry="4" fill="#e4f2f8" fill-opacity="0.85" filter="url(#bl)"/><ellipse cx="1271.6" cy="1340.6" rx="5" ry="4" fill="#e4f2f8" fill-opacity="0.85" filter="url(#bl)"/><ellipse cx="1299.6" cy="1340.6" rx="5" ry="4" fill="#e4f2f8" fill-opacity="0.85" filter="url(#bl)"/><ellipse cx="894.6" cy="1534" rx="5" ry="4" fill="#e4f2f8" fill-opacity="0.85" filter="url(#bl)"/><ellipse cx="889.5" cy="1562" rx="5" ry="4" fill="#e4f2f8" fill-opacity="0.85" filter="url(#bl)"/><ellipse cx="1073" cy="1534" rx="5" ry="4" fill="#e4f2f8" fill-opacity="0.85" filter="url(#bl)"/><ellipse cx="1073" cy="1562" rx="5" ry="4" fill="#e4f2f8" fill-opacity="0.85" filter="url(#bl)"/><ellipse cx="1299.6" cy="1534" rx="5" ry="4" fill="#e4f2f8" fill-opacity="0.85" filter="url(#bl)"/><ellipse cx="1404" cy="1562" rx="5" ry="4" fill="#e4f2f8" fill-opacity="0.85" filter="url(#bl)"/><ellipse cx="1299.6" cy="1664" rx="5" ry="4" fill="#e4f2f8" fill-opacity="0.85" filter="url(#bl)"/><ellipse cx="1180" cy="1192" rx="5" ry="4" fill="#e4f2f8" fill-opacity="0.85" filter="url(#bl)"/><ellipse cx="969" cy="1179" rx="5" ry="4" fill="#e4f2f8" fill-opacity="0.85" filter="url(#bl)"/><line x1="836.6" y1="1110.2" x2="1550.4" y2="1807.2" stroke="#fbf3c6" stroke-width="6"/><line x1="836.6" y1="1110.2" x2="1550.4" y2="1807.2" stroke="#d8852c" stroke-width="1.8"/></g><rect x="836.6" y="1110.2" width="713.8" height="697.0" fill="none" stroke="#15153a" stroke-width="1.6"/><g font-family="'DejaVu Sans', sans-serif" font-size="19" fill="#111" stroke="#111" stroke-width="0.35"><line x1="829.6" y1="1109.9" x2="836.6" y2="1109.9" stroke="#111" stroke-width="1.5"/><text x="821.5" y="1116.6" text-anchor="end">1</text><line x1="836.3" y1="1807.2" x2="836.3" y2="1815.5" stroke="#111" stroke-width="1.5"/><line x1="829.6" y1="1137.1" x2="836.6" y2="1137.1" stroke="#111" stroke-width="1.5"/><text x="821.5" y="1143.8" text-anchor="end">2</text><line x1="864.1" y1="1807.2" x2="864.1" y2="1815.5" stroke="#111" stroke-width="1.5"/><line x1="829.6" y1="1175.1" x2="836.6" y2="1175.1" stroke="#111" stroke-width="1.5"/><text x="821.5" y="1181.8" text-anchor="end">3</text><line x1="903.1" y1="1807.2" x2="903.1" y2="1815.5" stroke="#111" stroke-width="1.5"/><line x1="829.6" y1="1203.3" x2="836.6" y2="1203.3" stroke="#111" stroke-width="1.5"/><text x="821.5" y="1210.0" text-anchor="end">4</text><line x1="931.9" y1="1807.2" x2="931.9" y2="1815.5" stroke="#111" stroke-width="1.5"/><line x1="829.6" y1="1231" x2="836.6" y2="1231" stroke="#111" stroke-width="1.5"/><text x="821.5" y="1237.7" text-anchor="end">5</text><line x1="960.3" y1="1807.2" x2="960.3" y2="1815.5" stroke="#111" stroke-width="1.5"/><line x1="829.6" y1="1260" x2="836.6" y2="1260" stroke="#111" stroke-width="1.5"/><text x="821.5" y="1266.7" text-anchor="end">6</text><line x1="990.0" y1="1807.2" x2="990.0" y2="1815.5" stroke="#111" stroke-width="1.5"/><line x1="829.6" y1="1286.1" x2="836.6" y2="1286.1" stroke="#111" stroke-width="1.5"/><text x="821.5" y="1292.8" text-anchor="end">7</text><line x1="1016.7" y1="1807.2" x2="1016.7" y2="1815.5" stroke="#111" stroke-width="1.5"/><line x1="829.6" y1="1311.4" x2="836.6" y2="1311.4" stroke="#111" stroke-width="1.5"/><text x="821.5" y="1318.1" text-anchor="end">8</text><line x1="1042.6" y1="1807.2" x2="1042.6" y2="1815.5" stroke="#111" stroke-width="1.5"/><line x1="829.6" y1="1336.1" x2="836.6" y2="1336.1" stroke="#111" stroke-width="1.5"/><text x="821.5" y="1342.8" text-anchor="end">9</text><line x1="1067.9" y1="1807.2" x2="1067.9" y2="1815.5" stroke="#111" stroke-width="1.5"/><line x1="829.6" y1="1361.8" x2="836.6" y2="1361.8" stroke="#111" stroke-width="1.5"/><text x="821.5" y="1368.5" text-anchor="end">10</text><line x1="1094.3" y1="1807.2" x2="1094.3" y2="1815.5" stroke="#111" stroke-width="1.5"/><line x1="829.6" y1="1386.5" x2="836.6" y2="1386.5" stroke="#111" stroke-width="1.5"/><text x="821.5" y="1393.2" text-anchor="end">11</text><line x1="1119.6" y1="1807.2" x2="1119.6" y2="1815.5" stroke="#111" stroke-width="1.5"/><line x1="829.6" y1="1411.2" x2="836.6" y2="1411.2" stroke="#111" stroke-width="1.5"/><text x="821.5" y="1417.9" text-anchor="end">12</text><line x1="1144.9" y1="1807.2" x2="1144.9" y2="1815.5" stroke="#111" stroke-width="1.5"/><line x1="829.6" y1="1433.9" x2="836.6" y2="1433.9" stroke="#111" stroke-width="1.5"/><text x="821.5" y="1440.6" text-anchor="end">13</text><line x1="1168.1" y1="1807.2" x2="1168.1" y2="1815.5" stroke="#111" stroke-width="1.5"/><line x1="829.6" y1="1462" x2="836.6" y2="1462" stroke="#111" stroke-width="1.5"/><text x="821.5" y="1468.7" text-anchor="end">14</text><line x1="1196.9" y1="1807.2" x2="1196.9" y2="1815.5" stroke="#111" stroke-width="1.5"/><line x1="829.6" y1="1485.1" x2="836.6" y2="1485.1" stroke="#111" stroke-width="1.5"/><text x="821.5" y="1491.8" text-anchor="end">15</text><line x1="1220.5" y1="1807.2" x2="1220.5" y2="1815.5" stroke="#111" stroke-width="1.5"/><line x1="829.6" y1="1508.1" x2="836.6" y2="1508.1" stroke="#111" stroke-width="1.5"/><text x="821.5" y="1514.8" text-anchor="end">16</text><line x1="1244.1" y1="1807.2" x2="1244.1" y2="1815.5" stroke="#111" stroke-width="1.5"/><line x1="829.6" y1="1530.6" x2="836.6" y2="1530.6" stroke="#111" stroke-width="1.5"/><text x="821.5" y="1537.3" text-anchor="end">17</text><line x1="1267.1" y1="1807.2" x2="1267.1" y2="1815.5" stroke="#111" stroke-width="1.5"/><line x1="829.6" y1="1555.9" x2="836.6" y2="1555.9" stroke="#111" stroke-width="1.5"/><text x="821.5" y="1562.6" text-anchor="end">18</text><line x1="1293.0" y1="1807.2" x2="1293.0" y2="1815.5" stroke="#111" stroke-width="1.5"/><line x1="829.6" y1="1578.4" x2="836.6" y2="1578.4" stroke="#111" stroke-width="1.5"/><text x="821.5" y="1585.1" text-anchor="end">19</text><line x1="1316.1" y1="1807.2" x2="1316.1" y2="1815.5" stroke="#111" stroke-width="1.5"/><line x1="829.6" y1="1598.7" x2="836.6" y2="1598.7" stroke="#111" stroke-width="1.5"/><text x="821.5" y="1605.4" text-anchor="end">20</text><line x1="1336.9" y1="1807.2" x2="1336.9" y2="1815.5" stroke="#111" stroke-width="1.5"/><line x1="829.6" y1="1616.7" x2="836.6" y2="1616.7" stroke="#111" stroke-width="1.5"/><text x="821.5" y="1623.4" text-anchor="end">21</text><line x1="1355.3" y1="1807.2" x2="1355.3" y2="1815.5" stroke="#111" stroke-width="1.5"/><line x1="829.6" y1="1632.5" x2="836.6" y2="1632.5" stroke="#111" stroke-width="1.5"/><text x="821.5" y="1639.2" text-anchor="end">22</text><line x1="1371.5" y1="1807.2" x2="1371.5" y2="1815.5" stroke="#111" stroke-width="1.5"/><line x1="829.6" y1="1649.6" x2="836.6" y2="1649.6" stroke="#111" stroke-width="1.5"/><text x="821.5" y="1656.3" text-anchor="end">23</text><line x1="1389.0" y1="1807.2" x2="1389.0" y2="1815.5" stroke="#111" stroke-width="1.5"/><line x1="829.6" y1="1666.4" x2="836.6" y2="1666.4" stroke="#111" stroke-width="1.5"/><text x="821.5" y="1673.1" text-anchor="end">24</text><line x1="1406.2" y1="1807.2" x2="1406.2" y2="1815.5" stroke="#111" stroke-width="1.5"/><line x1="829.6" y1="1683.8" x2="836.6" y2="1683.8" stroke="#111" stroke-width="1.5"/><text x="821.5" y="1690.5" text-anchor="end">25</text><line x1="1424.0" y1="1807.2" x2="1424.0" y2="1815.5" stroke="#111" stroke-width="1.5"/><line x1="829.6" y1="1701" x2="836.6" y2="1701" stroke="#111" stroke-width="1.5"/><text x="821.5" y="1707.7" text-anchor="end">26</text><line x1="1441.6" y1="1807.2" x2="1441.6" y2="1815.5" stroke="#111" stroke-width="1.5"/><line x1="829.6" y1="1717.8" x2="836.6" y2="1717.8" stroke="#111" stroke-width="1.5"/><text x="821.5" y="1724.5" text-anchor="end">27</text><line x1="1458.8" y1="1807.2" x2="1458.8" y2="1815.5" stroke="#111" stroke-width="1.5"/><line x1="829.6" y1="1735.2" x2="836.6" y2="1735.2" stroke="#111" stroke-width="1.5"/><text x="821.5" y="1741.9" text-anchor="end">29</text><line x1="1476.7" y1="1807.2" x2="1476.7" y2="1815.5" stroke="#111" stroke-width="1.5"/><line x1="829.6" y1="1752" x2="836.6" y2="1752" stroke="#111" stroke-width="1.5"/><text x="821.5" y="1758.7" text-anchor="end">30</text><line x1="1493.9" y1="1807.2" x2="1493.9" y2="1815.5" stroke="#111" stroke-width="1.5"/><line x1="829.6" y1="1765.6" x2="836.6" y2="1765.6" stroke="#111" stroke-width="1.5"/><text x="821.5" y="1772.3" text-anchor="end">31</text><line x1="1507.8" y1="1807.2" x2="1507.8" y2="1815.5" stroke="#111" stroke-width="1.5"/><line x1="829.6" y1="1779.6" x2="836.6" y2="1779.6" stroke="#111" stroke-width="1.5"/><text x="821.5" y="1786.3" text-anchor="end">32</text><line x1="1522.1" y1="1807.2" x2="1522.1" y2="1815.5" stroke="#111" stroke-width="1.5"/><line x1="829.6" y1="1794.3" x2="836.6" y2="1794.3" stroke="#111" stroke-width="1.5"/><text x="821.5" y="1801.0" text-anchor="end">33</text><line x1="1537.2" y1="1807.2" x2="1537.2" y2="1815.5" stroke="#111" stroke-width="1.5"/></g><line x1="778.5" y1="1613" x2="785" y2="1613" stroke="#111" stroke-width="1.5"/>
</svg>
</body></html>
